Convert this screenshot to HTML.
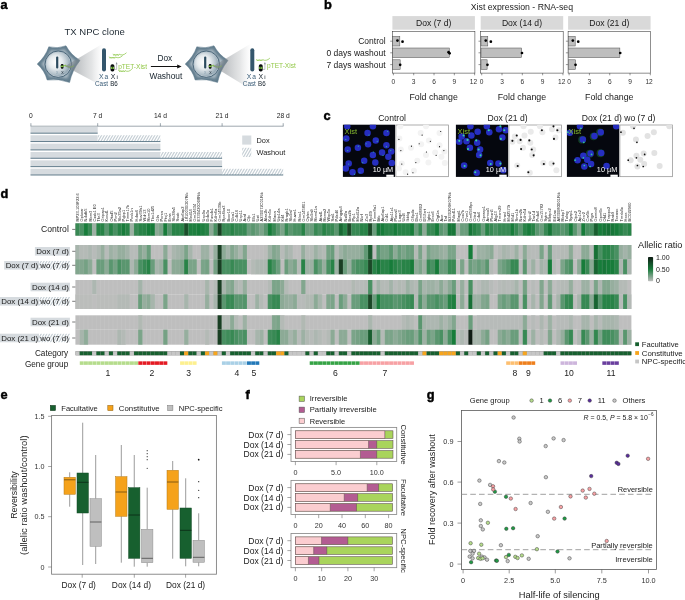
<!DOCTYPE html>
<html lang="en"><head><meta charset="utf-8"><title>Figure</title>
<style>
html,body{margin:0;padding:0;background:#fff;}
body{width:685px;height:600px;overflow:hidden;font-family:"Liberation Sans",sans-serif;}
svg{display:block;font-family:"Liberation Sans",sans-serif;}
</style></head><body>
<svg width="685" height="600" viewBox="0 0 685 600">
<rect width="685" height="600" fill="#fff"/>
<defs>
<pattern id="hatch" width="2.45" height="2.45" patternUnits="userSpaceOnUse" patternTransform="rotate(30)">
<rect width="2.45" height="2.45" fill="#fff"/><rect width="1.2" height="2.45" fill="#c6cfd5"/></pattern>
<radialGradient id="cellg" cx="50%" cy="50%" r="50%"><stop offset="0" stop-color="#c8d3da"/><stop offset="0.62" stop-color="#93a7b3"/><stop offset="1" stop-color="#5f7a8b"/></radialGradient>
<radialGradient id="nucg" cx="40%" cy="42%" r="62%"><stop offset="0" stop-color="#ffffff"/><stop offset="0.45" stop-color="#e6ebee"/><stop offset="0.8" stop-color="#b4c2cb"/><stop offset="1" stop-color="#8ea3b0"/></radialGradient>
<linearGradient id="beam" x1="0" x2="1" y1="0" y2="0"><stop offset="0" stop-color="#6f767b" stop-opacity="0.5"/><stop offset="0.35" stop-color="#858b90" stop-opacity="0.5"/><stop offset="0.7" stop-color="#a9adb0" stop-opacity="0.33"/><stop offset="1" stop-color="#c9cccf" stop-opacity="0"/></linearGradient>
<linearGradient id="cbar" x1="0" x2="0" y1="0" y2="1"><stop offset="0" stop-color="#0d1a12"/><stop offset="0.25" stop-color="#144d29"/><stop offset="0.5" stop-color="#177a3a"/><stop offset="0.75" stop-color="#6a9c7c"/><stop offset="1" stop-color="#bebebe"/></linearGradient>
<filter id="b1" x="-50%" y="-50%" width="200%" height="200%"><feGaussianBlur stdDeviation="0.75"/></filter>
<filter id="b3" x="-50%" y="-50%" width="200%" height="200%"><feGaussianBlur stdDeviation="1.5"/></filter>
<filter id="b2" x="-50%" y="-50%" width="200%" height="200%"><feGaussianBlur stdDeviation="0.4"/></filter>
</defs>
<text x="0.5" y="9.2" font-size="12.8" font-weight="700" fill="#000" stroke="#000" stroke-width="0.45">a</text>
<text x="324.0" y="9.0" font-size="12.8" font-weight="700" fill="#000" stroke="#000" stroke-width="0.45">b</text>
<text x="323.6" y="119.9" font-size="12.8" font-weight="700" fill="#000" stroke="#000" stroke-width="0.45">c</text>
<text x="0.5" y="198.1" font-size="12.8" font-weight="700" fill="#000" stroke="#000" stroke-width="0.45">d</text>
<text x="0.6" y="399.2" font-size="12.8" font-weight="700" fill="#000" stroke="#000" stroke-width="0.45">e</text>
<text x="245.5" y="399.0" font-size="12.8" font-weight="700" fill="#000" stroke="#000" stroke-width="0.45">f</text>
<text x="426.7" y="399.0" font-size="12.8" font-weight="700" fill="#000" stroke="#000" stroke-width="0.45">g</text>
<path d="M37.20,64.00 Q45.48,56.70 48.80,46.80 Q57.58,49.05 66.00,45.80 Q70.68,54.76 80.00,60.40 Q72.19,70.14 69.60,82.40 Q58.42,78.37 47.20,80.00 Q44.81,70.64 37.20,64.00Z" fill="#617c8d" stroke="#5d788a" stroke-width="0.5" stroke-linejoin="round"/>
<clipPath id="cc58"><path d="M37.20,64.00 Q45.48,56.70 48.80,46.80 Q57.58,49.05 66.00,45.80 Q70.68,54.76 80.00,60.40 Q72.19,70.14 69.60,82.40 Q58.42,78.37 47.20,80.00 Q44.81,70.64 37.20,64.00Z"/></clipPath>
<g clip-path="url(#cc58)"><g filter="url(#b3)"><path d="M37.20,64.00 Q45.48,56.70 48.80,46.80 Q57.58,49.05 66.00,45.80 Q70.68,54.76 80.00,60.40 Q72.19,70.14 69.60,82.40 Q58.42,78.37 47.20,80.00 Q44.81,70.64 37.20,64.00Z" fill="#b9c6ce" transform="translate(58.50,63.50) scale(0.80) translate(-58.50,-63.50)"/></g></g>
<circle cx="58.2" cy="64.2" r="14.2" fill="#8299a8" opacity="0.55" filter="url(#b2)"/>
<circle cx="58.2" cy="64.2" r="13.2" fill="#b7c4cd" stroke="#4b677a" stroke-width="1.0"/>
<circle cx="58.2" cy="64.2" r="11.9" fill="url(#nucg)"/>
<rect x="56.10" y="56.40" width="2.20" height="12.10" fill="#2b4a5e" rx="1.0"/>
<rect x="60.80" y="64.00" width="2.70" height="4.80" fill="#06090b" rx="1.2"/>
<rect x="60.80" y="65.60" width="2.70" height="1.50" fill="#7fc241"/>
<path d="M63.5,66.1 l2.2,-1.0 l-0.3,0.9 q2.5,0.2 3.6,1.0 t4.6,-1.0" fill="none" stroke="#86c440" stroke-width="0.9" stroke-linecap="round"/>
<text x="57.30" y="74.22" font-size="4.80" text-anchor="middle" fill="#8fa6b5">x</text>
<text x="62.40" y="74.22" font-size="4.80" text-anchor="middle" fill="#1f2e3a">x</text>
<path d="M65,66.3 L103,43.5 L103,86.5Z" fill="url(#beam)"/>
<path d="M185.20,64.00 Q193.48,56.70 196.80,46.80 Q205.58,49.05 214.00,45.80 Q218.68,54.76 228.00,60.40 Q220.19,70.14 217.60,82.40 Q206.42,78.37 195.20,80.00 Q192.81,70.64 185.20,64.00Z" fill="#617c8d" stroke="#5d788a" stroke-width="0.5" stroke-linejoin="round"/>
<clipPath id="cc206"><path d="M185.20,64.00 Q193.48,56.70 196.80,46.80 Q205.58,49.05 214.00,45.80 Q218.68,54.76 228.00,60.40 Q220.19,70.14 217.60,82.40 Q206.42,78.37 195.20,80.00 Q192.81,70.64 185.20,64.00Z"/></clipPath>
<g clip-path="url(#cc206)"><g filter="url(#b3)"><path d="M185.20,64.00 Q193.48,56.70 196.80,46.80 Q205.58,49.05 214.00,45.80 Q218.68,54.76 228.00,60.40 Q220.19,70.14 217.60,82.40 Q206.42,78.37 195.20,80.00 Q192.81,70.64 185.20,64.00Z" fill="#b9c6ce" transform="translate(206.50,63.50) scale(0.80) translate(-206.50,-63.50)"/></g></g>
<circle cx="206.2" cy="64.2" r="14.2" fill="#8299a8" opacity="0.55" filter="url(#b2)"/>
<circle cx="206.2" cy="64.2" r="13.2" fill="#b7c4cd" stroke="#4b677a" stroke-width="1.0"/>
<circle cx="206.2" cy="64.2" r="11.9" fill="url(#nucg)"/>
<rect x="204.10" y="56.40" width="2.20" height="12.10" fill="#2b4a5e" rx="1.0"/>
<rect x="208.80" y="64.00" width="2.70" height="4.80" fill="#06090b" rx="1.2"/>
<rect x="208.80" y="65.60" width="2.70" height="1.50" fill="#7fc241"/>
<path d="M211.5,66.1 l2.2,-1.0 l-0.3,0.9 q2.5,0.2 3.6,1.0 t4.6,-1.0" fill="none" stroke="#86c440" stroke-width="0.9" stroke-linecap="round"/>
<text x="205.30" y="74.22" font-size="4.80" text-anchor="middle" fill="#8fa6b5">x</text>
<text x="210.40" y="74.22" font-size="4.80" text-anchor="middle" fill="#1f2e3a">x</text>
<path d="M213,66.3 L251,43.5 L251,89.5Z" fill="url(#beam)"/>
<text x="64.50" y="35.41" font-size="9.52" text-anchor="start" fill="#1f2a33">TX NPC clone</text>
<rect x="102.00" y="48.20" width="4.00" height="23.30" fill="#34566c" rx="2"/>
<rect x="110.50" y="64.20" width="3.90" height="7.30" fill="#080b0e" rx="1.7"/>
<rect x="110.90" y="66.80" width="3.10" height="2.20" fill="#7fc241"/>
<circle cx="112.45" cy="67.90" r="0.65" fill="#0b2a12"/>
<path d="M114.6,69.4 H116.6 V62.9" fill="none" stroke="#8a9197" stroke-width="0.55"/>
<path d="M115.7,64.2 L116.6,62.0 L117.5,64.2Z" fill="#8a9197"/>
<path d="M113.2,54.2 l0.75,1.3 l0.75,-1.3 l0.75,1.3 l0.75,-1.3 l0.75,1.3 l0.75,-1.3 l0.75,1.3 l0.75,-1.3 c2.1,1.3 4.9,1.0 7.0,-1.2" fill="none" stroke="#86c440" stroke-width="0.7" stroke-linejoin="round" stroke-linecap="round"/>
<path d="M109.4,57.0 l0.75,1.3 l0.75,-1.3 l0.75,1.3 l0.75,-1.3 l0.75,1.3 l0.75,-1.3 l0.75,1.3 l0.75,-1.3 c2.1,1.3 4.9,1.0 7.0,-1.2" fill="none" stroke="#86c440" stroke-width="0.7" stroke-linejoin="round" stroke-linecap="round"/>
<path d="M119.1,70.6 l0.75,1.3 l0.75,-1.3 l0.75,1.3 l0.75,-1.3 l0.75,1.3 l0.75,-1.3 l0.75,1.3 l0.75,-1.3 c1.9,1.3 4.5,1.0 6.5,-1.2" fill="none" stroke="#86c440" stroke-width="0.7" stroke-linejoin="round" stroke-linecap="round"/>
<rect x="250.30" y="48.20" width="4.00" height="23.30" fill="#34566c" rx="2"/>
<rect x="258.80" y="64.20" width="3.90" height="7.30" fill="#080b0e" rx="1.7"/>
<rect x="259.20" y="66.80" width="3.10" height="2.20" fill="#7fc241"/>
<circle cx="260.75" cy="67.90" r="0.65" fill="#0b2a12"/>
<path d="M262.9,69.4 H264.9 V62.9" fill="none" stroke="#8a9197" stroke-width="0.55"/>
<path d="M264.0,64.2 L264.9,62.0 L265.8,64.2Z" fill="#8a9197"/>
<path d="M256.6,59.6 l0.75,1.3 l0.75,-1.3 l0.75,1.3 l0.75,-1.3 l0.75,1.3 l0.75,-1.3 l0.75,1.3 l0.75,-1.3 c2.1,1.3 4.9,1.0 7.0,-1.2" fill="none" stroke="#86c440" stroke-width="0.7" stroke-linejoin="round" stroke-linecap="round"/>
<text x="118.20" y="68.53" font-size="6.50" text-anchor="start" fill="#93c848" textLength="28.80" lengthAdjust="spacingAndGlyphs">pTET-Xist</text>
<text x="267.00" y="68.33" font-size="6.50" text-anchor="start" fill="#93c848" textLength="28.80" lengthAdjust="spacingAndGlyphs">pTET-Xist</text>
<text x="99.00" y="78.79" font-size="7.80" text-anchor="start" fill="#3b5d78" textLength="4.60" lengthAdjust="spacingAndGlyphs">X</text>
<text x="104.40" y="78.96" font-size="6.60" text-anchor="start" fill="#3b5d78">a</text>
<text x="110.80" y="78.79" font-size="7.80" text-anchor="start" fill="#14202b" textLength="4.60" lengthAdjust="spacingAndGlyphs">X</text>
<text x="116.40" y="79.12" font-size="6.20" text-anchor="start" fill="#14202b">i</text>
<text x="95.00" y="85.66" font-size="6.60" text-anchor="start" fill="#3b5d78" textLength="13.10" lengthAdjust="spacingAndGlyphs">Cast</text>
<text x="110.20" y="85.66" font-size="6.60" text-anchor="start" fill="#14202b" textLength="7.60" lengthAdjust="spacingAndGlyphs">B6</text>
<text x="246.80" y="78.79" font-size="7.80" text-anchor="start" fill="#3b5d78" textLength="4.60" lengthAdjust="spacingAndGlyphs">X</text>
<text x="252.20" y="78.96" font-size="6.60" text-anchor="start" fill="#3b5d78">a</text>
<text x="258.60" y="78.79" font-size="7.80" text-anchor="start" fill="#14202b" textLength="4.60" lengthAdjust="spacingAndGlyphs">X</text>
<text x="264.20" y="79.12" font-size="6.20" text-anchor="start" fill="#14202b">i</text>
<text x="242.80" y="85.66" font-size="6.60" text-anchor="start" fill="#3b5d78" textLength="13.10" lengthAdjust="spacingAndGlyphs">Cast</text>
<text x="258.00" y="85.66" font-size="6.60" text-anchor="start" fill="#14202b" textLength="7.60" lengthAdjust="spacingAndGlyphs">B6</text>
<line x1="150.90" y1="66.50" x2="178.50" y2="66.50" stroke="#111" stroke-width="1.0"/>
<path d="M177.2,64.4 L181.6,66.5 L177.2,68.6Z" fill="#111"/>
<text x="157.40" y="60.98" font-size="8.32" text-anchor="start" fill="#16222c">Dox</text>
<text x="149.60" y="78.90" font-size="8.39" text-anchor="start" fill="#16222c">Washout</text>
<line x1="30.50" y1="126.20" x2="283.50" y2="126.20" stroke="#5d6d78" stroke-width="0.6"/>
<line x1="30.90" y1="123.20" x2="30.90" y2="126.20" stroke="#5d6d78" stroke-width="0.6"/>
<text x="30.90" y="118.40" font-size="6.70" text-anchor="middle" fill="#222">0</text>
<line x1="97.70" y1="123.20" x2="97.70" y2="126.20" stroke="#5d6d78" stroke-width="0.6"/>
<text x="97.70" y="118.40" font-size="6.70" text-anchor="middle" fill="#222">7 d</text>
<line x1="160.40" y1="123.20" x2="160.40" y2="126.20" stroke="#5d6d78" stroke-width="0.6"/>
<text x="160.40" y="118.40" font-size="6.70" text-anchor="middle" fill="#222">14 d</text>
<line x1="222.10" y1="123.20" x2="222.10" y2="126.20" stroke="#5d6d78" stroke-width="0.6"/>
<text x="222.10" y="118.40" font-size="6.70" text-anchor="middle" fill="#222">21 d</text>
<line x1="283.20" y1="123.20" x2="283.20" y2="126.20" stroke="#5d6d78" stroke-width="0.6"/>
<text x="283.20" y="118.40" font-size="6.70" text-anchor="middle" fill="#222">28 d</text>
<rect x="30.50" y="126.90" width="67.20" height="6.30" fill="#d6dbdf"/>
<line x1="30.50" y1="133.20" x2="97.70" y2="133.20" stroke="#3f5f72" stroke-width="0.8"/>
<rect x="30.50" y="135.26" width="67.20" height="6.30" fill="#d6dbdf"/>
<clipPath id="hc1"><rect x="97.70" y="135.26" width="62.70" height="6.30"/></clipPath>
<rect x="97.70" y="135.26" width="62.70" height="6.30" fill="#fff"/>
<path d="M92.10,142.06L96.34,134.76M94.90,142.06L99.14,134.76M97.70,142.06L101.94,134.76M100.50,142.06L104.74,134.76M103.30,142.06L107.54,134.76M106.10,142.06L110.34,134.76M108.90,142.06L113.14,134.76M111.70,142.06L115.94,134.76M114.50,142.06L118.74,134.76M117.30,142.06L121.54,134.76M120.10,142.06L124.34,134.76M122.90,142.06L127.14,134.76M125.70,142.06L129.94,134.76M128.50,142.06L132.74,134.76M131.30,142.06L135.54,134.76M134.10,142.06L138.34,134.76M136.90,142.06L141.14,134.76M139.70,142.06L143.94,134.76M142.50,142.06L146.74,134.76M145.30,142.06L149.54,134.76M148.10,142.06L152.34,134.76M150.90,142.06L155.14,134.76M153.70,142.06L157.94,134.76M156.50,142.06L160.74,134.76M159.30,142.06L163.54,134.76" stroke="#c6cfd5" stroke-width="1.2" fill="none" clip-path="url(#hc1)"/>
<line x1="30.50" y1="141.56" x2="160.40" y2="141.56" stroke="#3f5f72" stroke-width="0.8"/>
<rect x="30.50" y="143.62" width="129.90" height="6.30" fill="#d6dbdf"/>
<line x1="30.50" y1="149.92" x2="160.40" y2="149.92" stroke="#3f5f72" stroke-width="0.8"/>
<rect x="30.50" y="151.98" width="129.90" height="6.30" fill="#d6dbdf"/>
<clipPath id="hc2"><rect x="160.40" y="151.98" width="61.70" height="6.30"/></clipPath>
<rect x="160.40" y="151.98" width="61.70" height="6.30" fill="#fff"/>
<path d="M153.70,158.78L157.94,151.48M156.50,158.78L160.74,151.48M159.30,158.78L163.54,151.48M162.10,158.78L166.34,151.48M164.90,158.78L169.14,151.48M167.70,158.78L171.94,151.48M170.50,158.78L174.74,151.48M173.30,158.78L177.54,151.48M176.10,158.78L180.34,151.48M178.90,158.78L183.14,151.48M181.70,158.78L185.94,151.48M184.50,158.78L188.74,151.48M187.30,158.78L191.54,151.48M190.10,158.78L194.34,151.48M192.90,158.78L197.14,151.48M195.70,158.78L199.94,151.48M198.50,158.78L202.74,151.48M201.30,158.78L205.54,151.48M204.10,158.78L208.34,151.48M206.90,158.78L211.14,151.48M209.70,158.78L213.94,151.48M212.50,158.78L216.74,151.48M215.30,158.78L219.54,151.48M218.10,158.78L222.34,151.48M220.90,158.78L225.14,151.48" stroke="#c6cfd5" stroke-width="1.2" fill="none" clip-path="url(#hc2)"/>
<line x1="30.50" y1="158.28" x2="222.10" y2="158.28" stroke="#3f5f72" stroke-width="0.8"/>
<rect x="30.50" y="160.34" width="191.60" height="6.30" fill="#d6dbdf"/>
<line x1="30.50" y1="166.64" x2="222.10" y2="166.64" stroke="#3f5f72" stroke-width="0.8"/>
<rect x="30.50" y="168.70" width="191.60" height="6.30" fill="#d6dbdf"/>
<clipPath id="hc3"><rect x="222.10" y="168.70" width="61.10" height="6.30"/></clipPath>
<rect x="222.10" y="168.70" width="61.10" height="6.30" fill="#fff"/>
<path d="M215.30,175.50L219.54,168.20M218.10,175.50L222.34,168.20M220.90,175.50L225.14,168.20M223.70,175.50L227.94,168.20M226.50,175.50L230.74,168.20M229.30,175.50L233.54,168.20M232.10,175.50L236.34,168.20M234.90,175.50L239.14,168.20M237.70,175.50L241.94,168.20M240.50,175.50L244.74,168.20M243.30,175.50L247.54,168.20M246.10,175.50L250.34,168.20M248.90,175.50L253.14,168.20M251.70,175.50L255.94,168.20M254.50,175.50L258.74,168.20M257.30,175.50L261.54,168.20M260.10,175.50L264.34,168.20M262.90,175.50L267.14,168.20M265.70,175.50L269.94,168.20M268.50,175.50L272.74,168.20M271.30,175.50L275.54,168.20M274.10,175.50L278.34,168.20M276.90,175.50L281.14,168.20M279.70,175.50L283.94,168.20M282.50,175.50L286.74,168.20" stroke="#c6cfd5" stroke-width="1.2" fill="none" clip-path="url(#hc3)"/>
<line x1="30.50" y1="175.00" x2="283.20" y2="175.00" stroke="#3f5f72" stroke-width="0.8"/>
<rect x="242.20" y="135.50" width="9.10" height="9.10" fill="#d6dbdf"/>
<clipPath id="hc4"><rect x="242.20" y="147.80" width="9.10" height="9.10"/></clipPath>
<rect x="242.20" y="147.80" width="9.10" height="9.10" fill="#fff"/>
<path d="M234.90,157.40L240.75,147.30M237.70,157.40L243.55,147.30M240.50,157.40L246.35,147.30M243.30,157.40L249.15,147.30M246.10,157.40L251.95,147.30M248.90,157.40L254.75,147.30M251.70,157.40L257.55,147.30" stroke="#c6cfd5" stroke-width="1.2" fill="none" clip-path="url(#hc4)"/>
<text x="256.50" y="142.85" font-size="7.40" text-anchor="start" fill="#222">Dox</text>
<text x="256.50" y="155.05" font-size="7.40" text-anchor="start" fill="#222">Washout</text>
<text x="470.80" y="10.02" font-size="8.72" text-anchor="start" fill="#222">Xist expression - RNA-seq</text>
<rect x="392.40" y="16.10" width="82.50" height="13.60" fill="#d9d9d9"/>
<text x="433.65" y="26.38" font-size="8.60" text-anchor="middle" fill="#1a1a1a">Dox (7 d)</text>
<rect x="392.40" y="31.60" width="82.50" height="41.50" fill="#fff" stroke="#333" stroke-width="0.55"/>
<rect x="392.70" y="36.40" width="7.13" height="9.60" fill="#bebebe" stroke="#4d4d4d" stroke-width="0.5"/>
<rect x="392.70" y="48.00" width="56.55" height="9.60" fill="#bebebe" stroke="#4d4d4d" stroke-width="0.5"/>
<rect x="392.70" y="59.80" width="7.47" height="9.60" fill="#bebebe" stroke="#4d4d4d" stroke-width="0.5"/>
<circle cx="397.46" cy="40.60" r="1.35" fill="#000"/>
<circle cx="402.54" cy="41.70" r="1.35" fill="#000"/>
<line x1="390.20" y1="41.20" x2="392.40" y2="41.20" stroke="#333" stroke-width="0.5"/>
<circle cx="448.58" cy="52.20" r="1.35" fill="#000"/>
<circle cx="449.59" cy="53.30" r="1.35" fill="#000"/>
<line x1="390.20" y1="52.80" x2="392.40" y2="52.80" stroke="#333" stroke-width="0.5"/>
<circle cx="400.17" cy="64.80" r="1.35" fill="#000"/>
<line x1="390.20" y1="64.60" x2="392.40" y2="64.60" stroke="#333" stroke-width="0.5"/>
<line x1="393.40" y1="73.10" x2="393.40" y2="75.30" stroke="#333" stroke-width="0.5"/>
<text x="393.40" y="84.16" font-size="6.60" text-anchor="middle" fill="#333">0</text>
<line x1="413.71" y1="73.10" x2="413.71" y2="75.30" stroke="#333" stroke-width="0.5"/>
<text x="413.71" y="84.16" font-size="6.60" text-anchor="middle" fill="#333">3</text>
<line x1="434.02" y1="73.10" x2="434.02" y2="75.30" stroke="#333" stroke-width="0.5"/>
<text x="434.02" y="84.16" font-size="6.60" text-anchor="middle" fill="#333">6</text>
<line x1="454.33" y1="73.10" x2="454.33" y2="75.30" stroke="#333" stroke-width="0.5"/>
<text x="454.33" y="84.16" font-size="6.60" text-anchor="middle" fill="#333">9</text>
<line x1="474.64" y1="73.10" x2="474.64" y2="75.30" stroke="#333" stroke-width="0.5"/>
<text x="473.44" y="84.16" font-size="6.60" text-anchor="middle" fill="#333">12</text>
<text x="433.60" y="99.55" font-size="8.80" text-anchor="middle" fill="#1a1a1a">Fold change</text>
<rect x="480.70" y="16.10" width="82.50" height="13.60" fill="#d9d9d9"/>
<text x="521.95" y="26.38" font-size="8.60" text-anchor="middle" fill="#1a1a1a">Dox (14 d)</text>
<rect x="480.70" y="31.60" width="82.50" height="41.50" fill="#fff" stroke="#333" stroke-width="0.55"/>
<rect x="481.00" y="36.40" width="6.79" height="9.60" fill="#bebebe" stroke="#4d4d4d" stroke-width="0.5"/>
<rect x="481.00" y="48.00" width="40.64" height="9.60" fill="#bebebe" stroke="#4d4d4d" stroke-width="0.5"/>
<rect x="481.00" y="59.80" width="6.12" height="9.60" fill="#bebebe" stroke="#4d4d4d" stroke-width="0.5"/>
<circle cx="485.76" cy="40.60" r="1.35" fill="#000"/>
<circle cx="490.84" cy="41.70" r="1.35" fill="#000"/>
<line x1="478.50" y1="41.20" x2="480.70" y2="41.20" stroke="#333" stroke-width="0.5"/>
<circle cx="521.98" cy="53.00" r="1.35" fill="#000"/>
<line x1="478.50" y1="52.80" x2="480.70" y2="52.80" stroke="#333" stroke-width="0.5"/>
<circle cx="487.45" cy="64.80" r="1.35" fill="#000"/>
<line x1="478.50" y1="64.60" x2="480.70" y2="64.60" stroke="#333" stroke-width="0.5"/>
<line x1="481.70" y1="73.10" x2="481.70" y2="75.30" stroke="#333" stroke-width="0.5"/>
<text x="481.70" y="84.16" font-size="6.60" text-anchor="middle" fill="#333">0</text>
<line x1="502.01" y1="73.10" x2="502.01" y2="75.30" stroke="#333" stroke-width="0.5"/>
<text x="502.01" y="84.16" font-size="6.60" text-anchor="middle" fill="#333">3</text>
<line x1="522.32" y1="73.10" x2="522.32" y2="75.30" stroke="#333" stroke-width="0.5"/>
<text x="522.32" y="84.16" font-size="6.60" text-anchor="middle" fill="#333">6</text>
<line x1="542.63" y1="73.10" x2="542.63" y2="75.30" stroke="#333" stroke-width="0.5"/>
<text x="542.63" y="84.16" font-size="6.60" text-anchor="middle" fill="#333">9</text>
<line x1="562.94" y1="73.10" x2="562.94" y2="75.30" stroke="#333" stroke-width="0.5"/>
<text x="561.74" y="84.16" font-size="6.60" text-anchor="middle" fill="#333">12</text>
<text x="521.90" y="99.55" font-size="8.80" text-anchor="middle" fill="#1a1a1a">Fold change</text>
<rect x="568.10" y="16.10" width="82.50" height="13.60" fill="#d9d9d9"/>
<text x="609.35" y="26.38" font-size="8.60" text-anchor="middle" fill="#1a1a1a">Dox (21 d)</text>
<rect x="568.10" y="31.60" width="82.50" height="41.50" fill="#fff" stroke="#333" stroke-width="0.55"/>
<rect x="568.40" y="36.40" width="6.79" height="9.60" fill="#bebebe" stroke="#4d4d4d" stroke-width="0.5"/>
<rect x="568.40" y="48.00" width="51.47" height="9.60" fill="#bebebe" stroke="#4d4d4d" stroke-width="0.5"/>
<rect x="568.40" y="59.80" width="7.13" height="9.60" fill="#bebebe" stroke="#4d4d4d" stroke-width="0.5"/>
<circle cx="572.82" cy="40.60" r="1.35" fill="#000"/>
<circle cx="578.24" cy="41.70" r="1.35" fill="#000"/>
<line x1="565.90" y1="41.20" x2="568.10" y2="41.20" stroke="#333" stroke-width="0.5"/>
<circle cx="620.21" cy="53.00" r="1.35" fill="#000"/>
<line x1="565.90" y1="52.80" x2="568.10" y2="52.80" stroke="#333" stroke-width="0.5"/>
<circle cx="575.53" cy="64.80" r="1.35" fill="#000"/>
<line x1="565.90" y1="64.60" x2="568.10" y2="64.60" stroke="#333" stroke-width="0.5"/>
<line x1="569.10" y1="73.10" x2="569.10" y2="75.30" stroke="#333" stroke-width="0.5"/>
<text x="569.10" y="84.16" font-size="6.60" text-anchor="middle" fill="#333">0</text>
<line x1="589.41" y1="73.10" x2="589.41" y2="75.30" stroke="#333" stroke-width="0.5"/>
<text x="589.41" y="84.16" font-size="6.60" text-anchor="middle" fill="#333">3</text>
<line x1="609.72" y1="73.10" x2="609.72" y2="75.30" stroke="#333" stroke-width="0.5"/>
<text x="609.72" y="84.16" font-size="6.60" text-anchor="middle" fill="#333">6</text>
<line x1="630.03" y1="73.10" x2="630.03" y2="75.30" stroke="#333" stroke-width="0.5"/>
<text x="630.03" y="84.16" font-size="6.60" text-anchor="middle" fill="#333">9</text>
<line x1="650.34" y1="73.10" x2="650.34" y2="75.30" stroke="#333" stroke-width="0.5"/>
<text x="649.14" y="84.16" font-size="6.60" text-anchor="middle" fill="#333">12</text>
<text x="609.30" y="99.55" font-size="8.80" text-anchor="middle" fill="#1a1a1a">Fold change</text>
<text x="385.60" y="44.14" font-size="8.50" text-anchor="end" fill="#1a1a1a">Control</text>
<text x="385.60" y="55.74" font-size="8.50" text-anchor="end" fill="#1a1a1a">0 days washout</text>
<text x="385.60" y="67.54" font-size="8.50" text-anchor="end" fill="#1a1a1a">7 days washout</text>
<text x="392.00" y="120.68" font-size="8.60" text-anchor="middle" fill="#1a1a1a">Control</text>
<text x="507.50" y="120.68" font-size="8.60" text-anchor="middle" fill="#1a1a1a">Dox (21 d)</text>
<text x="618.50" y="120.68" font-size="8.60" text-anchor="middle" fill="#1a1a1a">Dox (21 d) wo (7 d)</text>
<clipPath id="cd0"><rect x="342.9" y="124.7" width="52.20" height="52.2"/></clipPath>
<clipPath id="cw0"><rect x="395.9" y="124.7" width="52.70" height="52.2"/></clipPath>
<rect x="342.90" y="124.70" width="52.20" height="52.20" fill="#05070e"/>
<g clip-path="url(#cd0)"><g filter="url(#b1)">
<circle cx="367.56" cy="133.12" r="3.25" fill="#252fc0"/>
<circle cx="386.42" cy="133.12" r="3.25" fill="#252fc0"/>
<circle cx="372.88" cy="126.35" r="3.25" fill="#252fc0"/>
<circle cx="346.29" cy="138.44" r="3.25" fill="#252fc0"/>
<circle cx="375.78" cy="140.38" r="3.25" fill="#252fc0"/>
<circle cx="368.05" cy="144.24" r="3.25" fill="#252fc0"/>
<circle cx="386.42" cy="145.21" r="3.25" fill="#252fc0"/>
<circle cx="357.89" cy="147.63" r="3.25" fill="#252fc0"/>
<circle cx="347.74" cy="149.56" r="3.25" fill="#252fc0"/>
<circle cx="382.07" cy="152.46" r="3.25" fill="#252fc0"/>
<circle cx="391.26" cy="151.50" r="3.25" fill="#252fc0"/>
<circle cx="372.88" cy="154.88" r="3.25" fill="#252fc0"/>
<circle cx="388.36" cy="156.82" r="3.25" fill="#252fc0"/>
<circle cx="364.18" cy="160.68" r="3.25" fill="#252fc0"/>
<circle cx="375.30" cy="162.62" r="3.25" fill="#252fc0"/>
<circle cx="391.74" cy="163.10" r="3.25" fill="#252fc0"/>
<circle cx="348.70" cy="163.59" r="3.25" fill="#252fc0"/>
<circle cx="360.79" cy="170.84" r="3.25" fill="#252fc0"/>
<circle cx="352.57" cy="172.29" r="3.25" fill="#252fc0"/>
<circle cx="345.80" cy="168.42" r="3.25" fill="#252fc0"/>
<circle cx="347.25" cy="126.35" r="3.25" fill="#252fc0"/>
</g><g filter="url(#b2)">
<circle cx="369.01" cy="135.06" r="0.60" fill="#2fb0a0"/>
<circle cx="387.58" cy="131.48" r="0.60" fill="#2fb0a0"/>
<circle cx="345.80" cy="139.41" r="0.60" fill="#2fb0a0"/>
<circle cx="377.23" cy="141.34" r="0.60" fill="#2fb0a0"/>
<circle cx="366.11" cy="143.76" r="0.60" fill="#2fb0a0"/>
<circle cx="386.42" cy="146.66" r="0.60" fill="#2fb0a0"/>
<circle cx="358.38" cy="146.18" r="0.60" fill="#2fb0a0"/>
<circle cx="347.74" cy="150.53" r="0.60" fill="#2fb0a0"/>
<circle cx="383.04" cy="155.37" r="0.60" fill="#2fb0a0"/>
<circle cx="390.77" cy="150.53" r="0.60" fill="#2fb0a0"/>
<circle cx="373.37" cy="151.98" r="0.60" fill="#2fb0a0"/>
<circle cx="362.73" cy="162.62" r="0.60" fill="#2fb0a0"/>
<circle cx="348.70" cy="164.07" r="0.60" fill="#2fb0a0"/>
<circle cx="354.51" cy="174.22" r="0.60" fill="#2fb0a0"/>
<circle cx="359.83" cy="172.77" r="0.60" fill="#2fb0a0"/>
</g></g>
<rect x="395.90" y="125.00" width="52.70" height="51.70" fill="#fff" stroke="#8a8a8a" stroke-width="0.7"/>
<g clip-path="url(#cw0)"><g filter="url(#b1)">
<circle cx="420.66" cy="133.12" r="3.00" fill="#f3f3f3"/>
<circle cx="439.52" cy="133.12" r="3.00" fill="#f3f3f3"/>
<circle cx="425.98" cy="126.35" r="3.00" fill="#f3f3f3"/>
<circle cx="399.39" cy="138.44" r="3.00" fill="#f3f3f3"/>
<circle cx="428.88" cy="140.38" r="3.00" fill="#f3f3f3"/>
<circle cx="421.15" cy="144.24" r="3.00" fill="#f3f3f3"/>
<circle cx="439.52" cy="145.21" r="3.00" fill="#f3f3f3"/>
<circle cx="410.99" cy="147.63" r="3.00" fill="#f3f3f3"/>
<circle cx="400.84" cy="149.56" r="3.00" fill="#f3f3f3"/>
<circle cx="435.17" cy="152.46" r="3.00" fill="#f3f3f3"/>
<circle cx="444.36" cy="151.50" r="3.00" fill="#f3f3f3"/>
<circle cx="425.98" cy="154.88" r="3.00" fill="#f3f3f3"/>
<circle cx="441.46" cy="156.82" r="3.00" fill="#f3f3f3"/>
<circle cx="417.28" cy="160.68" r="3.00" fill="#f3f3f3"/>
<circle cx="428.40" cy="162.62" r="3.00" fill="#f3f3f3"/>
<circle cx="444.84" cy="163.10" r="3.00" fill="#f3f3f3"/>
<circle cx="401.80" cy="163.59" r="3.00" fill="#f3f3f3"/>
<circle cx="413.89" cy="170.84" r="3.00" fill="#f3f3f3"/>
<circle cx="405.67" cy="172.29" r="3.00" fill="#f3f3f3"/>
<circle cx="398.90" cy="168.42" r="3.00" fill="#f3f3f3"/>
<circle cx="400.35" cy="126.35" r="3.00" fill="#f3f3f3"/>
</g><g filter="url(#b2)">
<circle cx="422.11" cy="135.06" r="0.60" fill="#111"/>
<circle cx="440.68" cy="131.48" r="0.60" fill="#111"/>
<circle cx="398.90" cy="139.41" r="0.60" fill="#111"/>
<circle cx="430.33" cy="141.34" r="0.60" fill="#111"/>
<circle cx="419.21" cy="143.76" r="0.60" fill="#111"/>
<circle cx="439.52" cy="146.66" r="0.60" fill="#111"/>
<circle cx="411.48" cy="146.18" r="0.60" fill="#111"/>
<circle cx="400.84" cy="150.53" r="0.60" fill="#111"/>
<circle cx="436.14" cy="155.37" r="0.60" fill="#111"/>
<circle cx="443.87" cy="150.53" r="0.60" fill="#111"/>
<circle cx="426.47" cy="151.98" r="0.60" fill="#111"/>
<circle cx="415.83" cy="162.62" r="0.60" fill="#111"/>
<circle cx="401.80" cy="164.07" r="0.60" fill="#111"/>
<circle cx="407.61" cy="174.22" r="0.60" fill="#111"/>
<circle cx="412.93" cy="172.77" r="0.60" fill="#111"/>
</g></g>
<text x="344.60" y="133.99" font-size="7.50" text-anchor="start" fill="#86b92f">Xist</text>
<text x="393.20" y="171.81" font-size="7.30" text-anchor="end" fill="#fff">10 µM</text>
<rect x="386.30" y="174.70" width="7.40" height="2.20" fill="#fff"/>
<clipPath id="cd1"><rect x="455.9" y="124.7" width="52.20" height="52.2"/></clipPath>
<clipPath id="cw1"><rect x="508.9" y="124.7" width="52.50" height="52.2"/></clipPath>
<rect x="455.90" y="124.70" width="52.20" height="52.20" fill="#05070e"/>
<g clip-path="url(#cd1)"><g filter="url(#b1)">
<circle cx="470.41" cy="126.35" r="3.25" fill="#252fc0"/>
<circle cx="486.85" cy="126.35" r="3.25" fill="#252fc0"/>
<circle cx="477.66" cy="131.67" r="3.25" fill="#252fc0"/>
<circle cx="489.27" cy="132.15" r="3.25" fill="#252fc0"/>
<circle cx="498.94" cy="129.25" r="3.25" fill="#252fc0"/>
<circle cx="505.71" cy="130.22" r="3.25" fill="#252fc0"/>
<circle cx="461.70" cy="136.51" r="3.25" fill="#252fc0"/>
<circle cx="471.38" cy="135.54" r="3.25" fill="#252fc0"/>
<circle cx="502.32" cy="137.47" r="3.25" fill="#252fc0"/>
<circle cx="466.54" cy="141.34" r="3.25" fill="#252fc0"/>
<circle cx="459.29" cy="141.83" r="3.25" fill="#252fc0"/>
<circle cx="477.18" cy="142.79" r="3.25" fill="#252fc0"/>
<circle cx="469.92" cy="147.63" r="3.25" fill="#252fc0"/>
<circle cx="480.08" cy="149.56" r="3.25" fill="#252fc0"/>
<circle cx="479.11" cy="154.88" r="3.25" fill="#252fc0"/>
<circle cx="490.23" cy="163.10" r="3.25" fill="#252fc0"/>
<circle cx="498.45" cy="163.59" r="3.25" fill="#252fc0"/>
<circle cx="464.12" cy="165.52" r="3.25" fill="#252fc0"/>
<circle cx="476.69" cy="172.77" r="3.25" fill="#252fc0"/>
<circle cx="503.29" cy="170.36" r="3.25" fill="#252fc0"/>
</g><g filter="url(#b2)">
<circle cx="488.78" cy="130.22" r="1.05" fill="#35d6a2"/>
<circle cx="500.39" cy="126.35" r="1.05" fill="#35d6a2"/>
<circle cx="504.26" cy="130.22" r="1.05" fill="#35d6a2"/>
<circle cx="463.64" cy="135.54" r="1.05" fill="#35d6a2"/>
<circle cx="500.87" cy="138.92" r="1.05" fill="#35d6a2"/>
<circle cx="467.51" cy="139.89" r="1.05" fill="#35d6a2"/>
<circle cx="459.29" cy="140.86" r="1.05" fill="#35d6a2"/>
<circle cx="476.21" cy="140.38" r="1.05" fill="#35d6a2"/>
<circle cx="467.99" cy="149.08" r="1.05" fill="#35d6a2"/>
<circle cx="478.63" cy="149.56" r="1.05" fill="#35d6a2"/>
<circle cx="480.56" cy="155.37" r="1.05" fill="#35d6a2"/>
<circle cx="490.72" cy="164.07" r="1.05" fill="#35d6a2"/>
<circle cx="500.39" cy="163.59" r="1.05" fill="#35d6a2"/>
<circle cx="464.61" cy="166.00" r="1.05" fill="#35d6a2"/>
<circle cx="475.24" cy="172.29" r="1.05" fill="#35d6a2"/>
</g></g>
<rect x="508.90" y="125.00" width="52.50" height="51.70" fill="#fff" stroke="#8a8a8a" stroke-width="0.7"/>
<g clip-path="url(#cw1)"><g filter="url(#b1)">
<circle cx="523.51" cy="126.35" r="3.00" fill="#eaeaea"/>
<circle cx="539.95" cy="126.35" r="3.00" fill="#eaeaea"/>
<circle cx="530.76" cy="131.67" r="3.00" fill="#eaeaea"/>
<circle cx="542.37" cy="132.15" r="3.00" fill="#eaeaea"/>
<circle cx="552.04" cy="129.25" r="3.00" fill="#eaeaea"/>
<circle cx="558.81" cy="130.22" r="3.00" fill="#eaeaea"/>
<circle cx="514.80" cy="136.51" r="3.00" fill="#eaeaea"/>
<circle cx="524.48" cy="135.54" r="3.00" fill="#eaeaea"/>
<circle cx="555.42" cy="137.47" r="3.00" fill="#eaeaea"/>
<circle cx="519.64" cy="141.34" r="3.00" fill="#eaeaea"/>
<circle cx="512.39" cy="141.83" r="3.00" fill="#eaeaea"/>
<circle cx="530.28" cy="142.79" r="3.00" fill="#eaeaea"/>
<circle cx="523.02" cy="147.63" r="3.00" fill="#eaeaea"/>
<circle cx="533.18" cy="149.56" r="3.00" fill="#eaeaea"/>
<circle cx="532.21" cy="154.88" r="3.00" fill="#eaeaea"/>
<circle cx="543.33" cy="163.10" r="3.00" fill="#eaeaea"/>
<circle cx="551.55" cy="163.59" r="3.00" fill="#eaeaea"/>
<circle cx="517.22" cy="165.52" r="3.00" fill="#eaeaea"/>
<circle cx="529.79" cy="172.77" r="3.00" fill="#eaeaea"/>
<circle cx="556.39" cy="170.36" r="3.00" fill="#eaeaea"/>
</g><g filter="url(#b2)">
<circle cx="541.88" cy="130.22" r="1.05" fill="#111"/>
<circle cx="553.49" cy="126.35" r="1.05" fill="#111"/>
<circle cx="557.36" cy="130.22" r="1.05" fill="#111"/>
<circle cx="516.74" cy="135.54" r="1.05" fill="#111"/>
<circle cx="553.97" cy="138.92" r="1.05" fill="#111"/>
<circle cx="520.61" cy="139.89" r="1.05" fill="#111"/>
<circle cx="512.39" cy="140.86" r="1.05" fill="#111"/>
<circle cx="529.31" cy="140.38" r="1.05" fill="#111"/>
<circle cx="521.09" cy="149.08" r="1.05" fill="#111"/>
<circle cx="531.73" cy="149.56" r="1.05" fill="#111"/>
<circle cx="533.66" cy="155.37" r="1.05" fill="#111"/>
<circle cx="543.82" cy="164.07" r="1.05" fill="#111"/>
<circle cx="553.49" cy="163.59" r="1.05" fill="#111"/>
<circle cx="517.71" cy="166.00" r="1.05" fill="#111"/>
<circle cx="528.34" cy="172.29" r="1.05" fill="#111"/>
</g></g>
<text x="457.60" y="133.99" font-size="7.50" text-anchor="start" fill="#86b92f">Xist</text>
<text x="506.20" y="171.81" font-size="7.30" text-anchor="end" fill="#fff">10 µM</text>
<rect x="499.30" y="174.70" width="7.40" height="2.20" fill="#fff"/>
<clipPath id="cd2"><rect x="566.9" y="124.7" width="52.30" height="52.2"/></clipPath>
<clipPath id="cw2"><rect x="619.9" y="124.7" width="52.70" height="52.2"/></clipPath>
<rect x="566.90" y="124.70" width="52.30" height="52.20" fill="#05070e"/>
<g clip-path="url(#cd2)"><g filter="url(#b1)">
<circle cx="599.95" cy="132.45" r="3.90" fill="#123d24"/>
<circle cx="593.66" cy="136.32" r="3.90" fill="#123d24"/>
<circle cx="582.06" cy="139.71" r="3.90" fill="#123d24"/>
<circle cx="589.80" cy="153.73" r="3.90" fill="#123d24"/>
<circle cx="600.43" cy="153.25" r="3.90" fill="#123d24"/>
<circle cx="579.96" cy="126.35" r="3.25" fill="#252fc0"/>
<circle cx="616.22" cy="126.35" r="3.25" fill="#252fc0"/>
<circle cx="569.80" cy="132.64" r="3.25" fill="#252fc0"/>
<circle cx="600.75" cy="132.15" r="3.25" fill="#252fc0"/>
<circle cx="594.46" cy="136.02" r="3.25" fill="#252fc0"/>
<circle cx="582.86" cy="139.41" r="3.25" fill="#252fc0"/>
<circle cx="590.60" cy="153.43" r="3.25" fill="#252fc0"/>
<circle cx="601.23" cy="152.95" r="3.25" fill="#252fc0"/>
<circle cx="583.34" cy="155.85" r="3.25" fill="#252fc0"/>
<circle cx="587.21" cy="159.72" r="3.25" fill="#252fc0"/>
<circle cx="577.54" cy="160.20" r="3.25" fill="#252fc0"/>
<circle cx="591.08" cy="164.07" r="3.25" fill="#252fc0"/>
<circle cx="584.31" cy="166.49" r="3.25" fill="#252fc0"/>
<circle cx="606.55" cy="166.00" r="3.25" fill="#252fc0"/>
</g><g filter="url(#b2)">
<circle cx="580.92" cy="128.29" r="0.85" fill="#2fc79a"/>
<circle cx="583.83" cy="142.31" r="0.85" fill="#2fc79a"/>
<circle cx="591.56" cy="154.40" r="0.85" fill="#2fc79a"/>
<circle cx="583.34" cy="157.78" r="0.85" fill="#2fc79a"/>
<circle cx="575.12" cy="160.20" r="0.85" fill="#2fc79a"/>
<circle cx="590.11" cy="166.49" r="0.85" fill="#2fc79a"/>
<circle cx="584.31" cy="165.52" r="0.85" fill="#2fc79a"/>
<circle cx="567.87" cy="132.15" r="0.85" fill="#2fc79a"/>
</g></g>
<rect x="619.90" y="125.00" width="52.70" height="51.70" fill="#fff" stroke="#8a8a8a" stroke-width="0.7"/>
<g clip-path="url(#cw2)"><g filter="url(#b1)">
<circle cx="633.06" cy="126.35" r="3.00" fill="#e2e2e2"/>
<circle cx="669.32" cy="126.35" r="3.00" fill="#e2e2e2"/>
<circle cx="622.90" cy="132.64" r="3.00" fill="#e2e2e2"/>
<circle cx="653.85" cy="132.15" r="3.00" fill="#e2e2e2"/>
<circle cx="647.56" cy="136.02" r="3.00" fill="#e2e2e2"/>
<circle cx="635.96" cy="139.41" r="3.00" fill="#e2e2e2"/>
<circle cx="643.70" cy="153.43" r="3.00" fill="#e2e2e2"/>
<circle cx="654.33" cy="152.95" r="3.00" fill="#e2e2e2"/>
<circle cx="636.44" cy="155.85" r="3.00" fill="#e2e2e2"/>
<circle cx="640.31" cy="159.72" r="3.00" fill="#e2e2e2"/>
<circle cx="630.64" cy="160.20" r="3.00" fill="#e2e2e2"/>
<circle cx="644.18" cy="164.07" r="3.00" fill="#e2e2e2"/>
<circle cx="637.41" cy="166.49" r="3.00" fill="#e2e2e2"/>
<circle cx="659.65" cy="166.00" r="3.00" fill="#e2e2e2"/>
</g><g filter="url(#b2)">
<circle cx="634.02" cy="128.29" r="0.85" fill="#111"/>
<circle cx="636.93" cy="142.31" r="0.85" fill="#111"/>
<circle cx="644.66" cy="154.40" r="0.85" fill="#111"/>
<circle cx="636.44" cy="157.78" r="0.85" fill="#111"/>
<circle cx="628.22" cy="160.20" r="0.85" fill="#111"/>
<circle cx="643.21" cy="166.49" r="0.85" fill="#111"/>
<circle cx="637.41" cy="165.52" r="0.85" fill="#111"/>
<circle cx="620.97" cy="132.15" r="0.85" fill="#111"/>
</g></g>
<text x="568.60" y="133.99" font-size="7.50" text-anchor="start" fill="#86b92f">Xist</text>
<text x="617.30" y="171.81" font-size="7.30" text-anchor="end" fill="#fff">10 µM</text>
<rect x="610.40" y="174.70" width="7.40" height="2.20" fill="#fff"/>
<g>
<rect x="75.40" y="223.30" width="556.00" height="12.40" fill="#bebebe"/>
<rect x="75.40" y="223.3" width="4.38" height="12.4" fill="#388954"/>
<rect x="79.58" y="223.3" width="4.38" height="12.4" fill="#499062"/>
<rect x="83.76" y="223.3" width="4.38" height="12.4" fill="#177c3a"/>
<rect x="87.94" y="223.3" width="4.38" height="12.4" fill="#388954"/>
<rect x="92.12" y="223.3" width="4.38" height="12.4" fill="#9db1a4"/>
<rect x="96.30" y="223.3" width="8.56" height="12.4" fill="#288347"/>
<rect x="104.66" y="223.3" width="4.38" height="12.4" fill="#5a966f"/>
<rect x="108.84" y="223.3" width="4.38" height="12.4" fill="#288347"/>
<rect x="113.02" y="223.3" width="4.38" height="12.4" fill="#499062"/>
<rect x="117.20" y="223.3" width="4.38" height="12.4" fill="#288347"/>
<rect x="121.38" y="223.3" width="4.38" height="12.4" fill="#177c3a"/>
<rect x="125.57" y="223.3" width="4.38" height="12.4" fill="#288347"/>
<rect x="129.75" y="223.3" width="4.38" height="12.4" fill="#9db1a4"/>
<rect x="133.93" y="223.3" width="4.38" height="12.4" fill="#388954"/>
<rect x="138.11" y="223.3" width="8.56" height="12.4" fill="#288347"/>
<rect x="146.47" y="223.3" width="8.56" height="12.4" fill="#177c3a"/>
<rect x="154.83" y="223.3" width="4.38" height="12.4" fill="#8caa96"/>
<rect x="159.01" y="223.3" width="4.38" height="12.4" fill="#7ba489"/>
<rect x="163.19" y="223.3" width="4.38" height="12.4" fill="#177c3a"/>
<rect x="167.37" y="223.3" width="4.38" height="12.4" fill="#5a966f"/>
<rect x="171.55" y="223.3" width="12.74" height="12.4" fill="#288347"/>
<rect x="184.09" y="223.3" width="4.38" height="12.4" fill="#1a4f2a"/>
<rect x="188.27" y="223.3" width="8.56" height="12.4" fill="#1e7f3f"/>
<rect x="196.63" y="223.3" width="4.38" height="12.4" fill="#177c3a"/>
<rect x="200.81" y="223.3" width="4.38" height="12.4" fill="#1e7f3f"/>
<rect x="204.99" y="223.3" width="4.38" height="12.4" fill="#288347"/>
<rect x="209.17" y="223.3" width="4.38" height="12.4" fill="#8caa96"/>
<rect x="213.35" y="223.3" width="4.38" height="12.4" fill="#499062"/>
<rect x="217.54" y="223.3" width="4.38" height="12.4" fill="#1a4225"/>
<rect x="221.72" y="223.3" width="8.56" height="12.4" fill="#388954"/>
<rect x="230.08" y="223.3" width="4.38" height="12.4" fill="#288347"/>
<rect x="234.26" y="223.3" width="12.74" height="12.4" fill="#388954"/>
<rect x="246.80" y="223.3" width="4.38" height="12.4" fill="#6a9d7c"/>
<rect x="250.98" y="223.3" width="4.38" height="12.4" fill="#5a966f"/>
<rect x="255.16" y="223.3" width="4.38" height="12.4" fill="#6a9d7c"/>
<rect x="259.34" y="223.3" width="4.38" height="12.4" fill="#7ba489"/>
<rect x="263.52" y="223.3" width="4.38" height="12.4" fill="#5a966f"/>
<rect x="267.70" y="223.3" width="4.38" height="12.4" fill="#177c3a"/>
<rect x="271.88" y="223.3" width="4.38" height="12.4" fill="#388954"/>
<rect x="276.06" y="223.3" width="4.38" height="12.4" fill="#5a966f"/>
<rect x="280.24" y="223.3" width="4.38" height="12.4" fill="#7ba489"/>
<rect x="284.42" y="223.3" width="4.38" height="12.4" fill="#388954"/>
<rect x="288.60" y="223.3" width="4.38" height="12.4" fill="#5a966f"/>
<rect x="292.78" y="223.3" width="8.56" height="12.4" fill="#499062"/>
<rect x="301.14" y="223.3" width="4.38" height="12.4" fill="#288347"/>
<rect x="305.32" y="223.3" width="8.56" height="12.4" fill="#6a9d7c"/>
<rect x="313.69" y="223.3" width="4.38" height="12.4" fill="#388954"/>
<rect x="317.87" y="223.3" width="4.38" height="12.4" fill="#499062"/>
<rect x="322.05" y="223.3" width="4.38" height="12.4" fill="#288347"/>
<rect x="326.23" y="223.3" width="8.56" height="12.4" fill="#388954"/>
<rect x="334.59" y="223.3" width="4.38" height="12.4" fill="#5a966f"/>
<rect x="338.77" y="223.3" width="4.38" height="12.4" fill="#186a33"/>
<rect x="342.95" y="223.3" width="4.38" height="12.4" fill="#288347"/>
<rect x="347.13" y="223.3" width="4.38" height="12.4" fill="#1b4827"/>
<rect x="351.31" y="223.3" width="8.56" height="12.4" fill="#388954"/>
<rect x="359.67" y="223.3" width="8.56" height="12.4" fill="#288347"/>
<rect x="368.03" y="223.3" width="4.38" height="12.4" fill="#1b4827"/>
<rect x="372.21" y="223.3" width="4.38" height="12.4" fill="#6a9d7c"/>
<rect x="376.39" y="223.3" width="4.38" height="12.4" fill="#177638"/>
<rect x="380.57" y="223.3" width="4.38" height="12.4" fill="#177c3a"/>
<rect x="384.75" y="223.3" width="8.56" height="12.4" fill="#288347"/>
<rect x="393.11" y="223.3" width="4.38" height="12.4" fill="#177c3a"/>
<rect x="397.29" y="223.3" width="12.74" height="12.4" fill="#288347"/>
<rect x="409.84" y="223.3" width="4.38" height="12.4" fill="#177c3a"/>
<rect x="414.02" y="223.3" width="4.38" height="12.4" fill="#6a9d7c"/>
<rect x="418.20" y="223.3" width="4.38" height="12.4" fill="#388954"/>
<rect x="422.38" y="223.3" width="4.38" height="12.4" fill="#8caa96"/>
<rect x="426.56" y="223.3" width="8.56" height="12.4" fill="#388954"/>
<rect x="434.92" y="223.3" width="4.38" height="12.4" fill="#177c3a"/>
<rect x="439.10" y="223.3" width="4.38" height="12.4" fill="#5a966f"/>
<rect x="443.28" y="223.3" width="4.38" height="12.4" fill="#6a9d7c"/>
<rect x="447.46" y="223.3" width="8.56" height="12.4" fill="#177638"/>
<rect x="455.82" y="223.3" width="4.38" height="12.4" fill="#9db1a4"/>
<rect x="460.00" y="223.3" width="8.56" height="12.4" fill="#6a9d7c"/>
<rect x="468.36" y="223.3" width="4.38" height="12.4" fill="#177638"/>
<rect x="472.54" y="223.3" width="4.38" height="12.4" fill="#288347"/>
<rect x="476.72" y="223.3" width="4.38" height="12.4" fill="#388954"/>
<rect x="480.90" y="223.3" width="4.38" height="12.4" fill="#6a9d7c"/>
<rect x="485.08" y="223.3" width="4.38" height="12.4" fill="#288347"/>
<rect x="489.26" y="223.3" width="4.38" height="12.4" fill="#388954"/>
<rect x="493.45" y="223.3" width="4.38" height="12.4" fill="#499062"/>
<rect x="497.63" y="223.3" width="12.74" height="12.4" fill="#388954"/>
<rect x="510.17" y="223.3" width="4.38" height="12.4" fill="#177c3a"/>
<rect x="514.35" y="223.3" width="4.38" height="12.4" fill="#388954"/>
<rect x="518.53" y="223.3" width="4.38" height="12.4" fill="#5a966f"/>
<rect x="522.71" y="223.3" width="4.38" height="12.4" fill="#288347"/>
<rect x="526.89" y="223.3" width="4.38" height="12.4" fill="#177c3a"/>
<rect x="531.07" y="223.3" width="4.38" height="12.4" fill="#288347"/>
<rect x="535.25" y="223.3" width="4.38" height="12.4" fill="#5a966f"/>
<rect x="539.43" y="223.3" width="4.38" height="12.4" fill="#6a9d7c"/>
<rect x="543.61" y="223.3" width="4.38" height="12.4" fill="#388954"/>
<rect x="547.79" y="223.3" width="4.38" height="12.4" fill="#177638"/>
<rect x="551.97" y="223.3" width="8.56" height="12.4" fill="#499062"/>
<rect x="560.33" y="223.3" width="4.38" height="12.4" fill="#5a966f"/>
<rect x="564.51" y="223.3" width="4.38" height="12.4" fill="#499062"/>
<rect x="568.69" y="223.3" width="4.38" height="12.4" fill="#177c3a"/>
<rect x="572.87" y="223.3" width="4.38" height="12.4" fill="#5a966f"/>
<rect x="577.05" y="223.3" width="4.38" height="12.4" fill="#8caa96"/>
<rect x="581.23" y="223.3" width="4.38" height="12.4" fill="#177c3a"/>
<rect x="585.42" y="223.3" width="8.56" height="12.4" fill="#499062"/>
<rect x="593.78" y="223.3" width="4.38" height="12.4" fill="#185e2f"/>
<rect x="597.96" y="223.3" width="4.38" height="12.4" fill="#177c3a"/>
<rect x="602.14" y="223.3" width="4.38" height="12.4" fill="#177638"/>
<rect x="606.32" y="223.3" width="4.38" height="12.4" fill="#177036"/>
<rect x="610.50" y="223.3" width="4.38" height="12.4" fill="#177638"/>
<rect x="614.68" y="223.3" width="4.38" height="12.4" fill="#177c3a"/>
<rect x="618.86" y="223.3" width="4.38" height="12.4" fill="#288347"/>
<rect x="623.04" y="223.3" width="4.38" height="12.4" fill="#388954"/>
<rect x="627.22" y="223.3" width="4.18" height="12.4" fill="#288347"/>
<rect x="75.40" y="245.00" width="556.00" height="14.35" fill="#bebebe"/>
<rect x="75.40" y="245.0" width="4.38" height="14.35" fill="#a7b5ac"/>
<rect x="79.58" y="245.0" width="8.56" height="14.35" fill="#b4bab6"/>
<rect x="87.94" y="245.0" width="4.38" height="14.35" fill="#adb7b1"/>
<rect x="92.12" y="245.0" width="4.38" height="14.35" fill="#b7bbb9"/>
<rect x="96.30" y="245.0" width="4.38" height="14.35" fill="#adb7b1"/>
<rect x="100.48" y="245.0" width="4.38" height="14.35" fill="#96ae9e"/>
<rect x="104.66" y="245.0" width="4.38" height="14.35" fill="#b7bbb9"/>
<rect x="108.84" y="245.0" width="4.38" height="14.35" fill="#9db1a4"/>
<rect x="113.02" y="245.0" width="4.38" height="14.35" fill="#a7b5ac"/>
<rect x="117.20" y="245.0" width="8.56" height="14.35" fill="#96ae9e"/>
<rect x="125.57" y="245.0" width="4.38" height="14.35" fill="#a3b3a9"/>
<rect x="129.75" y="245.0" width="8.56" height="14.35" fill="#b7bbb9"/>
<rect x="138.11" y="245.0" width="4.38" height="14.35" fill="#82a68e"/>
<rect x="142.29" y="245.0" width="4.38" height="14.35" fill="#96ae9e"/>
<rect x="146.47" y="245.0" width="4.38" height="14.35" fill="#6a9d7c"/>
<rect x="163.19" y="245.0" width="4.38" height="14.35" fill="#8caa96"/>
<rect x="171.55" y="245.0" width="4.38" height="14.35" fill="#aab6ae"/>
<rect x="175.73" y="245.0" width="4.38" height="14.35" fill="#a3b3a9"/>
<rect x="179.91" y="245.0" width="4.38" height="14.35" fill="#9db1a4"/>
<rect x="184.09" y="245.0" width="4.38" height="14.35" fill="#7ba489"/>
<rect x="188.27" y="245.0" width="4.38" height="14.35" fill="#a7b5ac"/>
<rect x="200.81" y="245.0" width="8.56" height="14.35" fill="#9db1a4"/>
<rect x="213.35" y="245.0" width="4.38" height="14.35" fill="#96ae9e"/>
<rect x="217.54" y="245.0" width="4.38" height="14.35" fill="#193e23"/>
<rect x="221.72" y="245.0" width="4.38" height="14.35" fill="#8caa96"/>
<rect x="225.90" y="245.0" width="4.38" height="14.35" fill="#a3b3a9"/>
<rect x="230.08" y="245.0" width="4.38" height="14.35" fill="#82a68e"/>
<rect x="234.26" y="245.0" width="4.38" height="14.35" fill="#96ae9e"/>
<rect x="238.44" y="245.0" width="4.38" height="14.35" fill="#aab6ae"/>
<rect x="242.62" y="245.0" width="4.38" height="14.35" fill="#82a68e"/>
<rect x="263.52" y="245.0" width="4.38" height="14.35" fill="#bbbdbb"/>
<rect x="267.70" y="245.0" width="4.38" height="14.35" fill="#9db1a4"/>
<rect x="271.88" y="245.0" width="4.38" height="14.35" fill="#82a68e"/>
<rect x="276.06" y="245.0" width="4.38" height="14.35" fill="#8caa96"/>
<rect x="280.24" y="245.0" width="4.38" height="14.35" fill="#b7bbb9"/>
<rect x="284.42" y="245.0" width="4.38" height="14.35" fill="#a3b3a9"/>
<rect x="288.60" y="245.0" width="4.38" height="14.35" fill="#adb7b1"/>
<rect x="301.14" y="245.0" width="4.38" height="14.35" fill="#96ae9e"/>
<rect x="305.32" y="245.0" width="8.56" height="14.35" fill="#b4bab6"/>
<rect x="313.69" y="245.0" width="4.38" height="14.35" fill="#9db1a4"/>
<rect x="317.87" y="245.0" width="4.38" height="14.35" fill="#adb7b1"/>
<rect x="322.05" y="245.0" width="4.38" height="14.35" fill="#b4bab6"/>
<rect x="326.23" y="245.0" width="4.38" height="14.35" fill="#75a184"/>
<rect x="330.41" y="245.0" width="4.38" height="14.35" fill="#6a9d7c"/>
<rect x="334.59" y="245.0" width="4.38" height="14.35" fill="#b4bab6"/>
<rect x="338.77" y="245.0" width="4.38" height="14.35" fill="#9db1a4"/>
<rect x="342.95" y="245.0" width="4.38" height="14.35" fill="#8caa96"/>
<rect x="347.13" y="245.0" width="12.74" height="14.35" fill="#96ae9e"/>
<rect x="359.67" y="245.0" width="4.38" height="14.35" fill="#8caa96"/>
<rect x="363.85" y="245.0" width="4.38" height="14.35" fill="#609974"/>
<rect x="368.03" y="245.0" width="4.38" height="14.35" fill="#19572c"/>
<rect x="376.39" y="245.0" width="4.38" height="14.35" fill="#5a966f"/>
<rect x="380.57" y="245.0" width="8.56" height="14.35" fill="#75a184"/>
<rect x="388.93" y="245.0" width="4.38" height="14.35" fill="#5a966f"/>
<rect x="393.11" y="245.0" width="4.38" height="14.35" fill="#8caa96"/>
<rect x="397.29" y="245.0" width="4.38" height="14.35" fill="#6a9d7c"/>
<rect x="401.48" y="245.0" width="4.38" height="14.35" fill="#7ba489"/>
<rect x="405.66" y="245.0" width="8.56" height="14.35" fill="#6a9d7c"/>
<rect x="414.02" y="245.0" width="4.38" height="14.35" fill="#b4bab6"/>
<rect x="418.20" y="245.0" width="4.38" height="14.35" fill="#7ba489"/>
<rect x="422.38" y="245.0" width="4.38" height="14.35" fill="#b4bab6"/>
<rect x="426.56" y="245.0" width="4.38" height="14.35" fill="#7ba489"/>
<rect x="430.74" y="245.0" width="8.56" height="14.35" fill="#8caa96"/>
<rect x="439.10" y="245.0" width="4.38" height="14.35" fill="#96ae9e"/>
<rect x="443.28" y="245.0" width="4.38" height="14.35" fill="#9db1a4"/>
<rect x="447.46" y="245.0" width="8.56" height="14.35" fill="#7ba489"/>
<rect x="468.36" y="245.0" width="4.38" height="14.35" fill="#177c3a"/>
<rect x="476.72" y="245.0" width="8.56" height="14.35" fill="#9db1a4"/>
<rect x="485.08" y="245.0" width="4.38" height="14.35" fill="#96ae9e"/>
<rect x="489.26" y="245.0" width="4.38" height="14.35" fill="#8caa96"/>
<rect x="497.63" y="245.0" width="4.38" height="14.35" fill="#b4bab6"/>
<rect x="501.81" y="245.0" width="4.38" height="14.35" fill="#a7b5ac"/>
<rect x="505.99" y="245.0" width="4.38" height="14.35" fill="#adb7b1"/>
<rect x="510.17" y="245.0" width="4.38" height="14.35" fill="#b4bab6"/>
<rect x="514.35" y="245.0" width="4.38" height="14.35" fill="#9db1a4"/>
<rect x="522.71" y="245.0" width="4.38" height="14.35" fill="#8caa96"/>
<rect x="526.89" y="245.0" width="4.38" height="14.35" fill="#b4bab6"/>
<rect x="531.07" y="245.0" width="8.56" height="14.35" fill="#b7bbb9"/>
<rect x="539.43" y="245.0" width="4.38" height="14.35" fill="#7ba489"/>
<rect x="547.79" y="245.0" width="4.38" height="14.35" fill="#6a9d7c"/>
<rect x="551.97" y="245.0" width="8.56" height="14.35" fill="#b7bbb9"/>
<rect x="560.33" y="245.0" width="8.56" height="14.35" fill="#b4bab6"/>
<rect x="568.69" y="245.0" width="4.38" height="14.35" fill="#8caa96"/>
<rect x="581.23" y="245.0" width="8.56" height="14.35" fill="#8caa96"/>
<rect x="589.60" y="245.0" width="4.38" height="14.35" fill="#b7bbb9"/>
<rect x="593.78" y="245.0" width="4.38" height="14.35" fill="#177036"/>
<rect x="597.96" y="245.0" width="4.38" height="14.35" fill="#499062"/>
<rect x="602.14" y="245.0" width="8.56" height="14.35" fill="#288347"/>
<rect x="610.50" y="245.0" width="4.38" height="14.35" fill="#388954"/>
<rect x="614.68" y="245.0" width="4.38" height="14.35" fill="#499062"/>
<rect x="618.86" y="245.0" width="4.38" height="14.35" fill="#96ae9e"/>
<rect x="623.04" y="245.0" width="4.38" height="14.35" fill="#a3b3a9"/>
<rect x="627.22" y="245.0" width="4.18" height="14.35" fill="#96ae9e"/>
<rect x="75.40" y="259.30" width="556.00" height="15.00" fill="#bebebe"/>
<rect x="75.40" y="259.3" width="8.56" height="15.0" fill="#82a68e"/>
<rect x="83.76" y="259.3" width="4.38" height="15.0" fill="#75a184"/>
<rect x="87.94" y="259.3" width="4.38" height="15.0" fill="#8caa96"/>
<rect x="96.30" y="259.3" width="8.56" height="15.0" fill="#6a9d7c"/>
<rect x="104.66" y="259.3" width="4.38" height="15.0" fill="#8caa96"/>
<rect x="108.84" y="259.3" width="4.38" height="15.0" fill="#5a966f"/>
<rect x="113.02" y="259.3" width="4.38" height="15.0" fill="#75a184"/>
<rect x="117.20" y="259.3" width="4.38" height="15.0" fill="#499062"/>
<rect x="121.38" y="259.3" width="8.56" height="15.0" fill="#5a966f"/>
<rect x="129.75" y="259.3" width="4.38" height="15.0" fill="#adb7b1"/>
<rect x="133.93" y="259.3" width="4.38" height="15.0" fill="#8caa96"/>
<rect x="138.11" y="259.3" width="4.38" height="15.0" fill="#499062"/>
<rect x="142.29" y="259.3" width="4.38" height="15.0" fill="#388954"/>
<rect x="146.47" y="259.3" width="4.38" height="15.0" fill="#288347"/>
<rect x="150.65" y="259.3" width="4.38" height="15.0" fill="#6a9d7c"/>
<rect x="154.83" y="259.3" width="4.38" height="15.0" fill="#a7b5ac"/>
<rect x="159.01" y="259.3" width="4.38" height="15.0" fill="#9db1a4"/>
<rect x="163.19" y="259.3" width="4.38" height="15.0" fill="#499062"/>
<rect x="171.55" y="259.3" width="8.56" height="15.0" fill="#8caa96"/>
<rect x="179.91" y="259.3" width="4.38" height="15.0" fill="#82a68e"/>
<rect x="184.09" y="259.3" width="4.38" height="15.0" fill="#288347"/>
<rect x="188.27" y="259.3" width="8.56" height="15.0" fill="#7ba489"/>
<rect x="200.81" y="259.3" width="4.38" height="15.0" fill="#7ba489"/>
<rect x="204.99" y="259.3" width="4.38" height="15.0" fill="#75a184"/>
<rect x="213.35" y="259.3" width="4.38" height="15.0" fill="#75a184"/>
<rect x="217.54" y="259.3" width="4.38" height="15.0" fill="#193e23"/>
<rect x="221.72" y="259.3" width="8.56" height="15.0" fill="#499062"/>
<rect x="230.08" y="259.3" width="4.38" height="15.0" fill="#388954"/>
<rect x="234.26" y="259.3" width="12.74" height="15.0" fill="#499062"/>
<rect x="250.98" y="259.3" width="4.38" height="15.0" fill="#b4bab6"/>
<rect x="255.16" y="259.3" width="12.74" height="15.0" fill="#adb7b1"/>
<rect x="267.70" y="259.3" width="4.38" height="15.0" fill="#288347"/>
<rect x="271.88" y="259.3" width="4.38" height="15.0" fill="#499062"/>
<rect x="276.06" y="259.3" width="4.38" height="15.0" fill="#6a9d7c"/>
<rect x="284.42" y="259.3" width="4.38" height="15.0" fill="#6a9d7c"/>
<rect x="288.60" y="259.3" width="4.38" height="15.0" fill="#8caa96"/>
<rect x="292.78" y="259.3" width="4.38" height="15.0" fill="#7ba489"/>
<rect x="296.96" y="259.3" width="4.38" height="15.0" fill="#b4bab6"/>
<rect x="301.14" y="259.3" width="4.38" height="15.0" fill="#288347"/>
<rect x="305.32" y="259.3" width="8.56" height="15.0" fill="#9db1a4"/>
<rect x="313.69" y="259.3" width="4.38" height="15.0" fill="#499062"/>
<rect x="317.87" y="259.3" width="4.38" height="15.0" fill="#6a9d7c"/>
<rect x="322.05" y="259.3" width="4.38" height="15.0" fill="#96ae9e"/>
<rect x="326.23" y="259.3" width="4.38" height="15.0" fill="#499062"/>
<rect x="330.41" y="259.3" width="4.38" height="15.0" fill="#288347"/>
<rect x="334.59" y="259.3" width="4.38" height="15.0" fill="#9db1a4"/>
<rect x="338.77" y="259.3" width="4.38" height="15.0" fill="#193e23"/>
<rect x="342.95" y="259.3" width="4.38" height="15.0" fill="#6a9d7c"/>
<rect x="347.13" y="259.3" width="4.38" height="15.0" fill="#96ae9e"/>
<rect x="351.31" y="259.3" width="4.38" height="15.0" fill="#5a966f"/>
<rect x="355.49" y="259.3" width="8.56" height="15.0" fill="#499062"/>
<rect x="363.85" y="259.3" width="4.38" height="15.0" fill="#388954"/>
<rect x="368.03" y="259.3" width="4.38" height="15.0" fill="#1b4827"/>
<rect x="372.21" y="259.3" width="4.38" height="15.0" fill="#288347"/>
<rect x="376.39" y="259.3" width="4.38" height="15.0" fill="#177638"/>
<rect x="380.57" y="259.3" width="8.56" height="15.0" fill="#288347"/>
<rect x="388.93" y="259.3" width="4.38" height="15.0" fill="#177c3a"/>
<rect x="393.11" y="259.3" width="4.38" height="15.0" fill="#288347"/>
<rect x="397.29" y="259.3" width="4.38" height="15.0" fill="#32874f"/>
<rect x="401.48" y="259.3" width="8.56" height="15.0" fill="#288347"/>
<rect x="409.84" y="259.3" width="4.38" height="15.0" fill="#177c3a"/>
<rect x="414.02" y="259.3" width="4.38" height="15.0" fill="#8caa96"/>
<rect x="418.20" y="259.3" width="4.38" height="15.0" fill="#7ba489"/>
<rect x="422.38" y="259.3" width="4.38" height="15.0" fill="#9db1a4"/>
<rect x="426.56" y="259.3" width="4.38" height="15.0" fill="#388954"/>
<rect x="430.74" y="259.3" width="4.38" height="15.0" fill="#499062"/>
<rect x="434.92" y="259.3" width="4.38" height="15.0" fill="#177c3a"/>
<rect x="439.10" y="259.3" width="8.56" height="15.0" fill="#6a9d7c"/>
<rect x="447.46" y="259.3" width="8.56" height="15.0" fill="#388954"/>
<rect x="460.00" y="259.3" width="4.38" height="15.0" fill="#7ba489"/>
<rect x="468.36" y="259.3" width="4.38" height="15.0" fill="#6a9d7c"/>
<rect x="472.54" y="259.3" width="4.38" height="15.0" fill="#7ba489"/>
<rect x="476.72" y="259.3" width="4.38" height="15.0" fill="#6a9d7c"/>
<rect x="480.90" y="259.3" width="4.38" height="15.0" fill="#7ba489"/>
<rect x="485.08" y="259.3" width="4.38" height="15.0" fill="#5a966f"/>
<rect x="489.26" y="259.3" width="4.38" height="15.0" fill="#b4bab6"/>
<rect x="497.63" y="259.3" width="4.38" height="15.0" fill="#7ba489"/>
<rect x="501.81" y="259.3" width="4.38" height="15.0" fill="#6a9d7c"/>
<rect x="505.99" y="259.3" width="4.38" height="15.0" fill="#5a966f"/>
<rect x="510.17" y="259.3" width="8.56" height="15.0" fill="#388954"/>
<rect x="522.71" y="259.3" width="4.38" height="15.0" fill="#5a966f"/>
<rect x="526.89" y="259.3" width="4.38" height="15.0" fill="#b7bbb9"/>
<rect x="531.07" y="259.3" width="4.38" height="15.0" fill="#9db1a4"/>
<rect x="539.43" y="259.3" width="4.38" height="15.0" fill="#a3b3a9"/>
<rect x="543.61" y="259.3" width="4.38" height="15.0" fill="#adb7b1"/>
<rect x="547.79" y="259.3" width="4.38" height="15.0" fill="#177c3a"/>
<rect x="551.97" y="259.3" width="4.38" height="15.0" fill="#b4bab6"/>
<rect x="560.33" y="259.3" width="4.38" height="15.0" fill="#7ba489"/>
<rect x="564.51" y="259.3" width="4.38" height="15.0" fill="#5a966f"/>
<rect x="568.69" y="259.3" width="4.38" height="15.0" fill="#499062"/>
<rect x="577.05" y="259.3" width="4.38" height="15.0" fill="#8caa96"/>
<rect x="581.23" y="259.3" width="4.38" height="15.0" fill="#177c3a"/>
<rect x="585.42" y="259.3" width="4.38" height="15.0" fill="#388954"/>
<rect x="589.60" y="259.3" width="4.38" height="15.0" fill="#8caa96"/>
<rect x="593.78" y="259.3" width="4.38" height="15.0" fill="#186431"/>
<rect x="597.96" y="259.3" width="4.38" height="15.0" fill="#177c3a"/>
<rect x="602.14" y="259.3" width="4.38" height="15.0" fill="#177638"/>
<rect x="606.32" y="259.3" width="8.56" height="15.0" fill="#177c3a"/>
<rect x="614.68" y="259.3" width="4.38" height="15.0" fill="#288347"/>
<rect x="618.86" y="259.3" width="4.38" height="15.0" fill="#adb7b1"/>
<rect x="623.04" y="259.3" width="4.38" height="15.0" fill="#499062"/>
<rect x="627.22" y="259.3" width="4.18" height="15.0" fill="#adb7b1"/>
<rect x="75.40" y="280.00" width="556.00" height="14.35" fill="#bebebe"/>
<rect x="92.12" y="280.0" width="4.38" height="14.35" fill="#adb7b1"/>
<rect x="138.11" y="280.0" width="4.38" height="14.35" fill="#a3b3a9"/>
<rect x="204.99" y="280.0" width="4.38" height="14.35" fill="#a7b5ac"/>
<rect x="213.35" y="280.0" width="4.38" height="14.35" fill="#b4bab6"/>
<rect x="217.54" y="280.0" width="4.38" height="14.35" fill="#193e23"/>
<rect x="221.72" y="280.0" width="4.38" height="14.35" fill="#a7b5ac"/>
<rect x="225.90" y="280.0" width="4.38" height="14.35" fill="#8caa96"/>
<rect x="230.08" y="280.0" width="4.38" height="14.35" fill="#82a68e"/>
<rect x="234.26" y="280.0" width="4.38" height="14.35" fill="#adb7b1"/>
<rect x="238.44" y="280.0" width="4.38" height="14.35" fill="#b4bab6"/>
<rect x="242.62" y="280.0" width="4.38" height="14.35" fill="#96ae9e"/>
<rect x="267.70" y="280.0" width="4.38" height="14.35" fill="#b4bab6"/>
<rect x="271.88" y="280.0" width="8.56" height="14.35" fill="#7ba489"/>
<rect x="280.24" y="280.0" width="4.38" height="14.35" fill="#8caa96"/>
<rect x="284.42" y="280.0" width="4.38" height="14.35" fill="#b4bab6"/>
<rect x="301.14" y="280.0" width="4.38" height="14.35" fill="#82a68e"/>
<rect x="351.31" y="280.0" width="4.38" height="14.35" fill="#b1b9b3"/>
<rect x="355.49" y="280.0" width="8.56" height="14.35" fill="#b7bbb9"/>
<rect x="363.85" y="280.0" width="4.38" height="14.35" fill="#b4bab6"/>
<rect x="368.03" y="280.0" width="4.38" height="14.35" fill="#499062"/>
<rect x="376.39" y="280.0" width="4.38" height="14.35" fill="#a3b3a9"/>
<rect x="380.57" y="280.0" width="8.56" height="14.35" fill="#b4bab6"/>
<rect x="388.93" y="280.0" width="4.38" height="14.35" fill="#a3b3a9"/>
<rect x="393.11" y="280.0" width="4.38" height="14.35" fill="#b7bbb9"/>
<rect x="397.29" y="280.0" width="4.38" height="14.35" fill="#b1b9b3"/>
<rect x="401.48" y="280.0" width="4.38" height="14.35" fill="#b4bab6"/>
<rect x="405.66" y="280.0" width="4.38" height="14.35" fill="#9db1a4"/>
<rect x="409.84" y="280.0" width="4.38" height="14.35" fill="#adb7b1"/>
<rect x="414.02" y="280.0" width="4.38" height="14.35" fill="#b4bab6"/>
<rect x="418.20" y="280.0" width="4.38" height="14.35" fill="#7ba489"/>
<rect x="422.38" y="280.0" width="4.38" height="14.35" fill="#a7b5ac"/>
<rect x="426.56" y="280.0" width="8.56" height="14.35" fill="#9db1a4"/>
<rect x="434.92" y="280.0" width="4.38" height="14.35" fill="#a7b5ac"/>
<rect x="439.10" y="280.0" width="4.38" height="14.35" fill="#8caa96"/>
<rect x="443.28" y="280.0" width="4.38" height="14.35" fill="#a7b5ac"/>
<rect x="447.46" y="280.0" width="4.38" height="14.35" fill="#8caa96"/>
<rect x="451.64" y="280.0" width="4.38" height="14.35" fill="#6a9d7c"/>
<rect x="460.00" y="280.0" width="4.38" height="14.35" fill="#96ae9e"/>
<rect x="468.36" y="280.0" width="4.38" height="14.35" fill="#499062"/>
<rect x="476.72" y="280.0" width="4.38" height="14.35" fill="#b7bbb9"/>
<rect x="480.90" y="280.0" width="8.56" height="14.35" fill="#adb7b1"/>
<rect x="489.26" y="280.0" width="4.38" height="14.35" fill="#b7bbb9"/>
<rect x="497.63" y="280.0" width="4.38" height="14.35" fill="#b7bbb9"/>
<rect x="501.81" y="280.0" width="4.38" height="14.35" fill="#b4bab6"/>
<rect x="505.99" y="280.0" width="4.38" height="14.35" fill="#b7bbb9"/>
<rect x="510.17" y="280.0" width="4.38" height="14.35" fill="#b4bab6"/>
<rect x="514.35" y="280.0" width="4.38" height="14.35" fill="#a7b5ac"/>
<rect x="522.71" y="280.0" width="4.38" height="14.35" fill="#75a184"/>
<rect x="531.07" y="280.0" width="4.38" height="14.35" fill="#b7bbb9"/>
<rect x="539.43" y="280.0" width="4.38" height="14.35" fill="#82a68e"/>
<rect x="547.79" y="280.0" width="4.38" height="14.35" fill="#8caa96"/>
<rect x="556.15" y="280.0" width="4.38" height="14.35" fill="#b7bbb9"/>
<rect x="560.33" y="280.0" width="8.56" height="14.35" fill="#b4bab6"/>
<rect x="568.69" y="280.0" width="4.38" height="14.35" fill="#96ae9e"/>
<rect x="581.23" y="280.0" width="8.56" height="14.35" fill="#9db1a4"/>
<rect x="593.78" y="280.0" width="4.38" height="14.35" fill="#7ba489"/>
<rect x="597.96" y="280.0" width="4.38" height="14.35" fill="#adb7b1"/>
<rect x="602.14" y="280.0" width="8.56" height="14.35" fill="#82a68e"/>
<rect x="610.50" y="280.0" width="4.38" height="14.35" fill="#96ae9e"/>
<rect x="614.68" y="280.0" width="4.38" height="14.35" fill="#9db1a4"/>
<rect x="618.86" y="280.0" width="8.56" height="14.35" fill="#b4bab6"/>
<rect x="75.40" y="294.30" width="556.00" height="14.70" fill="#bebebe"/>
<rect x="75.40" y="294.3" width="16.92" height="14.7" fill="#bbbdbb"/>
<rect x="96.30" y="294.3" width="21.10" height="14.7" fill="#bbbdbb"/>
<rect x="117.20" y="294.3" width="12.74" height="14.7" fill="#b4bab6"/>
<rect x="138.11" y="294.3" width="4.38" height="14.7" fill="#6a9d7c"/>
<rect x="142.29" y="294.3" width="4.38" height="14.7" fill="#96ae9e"/>
<rect x="146.47" y="294.3" width="4.38" height="14.7" fill="#8caa96"/>
<rect x="150.65" y="294.3" width="4.38" height="14.7" fill="#a7b5ac"/>
<rect x="163.19" y="294.3" width="4.38" height="14.7" fill="#7ba489"/>
<rect x="184.09" y="294.3" width="4.38" height="14.7" fill="#a7b5ac"/>
<rect x="204.99" y="294.3" width="4.38" height="14.7" fill="#96ae9e"/>
<rect x="213.35" y="294.3" width="4.38" height="14.7" fill="#a7b5ac"/>
<rect x="217.54" y="294.3" width="4.38" height="14.7" fill="#193e23"/>
<rect x="221.72" y="294.3" width="4.38" height="14.7" fill="#5a966f"/>
<rect x="225.90" y="294.3" width="8.56" height="14.7" fill="#388954"/>
<rect x="234.26" y="294.3" width="8.56" height="14.7" fill="#5a966f"/>
<rect x="242.62" y="294.3" width="4.38" height="14.7" fill="#53946a"/>
<rect x="255.16" y="294.3" width="4.38" height="14.7" fill="#9db1a4"/>
<rect x="259.34" y="294.3" width="4.38" height="14.7" fill="#b4bab6"/>
<rect x="267.70" y="294.3" width="4.38" height="14.7" fill="#499062"/>
<rect x="271.88" y="294.3" width="8.56" height="14.7" fill="#388954"/>
<rect x="280.24" y="294.3" width="4.38" height="14.7" fill="#8caa96"/>
<rect x="284.42" y="294.3" width="4.38" height="14.7" fill="#96ae9e"/>
<rect x="288.60" y="294.3" width="4.38" height="14.7" fill="#99afa1"/>
<rect x="292.78" y="294.3" width="4.38" height="14.7" fill="#8caa96"/>
<rect x="296.96" y="294.3" width="8.56" height="14.7" fill="#b7bbb9"/>
<rect x="305.32" y="294.3" width="8.56" height="14.7" fill="#b1b9b3"/>
<rect x="313.69" y="294.3" width="4.38" height="14.7" fill="#8caa96"/>
<rect x="317.87" y="294.3" width="4.38" height="14.7" fill="#a7b5ac"/>
<rect x="326.23" y="294.3" width="4.38" height="14.7" fill="#82a68e"/>
<rect x="330.41" y="294.3" width="4.38" height="14.7" fill="#7ba489"/>
<rect x="338.77" y="294.3" width="4.38" height="14.7" fill="#6a9d7c"/>
<rect x="342.95" y="294.3" width="4.38" height="14.7" fill="#8caa96"/>
<rect x="351.31" y="294.3" width="8.56" height="14.7" fill="#6a9d7c"/>
<rect x="359.67" y="294.3" width="8.56" height="14.7" fill="#499062"/>
<rect x="368.03" y="294.3" width="4.38" height="14.7" fill="#1b4827"/>
<rect x="372.21" y="294.3" width="4.38" height="14.7" fill="#6a9d7c"/>
<rect x="376.39" y="294.3" width="4.38" height="14.7" fill="#1e7f3f"/>
<rect x="380.57" y="294.3" width="12.74" height="14.7" fill="#499062"/>
<rect x="393.11" y="294.3" width="4.38" height="14.7" fill="#5a966f"/>
<rect x="397.29" y="294.3" width="4.38" height="14.7" fill="#53946a"/>
<rect x="401.48" y="294.3" width="4.38" height="14.7" fill="#499062"/>
<rect x="405.66" y="294.3" width="4.38" height="14.7" fill="#3f8c5a"/>
<rect x="409.84" y="294.3" width="4.38" height="14.7" fill="#388954"/>
<rect x="414.02" y="294.3" width="4.38" height="14.7" fill="#b4bab6"/>
<rect x="418.20" y="294.3" width="4.38" height="14.7" fill="#53946a"/>
<rect x="422.38" y="294.3" width="4.38" height="14.7" fill="#8caa96"/>
<rect x="426.56" y="294.3" width="8.56" height="14.7" fill="#5a966f"/>
<rect x="434.92" y="294.3" width="4.38" height="14.7" fill="#499062"/>
<rect x="439.10" y="294.3" width="4.38" height="14.7" fill="#5a966f"/>
<rect x="443.28" y="294.3" width="4.38" height="14.7" fill="#6a9d7c"/>
<rect x="447.46" y="294.3" width="4.38" height="14.7" fill="#288347"/>
<rect x="451.64" y="294.3" width="4.38" height="14.7" fill="#1e7f3f"/>
<rect x="460.00" y="294.3" width="4.38" height="14.7" fill="#8caa96"/>
<rect x="468.36" y="294.3" width="4.38" height="14.7" fill="#177036"/>
<rect x="472.54" y="294.3" width="8.56" height="14.7" fill="#9db1a4"/>
<rect x="480.90" y="294.3" width="4.38" height="14.7" fill="#82a68e"/>
<rect x="485.08" y="294.3" width="4.38" height="14.7" fill="#7ba489"/>
<rect x="497.63" y="294.3" width="4.38" height="14.7" fill="#7ba489"/>
<rect x="501.81" y="294.3" width="4.38" height="14.7" fill="#6a9d7c"/>
<rect x="505.99" y="294.3" width="4.38" height="14.7" fill="#7ba489"/>
<rect x="510.17" y="294.3" width="8.56" height="14.7" fill="#5a966f"/>
<rect x="522.71" y="294.3" width="4.38" height="14.7" fill="#499062"/>
<rect x="531.07" y="294.3" width="4.38" height="14.7" fill="#a7b5ac"/>
<rect x="539.43" y="294.3" width="4.38" height="14.7" fill="#82a68e"/>
<rect x="547.79" y="294.3" width="4.38" height="14.7" fill="#609974"/>
<rect x="556.15" y="294.3" width="4.38" height="14.7" fill="#a7b5ac"/>
<rect x="560.33" y="294.3" width="4.38" height="14.7" fill="#5a966f"/>
<rect x="564.51" y="294.3" width="4.38" height="14.7" fill="#388954"/>
<rect x="568.69" y="294.3" width="4.38" height="14.7" fill="#32874f"/>
<rect x="577.05" y="294.3" width="4.38" height="14.7" fill="#a7b5ac"/>
<rect x="581.23" y="294.3" width="8.56" height="14.7" fill="#388954"/>
<rect x="589.60" y="294.3" width="4.38" height="14.7" fill="#8caa96"/>
<rect x="593.78" y="294.3" width="4.38" height="14.7" fill="#186431"/>
<rect x="597.96" y="294.3" width="4.38" height="14.7" fill="#5a966f"/>
<rect x="602.14" y="294.3" width="12.74" height="14.7" fill="#288347"/>
<rect x="614.68" y="294.3" width="4.38" height="14.7" fill="#388954"/>
<rect x="618.86" y="294.3" width="4.38" height="14.7" fill="#b7bbb9"/>
<rect x="623.04" y="294.3" width="4.38" height="14.7" fill="#499062"/>
<rect x="627.22" y="294.3" width="4.18" height="14.7" fill="#b4bab6"/>
<rect x="75.40" y="315.30" width="556.00" height="14.45" fill="#bebebe"/>
<rect x="138.11" y="315.3" width="4.38" height="14.45" fill="#b1b9b3"/>
<rect x="217.54" y="315.3" width="4.38" height="14.45" fill="#193e23"/>
<rect x="221.72" y="315.3" width="8.56" height="14.45" fill="#b4bab6"/>
<rect x="230.08" y="315.3" width="4.38" height="14.45" fill="#8caa96"/>
<rect x="234.26" y="315.3" width="4.38" height="14.45" fill="#b4bab6"/>
<rect x="242.62" y="315.3" width="4.38" height="14.45" fill="#9db1a4"/>
<rect x="271.88" y="315.3" width="4.38" height="14.45" fill="#82a68e"/>
<rect x="276.06" y="315.3" width="4.38" height="14.45" fill="#7ba489"/>
<rect x="280.24" y="315.3" width="4.38" height="14.45" fill="#b4bab6"/>
<rect x="301.14" y="315.3" width="4.38" height="14.45" fill="#b1b9b3"/>
<rect x="368.03" y="315.3" width="4.38" height="14.45" fill="#aab6ae"/>
<rect x="401.48" y="315.3" width="4.38" height="14.45" fill="#b4bab6"/>
<rect x="405.66" y="315.3" width="4.38" height="14.45" fill="#adb7b1"/>
<rect x="409.84" y="315.3" width="4.38" height="14.45" fill="#b4bab6"/>
<rect x="418.20" y="315.3" width="4.38" height="14.45" fill="#5a966f"/>
<rect x="422.38" y="315.3" width="4.38" height="14.45" fill="#a7b5ac"/>
<rect x="426.56" y="315.3" width="12.74" height="14.45" fill="#adb7b1"/>
<rect x="439.10" y="315.3" width="4.38" height="14.45" fill="#9db1a4"/>
<rect x="443.28" y="315.3" width="4.38" height="14.45" fill="#adb7b1"/>
<rect x="447.46" y="315.3" width="4.38" height="14.45" fill="#9db1a4"/>
<rect x="451.64" y="315.3" width="4.38" height="14.45" fill="#82a68e"/>
<rect x="468.36" y="315.3" width="4.38" height="14.45" fill="#6a9d7c"/>
<rect x="476.72" y="315.3" width="46.18" height="14.45" fill="#b7bbb9"/>
<rect x="522.71" y="315.3" width="4.38" height="14.45" fill="#8caa96"/>
<rect x="531.07" y="315.3" width="4.38" height="14.45" fill="#b7bbb9"/>
<rect x="539.43" y="315.3" width="4.38" height="14.45" fill="#adb7b1"/>
<rect x="547.79" y="315.3" width="4.38" height="14.45" fill="#9db1a4"/>
<rect x="556.15" y="315.3" width="12.74" height="14.45" fill="#b7bbb9"/>
<rect x="568.69" y="315.3" width="4.38" height="14.45" fill="#adb7b1"/>
<rect x="581.23" y="315.3" width="8.56" height="14.45" fill="#a7b5ac"/>
<rect x="593.78" y="315.3" width="4.38" height="14.45" fill="#a7b5ac"/>
<rect x="597.96" y="315.3" width="4.38" height="14.45" fill="#b7bbb9"/>
<rect x="602.14" y="315.3" width="12.74" height="14.45" fill="#a7b5ac"/>
<rect x="614.68" y="315.3" width="4.38" height="14.45" fill="#adb7b1"/>
<rect x="75.40" y="329.70" width="556.00" height="15.00" fill="#bebebe"/>
<rect x="79.58" y="329.7" width="4.38" height="15.0" fill="#a7b5ac"/>
<rect x="83.76" y="329.7" width="4.38" height="15.0" fill="#8fac99"/>
<rect x="117.20" y="329.7" width="4.38" height="15.0" fill="#adb7b1"/>
<rect x="121.38" y="329.7" width="4.38" height="15.0" fill="#b4bab6"/>
<rect x="138.11" y="329.7" width="4.38" height="15.0" fill="#7ba489"/>
<rect x="163.19" y="329.7" width="4.38" height="15.0" fill="#75a184"/>
<rect x="184.09" y="329.7" width="4.38" height="15.0" fill="#96ae9e"/>
<rect x="204.99" y="329.7" width="4.38" height="15.0" fill="#b4bab6"/>
<rect x="217.54" y="329.7" width="4.38" height="15.0" fill="#193e23"/>
<rect x="221.72" y="329.7" width="4.38" height="15.0" fill="#499062"/>
<rect x="225.90" y="329.7" width="4.38" height="15.0" fill="#3f8c5a"/>
<rect x="230.08" y="329.7" width="4.38" height="15.0" fill="#388954"/>
<rect x="234.26" y="329.7" width="4.38" height="15.0" fill="#499062"/>
<rect x="238.44" y="329.7" width="4.38" height="15.0" fill="#53946a"/>
<rect x="242.62" y="329.7" width="4.38" height="15.0" fill="#499062"/>
<rect x="255.16" y="329.7" width="4.38" height="15.0" fill="#a7b5ac"/>
<rect x="259.34" y="329.7" width="4.38" height="15.0" fill="#9db1a4"/>
<rect x="267.70" y="329.7" width="4.38" height="15.0" fill="#3f8c5a"/>
<rect x="271.88" y="329.7" width="4.38" height="15.0" fill="#388954"/>
<rect x="276.06" y="329.7" width="4.38" height="15.0" fill="#288347"/>
<rect x="280.24" y="329.7" width="8.56" height="15.0" fill="#8caa96"/>
<rect x="288.60" y="329.7" width="4.38" height="15.0" fill="#a7b5ac"/>
<rect x="292.78" y="329.7" width="4.38" height="15.0" fill="#96ae9e"/>
<rect x="296.96" y="329.7" width="4.38" height="15.0" fill="#b7bbb9"/>
<rect x="301.14" y="329.7" width="4.38" height="15.0" fill="#9db1a4"/>
<rect x="305.32" y="329.7" width="4.38" height="15.0" fill="#b1b9b3"/>
<rect x="309.51" y="329.7" width="4.38" height="15.0" fill="#b7bbb9"/>
<rect x="313.69" y="329.7" width="4.38" height="15.0" fill="#adb7b1"/>
<rect x="317.87" y="329.7" width="4.38" height="15.0" fill="#b4bab6"/>
<rect x="322.05" y="329.7" width="4.38" height="15.0" fill="#bbbdbb"/>
<rect x="326.23" y="329.7" width="4.38" height="15.0" fill="#b4bab6"/>
<rect x="330.41" y="329.7" width="4.38" height="15.0" fill="#8caa96"/>
<rect x="338.77" y="329.7" width="8.56" height="15.0" fill="#8caa96"/>
<rect x="351.31" y="329.7" width="4.38" height="15.0" fill="#7ba489"/>
<rect x="355.49" y="329.7" width="4.38" height="15.0" fill="#75a184"/>
<rect x="359.67" y="329.7" width="8.56" height="15.0" fill="#6a9d7c"/>
<rect x="368.03" y="329.7" width="4.38" height="15.0" fill="#185e2f"/>
<rect x="372.21" y="329.7" width="4.38" height="15.0" fill="#8caa96"/>
<rect x="376.39" y="329.7" width="4.38" height="15.0" fill="#6a9d7c"/>
<rect x="380.57" y="329.7" width="4.38" height="15.0" fill="#b4bab6"/>
<rect x="384.75" y="329.7" width="8.56" height="15.0" fill="#7ba489"/>
<rect x="393.11" y="329.7" width="4.38" height="15.0" fill="#8caa96"/>
<rect x="397.29" y="329.7" width="4.38" height="15.0" fill="#7fa58c"/>
<rect x="401.48" y="329.7" width="4.38" height="15.0" fill="#75a184"/>
<rect x="405.66" y="329.7" width="8.56" height="15.0" fill="#6a9d7c"/>
<rect x="414.02" y="329.7" width="4.38" height="15.0" fill="#8caa96"/>
<rect x="418.20" y="329.7" width="4.38" height="15.0" fill="#53946a"/>
<rect x="422.38" y="329.7" width="4.38" height="15.0" fill="#9db1a4"/>
<rect x="426.56" y="329.7" width="4.38" height="15.0" fill="#6a9d7c"/>
<rect x="430.74" y="329.7" width="4.38" height="15.0" fill="#7ba489"/>
<rect x="434.92" y="329.7" width="4.38" height="15.0" fill="#5a966f"/>
<rect x="439.10" y="329.7" width="4.38" height="15.0" fill="#499062"/>
<rect x="443.28" y="329.7" width="4.38" height="15.0" fill="#8caa96"/>
<rect x="447.46" y="329.7" width="4.38" height="15.0" fill="#499062"/>
<rect x="451.64" y="329.7" width="4.38" height="15.0" fill="#177c3a"/>
<rect x="455.82" y="329.7" width="4.38" height="15.0" fill="#b7bbb9"/>
<rect x="460.00" y="329.7" width="4.38" height="15.0" fill="#adb7b1"/>
<rect x="464.18" y="329.7" width="4.38" height="15.0" fill="#b7bbb9"/>
<rect x="468.36" y="329.7" width="4.38" height="15.0" fill="#0f1c14"/>
<rect x="472.54" y="329.7" width="8.56" height="15.0" fill="#a7b5ac"/>
<rect x="480.90" y="329.7" width="4.38" height="15.0" fill="#8caa96"/>
<rect x="485.08" y="329.7" width="4.38" height="15.0" fill="#75a184"/>
<rect x="497.63" y="329.7" width="4.38" height="15.0" fill="#8caa96"/>
<rect x="501.81" y="329.7" width="4.38" height="15.0" fill="#7ba489"/>
<rect x="505.99" y="329.7" width="4.38" height="15.0" fill="#8caa96"/>
<rect x="510.17" y="329.7" width="8.56" height="15.0" fill="#6a9d7c"/>
<rect x="522.71" y="329.7" width="4.38" height="15.0" fill="#388954"/>
<rect x="531.07" y="329.7" width="4.38" height="15.0" fill="#9db1a4"/>
<rect x="539.43" y="329.7" width="4.38" height="15.0" fill="#b4bab6"/>
<rect x="547.79" y="329.7" width="4.38" height="15.0" fill="#82a68e"/>
<rect x="556.15" y="329.7" width="4.38" height="15.0" fill="#adb7b1"/>
<rect x="560.33" y="329.7" width="4.38" height="15.0" fill="#96ae9e"/>
<rect x="564.51" y="329.7" width="4.38" height="15.0" fill="#5a966f"/>
<rect x="568.69" y="329.7" width="4.38" height="15.0" fill="#388954"/>
<rect x="577.05" y="329.7" width="4.38" height="15.0" fill="#adb7b1"/>
<rect x="581.23" y="329.7" width="4.38" height="15.0" fill="#388954"/>
<rect x="585.42" y="329.7" width="4.38" height="15.0" fill="#5a966f"/>
<rect x="589.60" y="329.7" width="4.38" height="15.0" fill="#9db1a4"/>
<rect x="593.78" y="329.7" width="4.38" height="15.0" fill="#32874f"/>
<rect x="597.96" y="329.7" width="4.38" height="15.0" fill="#7ba489"/>
<rect x="602.14" y="329.7" width="8.56" height="15.0" fill="#3f8c5a"/>
<rect x="610.50" y="329.7" width="4.38" height="15.0" fill="#499062"/>
<rect x="614.68" y="329.7" width="4.38" height="15.0" fill="#5a966f"/>
<rect x="618.86" y="329.7" width="4.38" height="15.0" fill="#b4bab6"/>
<rect x="623.04" y="329.7" width="4.38" height="15.0" fill="#5a966f"/>
<rect x="627.22" y="329.7" width="4.18" height="15.0" fill="#9db1a4"/>
</g>
<g stroke="#ffffff" stroke-opacity="0.22" stroke-width="0.35">
<line x1="79.58" y1="223.3" x2="79.58" y2="235.7"/>
<line x1="79.58" y1="245.0" x2="79.58" y2="274.3"/>
<line x1="79.58" y1="280.0" x2="79.58" y2="309.0"/>
<line x1="79.58" y1="315.3" x2="79.58" y2="344.7"/>
<line x1="83.76" y1="223.3" x2="83.76" y2="235.7"/>
<line x1="83.76" y1="245.0" x2="83.76" y2="274.3"/>
<line x1="83.76" y1="280.0" x2="83.76" y2="309.0"/>
<line x1="83.76" y1="315.3" x2="83.76" y2="344.7"/>
<line x1="87.94" y1="223.3" x2="87.94" y2="235.7"/>
<line x1="87.94" y1="245.0" x2="87.94" y2="274.3"/>
<line x1="87.94" y1="280.0" x2="87.94" y2="309.0"/>
<line x1="87.94" y1="315.3" x2="87.94" y2="344.7"/>
<line x1="92.12" y1="223.3" x2="92.12" y2="235.7"/>
<line x1="92.12" y1="245.0" x2="92.12" y2="274.3"/>
<line x1="92.12" y1="280.0" x2="92.12" y2="309.0"/>
<line x1="92.12" y1="315.3" x2="92.12" y2="344.7"/>
<line x1="96.30" y1="223.3" x2="96.30" y2="235.7"/>
<line x1="96.30" y1="245.0" x2="96.30" y2="274.3"/>
<line x1="96.30" y1="280.0" x2="96.30" y2="309.0"/>
<line x1="96.30" y1="315.3" x2="96.30" y2="344.7"/>
<line x1="100.48" y1="223.3" x2="100.48" y2="235.7"/>
<line x1="100.48" y1="245.0" x2="100.48" y2="274.3"/>
<line x1="100.48" y1="280.0" x2="100.48" y2="309.0"/>
<line x1="100.48" y1="315.3" x2="100.48" y2="344.7"/>
<line x1="104.66" y1="223.3" x2="104.66" y2="235.7"/>
<line x1="104.66" y1="245.0" x2="104.66" y2="274.3"/>
<line x1="104.66" y1="280.0" x2="104.66" y2="309.0"/>
<line x1="104.66" y1="315.3" x2="104.66" y2="344.7"/>
<line x1="108.84" y1="223.3" x2="108.84" y2="235.7"/>
<line x1="108.84" y1="245.0" x2="108.84" y2="274.3"/>
<line x1="108.84" y1="280.0" x2="108.84" y2="309.0"/>
<line x1="108.84" y1="315.3" x2="108.84" y2="344.7"/>
<line x1="113.02" y1="223.3" x2="113.02" y2="235.7"/>
<line x1="113.02" y1="245.0" x2="113.02" y2="274.3"/>
<line x1="113.02" y1="280.0" x2="113.02" y2="309.0"/>
<line x1="113.02" y1="315.3" x2="113.02" y2="344.7"/>
<line x1="117.20" y1="223.3" x2="117.20" y2="235.7"/>
<line x1="117.20" y1="245.0" x2="117.20" y2="274.3"/>
<line x1="117.20" y1="280.0" x2="117.20" y2="309.0"/>
<line x1="117.20" y1="315.3" x2="117.20" y2="344.7"/>
<line x1="121.38" y1="223.3" x2="121.38" y2="235.7"/>
<line x1="121.38" y1="245.0" x2="121.38" y2="274.3"/>
<line x1="121.38" y1="280.0" x2="121.38" y2="309.0"/>
<line x1="121.38" y1="315.3" x2="121.38" y2="344.7"/>
<line x1="125.57" y1="223.3" x2="125.57" y2="235.7"/>
<line x1="125.57" y1="245.0" x2="125.57" y2="274.3"/>
<line x1="125.57" y1="280.0" x2="125.57" y2="309.0"/>
<line x1="125.57" y1="315.3" x2="125.57" y2="344.7"/>
<line x1="129.75" y1="223.3" x2="129.75" y2="235.7"/>
<line x1="129.75" y1="245.0" x2="129.75" y2="274.3"/>
<line x1="129.75" y1="280.0" x2="129.75" y2="309.0"/>
<line x1="129.75" y1="315.3" x2="129.75" y2="344.7"/>
<line x1="133.93" y1="223.3" x2="133.93" y2="235.7"/>
<line x1="133.93" y1="245.0" x2="133.93" y2="274.3"/>
<line x1="133.93" y1="280.0" x2="133.93" y2="309.0"/>
<line x1="133.93" y1="315.3" x2="133.93" y2="344.7"/>
<line x1="138.11" y1="223.3" x2="138.11" y2="235.7"/>
<line x1="138.11" y1="245.0" x2="138.11" y2="274.3"/>
<line x1="138.11" y1="280.0" x2="138.11" y2="309.0"/>
<line x1="138.11" y1="315.3" x2="138.11" y2="344.7"/>
<line x1="142.29" y1="223.3" x2="142.29" y2="235.7"/>
<line x1="142.29" y1="245.0" x2="142.29" y2="274.3"/>
<line x1="142.29" y1="280.0" x2="142.29" y2="309.0"/>
<line x1="142.29" y1="315.3" x2="142.29" y2="344.7"/>
<line x1="146.47" y1="223.3" x2="146.47" y2="235.7"/>
<line x1="146.47" y1="245.0" x2="146.47" y2="274.3"/>
<line x1="146.47" y1="280.0" x2="146.47" y2="309.0"/>
<line x1="146.47" y1="315.3" x2="146.47" y2="344.7"/>
<line x1="150.65" y1="223.3" x2="150.65" y2="235.7"/>
<line x1="150.65" y1="245.0" x2="150.65" y2="274.3"/>
<line x1="150.65" y1="280.0" x2="150.65" y2="309.0"/>
<line x1="150.65" y1="315.3" x2="150.65" y2="344.7"/>
<line x1="154.83" y1="223.3" x2="154.83" y2="235.7"/>
<line x1="154.83" y1="245.0" x2="154.83" y2="274.3"/>
<line x1="154.83" y1="280.0" x2="154.83" y2="309.0"/>
<line x1="154.83" y1="315.3" x2="154.83" y2="344.7"/>
<line x1="159.01" y1="223.3" x2="159.01" y2="235.7"/>
<line x1="159.01" y1="245.0" x2="159.01" y2="274.3"/>
<line x1="159.01" y1="280.0" x2="159.01" y2="309.0"/>
<line x1="159.01" y1="315.3" x2="159.01" y2="344.7"/>
<line x1="163.19" y1="223.3" x2="163.19" y2="235.7"/>
<line x1="163.19" y1="245.0" x2="163.19" y2="274.3"/>
<line x1="163.19" y1="280.0" x2="163.19" y2="309.0"/>
<line x1="163.19" y1="315.3" x2="163.19" y2="344.7"/>
<line x1="167.37" y1="223.3" x2="167.37" y2="235.7"/>
<line x1="167.37" y1="245.0" x2="167.37" y2="274.3"/>
<line x1="167.37" y1="280.0" x2="167.37" y2="309.0"/>
<line x1="167.37" y1="315.3" x2="167.37" y2="344.7"/>
<line x1="171.55" y1="223.3" x2="171.55" y2="235.7"/>
<line x1="171.55" y1="245.0" x2="171.55" y2="274.3"/>
<line x1="171.55" y1="280.0" x2="171.55" y2="309.0"/>
<line x1="171.55" y1="315.3" x2="171.55" y2="344.7"/>
<line x1="175.73" y1="223.3" x2="175.73" y2="235.7"/>
<line x1="175.73" y1="245.0" x2="175.73" y2="274.3"/>
<line x1="175.73" y1="280.0" x2="175.73" y2="309.0"/>
<line x1="175.73" y1="315.3" x2="175.73" y2="344.7"/>
<line x1="179.91" y1="223.3" x2="179.91" y2="235.7"/>
<line x1="179.91" y1="245.0" x2="179.91" y2="274.3"/>
<line x1="179.91" y1="280.0" x2="179.91" y2="309.0"/>
<line x1="179.91" y1="315.3" x2="179.91" y2="344.7"/>
<line x1="184.09" y1="223.3" x2="184.09" y2="235.7"/>
<line x1="184.09" y1="245.0" x2="184.09" y2="274.3"/>
<line x1="184.09" y1="280.0" x2="184.09" y2="309.0"/>
<line x1="184.09" y1="315.3" x2="184.09" y2="344.7"/>
<line x1="188.27" y1="223.3" x2="188.27" y2="235.7"/>
<line x1="188.27" y1="245.0" x2="188.27" y2="274.3"/>
<line x1="188.27" y1="280.0" x2="188.27" y2="309.0"/>
<line x1="188.27" y1="315.3" x2="188.27" y2="344.7"/>
<line x1="192.45" y1="223.3" x2="192.45" y2="235.7"/>
<line x1="192.45" y1="245.0" x2="192.45" y2="274.3"/>
<line x1="192.45" y1="280.0" x2="192.45" y2="309.0"/>
<line x1="192.45" y1="315.3" x2="192.45" y2="344.7"/>
<line x1="196.63" y1="223.3" x2="196.63" y2="235.7"/>
<line x1="196.63" y1="245.0" x2="196.63" y2="274.3"/>
<line x1="196.63" y1="280.0" x2="196.63" y2="309.0"/>
<line x1="196.63" y1="315.3" x2="196.63" y2="344.7"/>
<line x1="200.81" y1="223.3" x2="200.81" y2="235.7"/>
<line x1="200.81" y1="245.0" x2="200.81" y2="274.3"/>
<line x1="200.81" y1="280.0" x2="200.81" y2="309.0"/>
<line x1="200.81" y1="315.3" x2="200.81" y2="344.7"/>
<line x1="204.99" y1="223.3" x2="204.99" y2="235.7"/>
<line x1="204.99" y1="245.0" x2="204.99" y2="274.3"/>
<line x1="204.99" y1="280.0" x2="204.99" y2="309.0"/>
<line x1="204.99" y1="315.3" x2="204.99" y2="344.7"/>
<line x1="209.17" y1="223.3" x2="209.17" y2="235.7"/>
<line x1="209.17" y1="245.0" x2="209.17" y2="274.3"/>
<line x1="209.17" y1="280.0" x2="209.17" y2="309.0"/>
<line x1="209.17" y1="315.3" x2="209.17" y2="344.7"/>
<line x1="213.35" y1="223.3" x2="213.35" y2="235.7"/>
<line x1="213.35" y1="245.0" x2="213.35" y2="274.3"/>
<line x1="213.35" y1="280.0" x2="213.35" y2="309.0"/>
<line x1="213.35" y1="315.3" x2="213.35" y2="344.7"/>
<line x1="217.54" y1="223.3" x2="217.54" y2="235.7"/>
<line x1="217.54" y1="245.0" x2="217.54" y2="274.3"/>
<line x1="217.54" y1="280.0" x2="217.54" y2="309.0"/>
<line x1="217.54" y1="315.3" x2="217.54" y2="344.7"/>
<line x1="221.72" y1="223.3" x2="221.72" y2="235.7"/>
<line x1="221.72" y1="245.0" x2="221.72" y2="274.3"/>
<line x1="221.72" y1="280.0" x2="221.72" y2="309.0"/>
<line x1="221.72" y1="315.3" x2="221.72" y2="344.7"/>
<line x1="225.90" y1="223.3" x2="225.90" y2="235.7"/>
<line x1="225.90" y1="245.0" x2="225.90" y2="274.3"/>
<line x1="225.90" y1="280.0" x2="225.90" y2="309.0"/>
<line x1="225.90" y1="315.3" x2="225.90" y2="344.7"/>
<line x1="230.08" y1="223.3" x2="230.08" y2="235.7"/>
<line x1="230.08" y1="245.0" x2="230.08" y2="274.3"/>
<line x1="230.08" y1="280.0" x2="230.08" y2="309.0"/>
<line x1="230.08" y1="315.3" x2="230.08" y2="344.7"/>
<line x1="234.26" y1="223.3" x2="234.26" y2="235.7"/>
<line x1="234.26" y1="245.0" x2="234.26" y2="274.3"/>
<line x1="234.26" y1="280.0" x2="234.26" y2="309.0"/>
<line x1="234.26" y1="315.3" x2="234.26" y2="344.7"/>
<line x1="238.44" y1="223.3" x2="238.44" y2="235.7"/>
<line x1="238.44" y1="245.0" x2="238.44" y2="274.3"/>
<line x1="238.44" y1="280.0" x2="238.44" y2="309.0"/>
<line x1="238.44" y1="315.3" x2="238.44" y2="344.7"/>
<line x1="242.62" y1="223.3" x2="242.62" y2="235.7"/>
<line x1="242.62" y1="245.0" x2="242.62" y2="274.3"/>
<line x1="242.62" y1="280.0" x2="242.62" y2="309.0"/>
<line x1="242.62" y1="315.3" x2="242.62" y2="344.7"/>
<line x1="246.80" y1="223.3" x2="246.80" y2="235.7"/>
<line x1="246.80" y1="245.0" x2="246.80" y2="274.3"/>
<line x1="246.80" y1="280.0" x2="246.80" y2="309.0"/>
<line x1="246.80" y1="315.3" x2="246.80" y2="344.7"/>
<line x1="250.98" y1="223.3" x2="250.98" y2="235.7"/>
<line x1="250.98" y1="245.0" x2="250.98" y2="274.3"/>
<line x1="250.98" y1="280.0" x2="250.98" y2="309.0"/>
<line x1="250.98" y1="315.3" x2="250.98" y2="344.7"/>
<line x1="255.16" y1="223.3" x2="255.16" y2="235.7"/>
<line x1="255.16" y1="245.0" x2="255.16" y2="274.3"/>
<line x1="255.16" y1="280.0" x2="255.16" y2="309.0"/>
<line x1="255.16" y1="315.3" x2="255.16" y2="344.7"/>
<line x1="259.34" y1="223.3" x2="259.34" y2="235.7"/>
<line x1="259.34" y1="245.0" x2="259.34" y2="274.3"/>
<line x1="259.34" y1="280.0" x2="259.34" y2="309.0"/>
<line x1="259.34" y1="315.3" x2="259.34" y2="344.7"/>
<line x1="263.52" y1="223.3" x2="263.52" y2="235.7"/>
<line x1="263.52" y1="245.0" x2="263.52" y2="274.3"/>
<line x1="263.52" y1="280.0" x2="263.52" y2="309.0"/>
<line x1="263.52" y1="315.3" x2="263.52" y2="344.7"/>
<line x1="267.70" y1="223.3" x2="267.70" y2="235.7"/>
<line x1="267.70" y1="245.0" x2="267.70" y2="274.3"/>
<line x1="267.70" y1="280.0" x2="267.70" y2="309.0"/>
<line x1="267.70" y1="315.3" x2="267.70" y2="344.7"/>
<line x1="271.88" y1="223.3" x2="271.88" y2="235.7"/>
<line x1="271.88" y1="245.0" x2="271.88" y2="274.3"/>
<line x1="271.88" y1="280.0" x2="271.88" y2="309.0"/>
<line x1="271.88" y1="315.3" x2="271.88" y2="344.7"/>
<line x1="276.06" y1="223.3" x2="276.06" y2="235.7"/>
<line x1="276.06" y1="245.0" x2="276.06" y2="274.3"/>
<line x1="276.06" y1="280.0" x2="276.06" y2="309.0"/>
<line x1="276.06" y1="315.3" x2="276.06" y2="344.7"/>
<line x1="280.24" y1="223.3" x2="280.24" y2="235.7"/>
<line x1="280.24" y1="245.0" x2="280.24" y2="274.3"/>
<line x1="280.24" y1="280.0" x2="280.24" y2="309.0"/>
<line x1="280.24" y1="315.3" x2="280.24" y2="344.7"/>
<line x1="284.42" y1="223.3" x2="284.42" y2="235.7"/>
<line x1="284.42" y1="245.0" x2="284.42" y2="274.3"/>
<line x1="284.42" y1="280.0" x2="284.42" y2="309.0"/>
<line x1="284.42" y1="315.3" x2="284.42" y2="344.7"/>
<line x1="288.60" y1="223.3" x2="288.60" y2="235.7"/>
<line x1="288.60" y1="245.0" x2="288.60" y2="274.3"/>
<line x1="288.60" y1="280.0" x2="288.60" y2="309.0"/>
<line x1="288.60" y1="315.3" x2="288.60" y2="344.7"/>
<line x1="292.78" y1="223.3" x2="292.78" y2="235.7"/>
<line x1="292.78" y1="245.0" x2="292.78" y2="274.3"/>
<line x1="292.78" y1="280.0" x2="292.78" y2="309.0"/>
<line x1="292.78" y1="315.3" x2="292.78" y2="344.7"/>
<line x1="296.96" y1="223.3" x2="296.96" y2="235.7"/>
<line x1="296.96" y1="245.0" x2="296.96" y2="274.3"/>
<line x1="296.96" y1="280.0" x2="296.96" y2="309.0"/>
<line x1="296.96" y1="315.3" x2="296.96" y2="344.7"/>
<line x1="301.14" y1="223.3" x2="301.14" y2="235.7"/>
<line x1="301.14" y1="245.0" x2="301.14" y2="274.3"/>
<line x1="301.14" y1="280.0" x2="301.14" y2="309.0"/>
<line x1="301.14" y1="315.3" x2="301.14" y2="344.7"/>
<line x1="305.32" y1="223.3" x2="305.32" y2="235.7"/>
<line x1="305.32" y1="245.0" x2="305.32" y2="274.3"/>
<line x1="305.32" y1="280.0" x2="305.32" y2="309.0"/>
<line x1="305.32" y1="315.3" x2="305.32" y2="344.7"/>
<line x1="309.51" y1="223.3" x2="309.51" y2="235.7"/>
<line x1="309.51" y1="245.0" x2="309.51" y2="274.3"/>
<line x1="309.51" y1="280.0" x2="309.51" y2="309.0"/>
<line x1="309.51" y1="315.3" x2="309.51" y2="344.7"/>
<line x1="313.69" y1="223.3" x2="313.69" y2="235.7"/>
<line x1="313.69" y1="245.0" x2="313.69" y2="274.3"/>
<line x1="313.69" y1="280.0" x2="313.69" y2="309.0"/>
<line x1="313.69" y1="315.3" x2="313.69" y2="344.7"/>
<line x1="317.87" y1="223.3" x2="317.87" y2="235.7"/>
<line x1="317.87" y1="245.0" x2="317.87" y2="274.3"/>
<line x1="317.87" y1="280.0" x2="317.87" y2="309.0"/>
<line x1="317.87" y1="315.3" x2="317.87" y2="344.7"/>
<line x1="322.05" y1="223.3" x2="322.05" y2="235.7"/>
<line x1="322.05" y1="245.0" x2="322.05" y2="274.3"/>
<line x1="322.05" y1="280.0" x2="322.05" y2="309.0"/>
<line x1="322.05" y1="315.3" x2="322.05" y2="344.7"/>
<line x1="326.23" y1="223.3" x2="326.23" y2="235.7"/>
<line x1="326.23" y1="245.0" x2="326.23" y2="274.3"/>
<line x1="326.23" y1="280.0" x2="326.23" y2="309.0"/>
<line x1="326.23" y1="315.3" x2="326.23" y2="344.7"/>
<line x1="330.41" y1="223.3" x2="330.41" y2="235.7"/>
<line x1="330.41" y1="245.0" x2="330.41" y2="274.3"/>
<line x1="330.41" y1="280.0" x2="330.41" y2="309.0"/>
<line x1="330.41" y1="315.3" x2="330.41" y2="344.7"/>
<line x1="334.59" y1="223.3" x2="334.59" y2="235.7"/>
<line x1="334.59" y1="245.0" x2="334.59" y2="274.3"/>
<line x1="334.59" y1="280.0" x2="334.59" y2="309.0"/>
<line x1="334.59" y1="315.3" x2="334.59" y2="344.7"/>
<line x1="338.77" y1="223.3" x2="338.77" y2="235.7"/>
<line x1="338.77" y1="245.0" x2="338.77" y2="274.3"/>
<line x1="338.77" y1="280.0" x2="338.77" y2="309.0"/>
<line x1="338.77" y1="315.3" x2="338.77" y2="344.7"/>
<line x1="342.95" y1="223.3" x2="342.95" y2="235.7"/>
<line x1="342.95" y1="245.0" x2="342.95" y2="274.3"/>
<line x1="342.95" y1="280.0" x2="342.95" y2="309.0"/>
<line x1="342.95" y1="315.3" x2="342.95" y2="344.7"/>
<line x1="347.13" y1="223.3" x2="347.13" y2="235.7"/>
<line x1="347.13" y1="245.0" x2="347.13" y2="274.3"/>
<line x1="347.13" y1="280.0" x2="347.13" y2="309.0"/>
<line x1="347.13" y1="315.3" x2="347.13" y2="344.7"/>
<line x1="351.31" y1="223.3" x2="351.31" y2="235.7"/>
<line x1="351.31" y1="245.0" x2="351.31" y2="274.3"/>
<line x1="351.31" y1="280.0" x2="351.31" y2="309.0"/>
<line x1="351.31" y1="315.3" x2="351.31" y2="344.7"/>
<line x1="355.49" y1="223.3" x2="355.49" y2="235.7"/>
<line x1="355.49" y1="245.0" x2="355.49" y2="274.3"/>
<line x1="355.49" y1="280.0" x2="355.49" y2="309.0"/>
<line x1="355.49" y1="315.3" x2="355.49" y2="344.7"/>
<line x1="359.67" y1="223.3" x2="359.67" y2="235.7"/>
<line x1="359.67" y1="245.0" x2="359.67" y2="274.3"/>
<line x1="359.67" y1="280.0" x2="359.67" y2="309.0"/>
<line x1="359.67" y1="315.3" x2="359.67" y2="344.7"/>
<line x1="363.85" y1="223.3" x2="363.85" y2="235.7"/>
<line x1="363.85" y1="245.0" x2="363.85" y2="274.3"/>
<line x1="363.85" y1="280.0" x2="363.85" y2="309.0"/>
<line x1="363.85" y1="315.3" x2="363.85" y2="344.7"/>
<line x1="368.03" y1="223.3" x2="368.03" y2="235.7"/>
<line x1="368.03" y1="245.0" x2="368.03" y2="274.3"/>
<line x1="368.03" y1="280.0" x2="368.03" y2="309.0"/>
<line x1="368.03" y1="315.3" x2="368.03" y2="344.7"/>
<line x1="372.21" y1="223.3" x2="372.21" y2="235.7"/>
<line x1="372.21" y1="245.0" x2="372.21" y2="274.3"/>
<line x1="372.21" y1="280.0" x2="372.21" y2="309.0"/>
<line x1="372.21" y1="315.3" x2="372.21" y2="344.7"/>
<line x1="376.39" y1="223.3" x2="376.39" y2="235.7"/>
<line x1="376.39" y1="245.0" x2="376.39" y2="274.3"/>
<line x1="376.39" y1="280.0" x2="376.39" y2="309.0"/>
<line x1="376.39" y1="315.3" x2="376.39" y2="344.7"/>
<line x1="380.57" y1="223.3" x2="380.57" y2="235.7"/>
<line x1="380.57" y1="245.0" x2="380.57" y2="274.3"/>
<line x1="380.57" y1="280.0" x2="380.57" y2="309.0"/>
<line x1="380.57" y1="315.3" x2="380.57" y2="344.7"/>
<line x1="384.75" y1="223.3" x2="384.75" y2="235.7"/>
<line x1="384.75" y1="245.0" x2="384.75" y2="274.3"/>
<line x1="384.75" y1="280.0" x2="384.75" y2="309.0"/>
<line x1="384.75" y1="315.3" x2="384.75" y2="344.7"/>
<line x1="388.93" y1="223.3" x2="388.93" y2="235.7"/>
<line x1="388.93" y1="245.0" x2="388.93" y2="274.3"/>
<line x1="388.93" y1="280.0" x2="388.93" y2="309.0"/>
<line x1="388.93" y1="315.3" x2="388.93" y2="344.7"/>
<line x1="393.11" y1="223.3" x2="393.11" y2="235.7"/>
<line x1="393.11" y1="245.0" x2="393.11" y2="274.3"/>
<line x1="393.11" y1="280.0" x2="393.11" y2="309.0"/>
<line x1="393.11" y1="315.3" x2="393.11" y2="344.7"/>
<line x1="397.29" y1="223.3" x2="397.29" y2="235.7"/>
<line x1="397.29" y1="245.0" x2="397.29" y2="274.3"/>
<line x1="397.29" y1="280.0" x2="397.29" y2="309.0"/>
<line x1="397.29" y1="315.3" x2="397.29" y2="344.7"/>
<line x1="401.48" y1="223.3" x2="401.48" y2="235.7"/>
<line x1="401.48" y1="245.0" x2="401.48" y2="274.3"/>
<line x1="401.48" y1="280.0" x2="401.48" y2="309.0"/>
<line x1="401.48" y1="315.3" x2="401.48" y2="344.7"/>
<line x1="405.66" y1="223.3" x2="405.66" y2="235.7"/>
<line x1="405.66" y1="245.0" x2="405.66" y2="274.3"/>
<line x1="405.66" y1="280.0" x2="405.66" y2="309.0"/>
<line x1="405.66" y1="315.3" x2="405.66" y2="344.7"/>
<line x1="409.84" y1="223.3" x2="409.84" y2="235.7"/>
<line x1="409.84" y1="245.0" x2="409.84" y2="274.3"/>
<line x1="409.84" y1="280.0" x2="409.84" y2="309.0"/>
<line x1="409.84" y1="315.3" x2="409.84" y2="344.7"/>
<line x1="414.02" y1="223.3" x2="414.02" y2="235.7"/>
<line x1="414.02" y1="245.0" x2="414.02" y2="274.3"/>
<line x1="414.02" y1="280.0" x2="414.02" y2="309.0"/>
<line x1="414.02" y1="315.3" x2="414.02" y2="344.7"/>
<line x1="418.20" y1="223.3" x2="418.20" y2="235.7"/>
<line x1="418.20" y1="245.0" x2="418.20" y2="274.3"/>
<line x1="418.20" y1="280.0" x2="418.20" y2="309.0"/>
<line x1="418.20" y1="315.3" x2="418.20" y2="344.7"/>
<line x1="422.38" y1="223.3" x2="422.38" y2="235.7"/>
<line x1="422.38" y1="245.0" x2="422.38" y2="274.3"/>
<line x1="422.38" y1="280.0" x2="422.38" y2="309.0"/>
<line x1="422.38" y1="315.3" x2="422.38" y2="344.7"/>
<line x1="426.56" y1="223.3" x2="426.56" y2="235.7"/>
<line x1="426.56" y1="245.0" x2="426.56" y2="274.3"/>
<line x1="426.56" y1="280.0" x2="426.56" y2="309.0"/>
<line x1="426.56" y1="315.3" x2="426.56" y2="344.7"/>
<line x1="430.74" y1="223.3" x2="430.74" y2="235.7"/>
<line x1="430.74" y1="245.0" x2="430.74" y2="274.3"/>
<line x1="430.74" y1="280.0" x2="430.74" y2="309.0"/>
<line x1="430.74" y1="315.3" x2="430.74" y2="344.7"/>
<line x1="434.92" y1="223.3" x2="434.92" y2="235.7"/>
<line x1="434.92" y1="245.0" x2="434.92" y2="274.3"/>
<line x1="434.92" y1="280.0" x2="434.92" y2="309.0"/>
<line x1="434.92" y1="315.3" x2="434.92" y2="344.7"/>
<line x1="439.10" y1="223.3" x2="439.10" y2="235.7"/>
<line x1="439.10" y1="245.0" x2="439.10" y2="274.3"/>
<line x1="439.10" y1="280.0" x2="439.10" y2="309.0"/>
<line x1="439.10" y1="315.3" x2="439.10" y2="344.7"/>
<line x1="443.28" y1="223.3" x2="443.28" y2="235.7"/>
<line x1="443.28" y1="245.0" x2="443.28" y2="274.3"/>
<line x1="443.28" y1="280.0" x2="443.28" y2="309.0"/>
<line x1="443.28" y1="315.3" x2="443.28" y2="344.7"/>
<line x1="447.46" y1="223.3" x2="447.46" y2="235.7"/>
<line x1="447.46" y1="245.0" x2="447.46" y2="274.3"/>
<line x1="447.46" y1="280.0" x2="447.46" y2="309.0"/>
<line x1="447.46" y1="315.3" x2="447.46" y2="344.7"/>
<line x1="451.64" y1="223.3" x2="451.64" y2="235.7"/>
<line x1="451.64" y1="245.0" x2="451.64" y2="274.3"/>
<line x1="451.64" y1="280.0" x2="451.64" y2="309.0"/>
<line x1="451.64" y1="315.3" x2="451.64" y2="344.7"/>
<line x1="455.82" y1="223.3" x2="455.82" y2="235.7"/>
<line x1="455.82" y1="245.0" x2="455.82" y2="274.3"/>
<line x1="455.82" y1="280.0" x2="455.82" y2="309.0"/>
<line x1="455.82" y1="315.3" x2="455.82" y2="344.7"/>
<line x1="460.00" y1="223.3" x2="460.00" y2="235.7"/>
<line x1="460.00" y1="245.0" x2="460.00" y2="274.3"/>
<line x1="460.00" y1="280.0" x2="460.00" y2="309.0"/>
<line x1="460.00" y1="315.3" x2="460.00" y2="344.7"/>
<line x1="464.18" y1="223.3" x2="464.18" y2="235.7"/>
<line x1="464.18" y1="245.0" x2="464.18" y2="274.3"/>
<line x1="464.18" y1="280.0" x2="464.18" y2="309.0"/>
<line x1="464.18" y1="315.3" x2="464.18" y2="344.7"/>
<line x1="468.36" y1="223.3" x2="468.36" y2="235.7"/>
<line x1="468.36" y1="245.0" x2="468.36" y2="274.3"/>
<line x1="468.36" y1="280.0" x2="468.36" y2="309.0"/>
<line x1="468.36" y1="315.3" x2="468.36" y2="344.7"/>
<line x1="472.54" y1="223.3" x2="472.54" y2="235.7"/>
<line x1="472.54" y1="245.0" x2="472.54" y2="274.3"/>
<line x1="472.54" y1="280.0" x2="472.54" y2="309.0"/>
<line x1="472.54" y1="315.3" x2="472.54" y2="344.7"/>
<line x1="476.72" y1="223.3" x2="476.72" y2="235.7"/>
<line x1="476.72" y1="245.0" x2="476.72" y2="274.3"/>
<line x1="476.72" y1="280.0" x2="476.72" y2="309.0"/>
<line x1="476.72" y1="315.3" x2="476.72" y2="344.7"/>
<line x1="480.90" y1="223.3" x2="480.90" y2="235.7"/>
<line x1="480.90" y1="245.0" x2="480.90" y2="274.3"/>
<line x1="480.90" y1="280.0" x2="480.90" y2="309.0"/>
<line x1="480.90" y1="315.3" x2="480.90" y2="344.7"/>
<line x1="485.08" y1="223.3" x2="485.08" y2="235.7"/>
<line x1="485.08" y1="245.0" x2="485.08" y2="274.3"/>
<line x1="485.08" y1="280.0" x2="485.08" y2="309.0"/>
<line x1="485.08" y1="315.3" x2="485.08" y2="344.7"/>
<line x1="489.26" y1="223.3" x2="489.26" y2="235.7"/>
<line x1="489.26" y1="245.0" x2="489.26" y2="274.3"/>
<line x1="489.26" y1="280.0" x2="489.26" y2="309.0"/>
<line x1="489.26" y1="315.3" x2="489.26" y2="344.7"/>
<line x1="493.45" y1="223.3" x2="493.45" y2="235.7"/>
<line x1="493.45" y1="245.0" x2="493.45" y2="274.3"/>
<line x1="493.45" y1="280.0" x2="493.45" y2="309.0"/>
<line x1="493.45" y1="315.3" x2="493.45" y2="344.7"/>
<line x1="497.63" y1="223.3" x2="497.63" y2="235.7"/>
<line x1="497.63" y1="245.0" x2="497.63" y2="274.3"/>
<line x1="497.63" y1="280.0" x2="497.63" y2="309.0"/>
<line x1="497.63" y1="315.3" x2="497.63" y2="344.7"/>
<line x1="501.81" y1="223.3" x2="501.81" y2="235.7"/>
<line x1="501.81" y1="245.0" x2="501.81" y2="274.3"/>
<line x1="501.81" y1="280.0" x2="501.81" y2="309.0"/>
<line x1="501.81" y1="315.3" x2="501.81" y2="344.7"/>
<line x1="505.99" y1="223.3" x2="505.99" y2="235.7"/>
<line x1="505.99" y1="245.0" x2="505.99" y2="274.3"/>
<line x1="505.99" y1="280.0" x2="505.99" y2="309.0"/>
<line x1="505.99" y1="315.3" x2="505.99" y2="344.7"/>
<line x1="510.17" y1="223.3" x2="510.17" y2="235.7"/>
<line x1="510.17" y1="245.0" x2="510.17" y2="274.3"/>
<line x1="510.17" y1="280.0" x2="510.17" y2="309.0"/>
<line x1="510.17" y1="315.3" x2="510.17" y2="344.7"/>
<line x1="514.35" y1="223.3" x2="514.35" y2="235.7"/>
<line x1="514.35" y1="245.0" x2="514.35" y2="274.3"/>
<line x1="514.35" y1="280.0" x2="514.35" y2="309.0"/>
<line x1="514.35" y1="315.3" x2="514.35" y2="344.7"/>
<line x1="518.53" y1="223.3" x2="518.53" y2="235.7"/>
<line x1="518.53" y1="245.0" x2="518.53" y2="274.3"/>
<line x1="518.53" y1="280.0" x2="518.53" y2="309.0"/>
<line x1="518.53" y1="315.3" x2="518.53" y2="344.7"/>
<line x1="522.71" y1="223.3" x2="522.71" y2="235.7"/>
<line x1="522.71" y1="245.0" x2="522.71" y2="274.3"/>
<line x1="522.71" y1="280.0" x2="522.71" y2="309.0"/>
<line x1="522.71" y1="315.3" x2="522.71" y2="344.7"/>
<line x1="526.89" y1="223.3" x2="526.89" y2="235.7"/>
<line x1="526.89" y1="245.0" x2="526.89" y2="274.3"/>
<line x1="526.89" y1="280.0" x2="526.89" y2="309.0"/>
<line x1="526.89" y1="315.3" x2="526.89" y2="344.7"/>
<line x1="531.07" y1="223.3" x2="531.07" y2="235.7"/>
<line x1="531.07" y1="245.0" x2="531.07" y2="274.3"/>
<line x1="531.07" y1="280.0" x2="531.07" y2="309.0"/>
<line x1="531.07" y1="315.3" x2="531.07" y2="344.7"/>
<line x1="535.25" y1="223.3" x2="535.25" y2="235.7"/>
<line x1="535.25" y1="245.0" x2="535.25" y2="274.3"/>
<line x1="535.25" y1="280.0" x2="535.25" y2="309.0"/>
<line x1="535.25" y1="315.3" x2="535.25" y2="344.7"/>
<line x1="539.43" y1="223.3" x2="539.43" y2="235.7"/>
<line x1="539.43" y1="245.0" x2="539.43" y2="274.3"/>
<line x1="539.43" y1="280.0" x2="539.43" y2="309.0"/>
<line x1="539.43" y1="315.3" x2="539.43" y2="344.7"/>
<line x1="543.61" y1="223.3" x2="543.61" y2="235.7"/>
<line x1="543.61" y1="245.0" x2="543.61" y2="274.3"/>
<line x1="543.61" y1="280.0" x2="543.61" y2="309.0"/>
<line x1="543.61" y1="315.3" x2="543.61" y2="344.7"/>
<line x1="547.79" y1="223.3" x2="547.79" y2="235.7"/>
<line x1="547.79" y1="245.0" x2="547.79" y2="274.3"/>
<line x1="547.79" y1="280.0" x2="547.79" y2="309.0"/>
<line x1="547.79" y1="315.3" x2="547.79" y2="344.7"/>
<line x1="551.97" y1="223.3" x2="551.97" y2="235.7"/>
<line x1="551.97" y1="245.0" x2="551.97" y2="274.3"/>
<line x1="551.97" y1="280.0" x2="551.97" y2="309.0"/>
<line x1="551.97" y1="315.3" x2="551.97" y2="344.7"/>
<line x1="556.15" y1="223.3" x2="556.15" y2="235.7"/>
<line x1="556.15" y1="245.0" x2="556.15" y2="274.3"/>
<line x1="556.15" y1="280.0" x2="556.15" y2="309.0"/>
<line x1="556.15" y1="315.3" x2="556.15" y2="344.7"/>
<line x1="560.33" y1="223.3" x2="560.33" y2="235.7"/>
<line x1="560.33" y1="245.0" x2="560.33" y2="274.3"/>
<line x1="560.33" y1="280.0" x2="560.33" y2="309.0"/>
<line x1="560.33" y1="315.3" x2="560.33" y2="344.7"/>
<line x1="564.51" y1="223.3" x2="564.51" y2="235.7"/>
<line x1="564.51" y1="245.0" x2="564.51" y2="274.3"/>
<line x1="564.51" y1="280.0" x2="564.51" y2="309.0"/>
<line x1="564.51" y1="315.3" x2="564.51" y2="344.7"/>
<line x1="568.69" y1="223.3" x2="568.69" y2="235.7"/>
<line x1="568.69" y1="245.0" x2="568.69" y2="274.3"/>
<line x1="568.69" y1="280.0" x2="568.69" y2="309.0"/>
<line x1="568.69" y1="315.3" x2="568.69" y2="344.7"/>
<line x1="572.87" y1="223.3" x2="572.87" y2="235.7"/>
<line x1="572.87" y1="245.0" x2="572.87" y2="274.3"/>
<line x1="572.87" y1="280.0" x2="572.87" y2="309.0"/>
<line x1="572.87" y1="315.3" x2="572.87" y2="344.7"/>
<line x1="577.05" y1="223.3" x2="577.05" y2="235.7"/>
<line x1="577.05" y1="245.0" x2="577.05" y2="274.3"/>
<line x1="577.05" y1="280.0" x2="577.05" y2="309.0"/>
<line x1="577.05" y1="315.3" x2="577.05" y2="344.7"/>
<line x1="581.23" y1="223.3" x2="581.23" y2="235.7"/>
<line x1="581.23" y1="245.0" x2="581.23" y2="274.3"/>
<line x1="581.23" y1="280.0" x2="581.23" y2="309.0"/>
<line x1="581.23" y1="315.3" x2="581.23" y2="344.7"/>
<line x1="585.42" y1="223.3" x2="585.42" y2="235.7"/>
<line x1="585.42" y1="245.0" x2="585.42" y2="274.3"/>
<line x1="585.42" y1="280.0" x2="585.42" y2="309.0"/>
<line x1="585.42" y1="315.3" x2="585.42" y2="344.7"/>
<line x1="589.60" y1="223.3" x2="589.60" y2="235.7"/>
<line x1="589.60" y1="245.0" x2="589.60" y2="274.3"/>
<line x1="589.60" y1="280.0" x2="589.60" y2="309.0"/>
<line x1="589.60" y1="315.3" x2="589.60" y2="344.7"/>
<line x1="593.78" y1="223.3" x2="593.78" y2="235.7"/>
<line x1="593.78" y1="245.0" x2="593.78" y2="274.3"/>
<line x1="593.78" y1="280.0" x2="593.78" y2="309.0"/>
<line x1="593.78" y1="315.3" x2="593.78" y2="344.7"/>
<line x1="597.96" y1="223.3" x2="597.96" y2="235.7"/>
<line x1="597.96" y1="245.0" x2="597.96" y2="274.3"/>
<line x1="597.96" y1="280.0" x2="597.96" y2="309.0"/>
<line x1="597.96" y1="315.3" x2="597.96" y2="344.7"/>
<line x1="602.14" y1="223.3" x2="602.14" y2="235.7"/>
<line x1="602.14" y1="245.0" x2="602.14" y2="274.3"/>
<line x1="602.14" y1="280.0" x2="602.14" y2="309.0"/>
<line x1="602.14" y1="315.3" x2="602.14" y2="344.7"/>
<line x1="606.32" y1="223.3" x2="606.32" y2="235.7"/>
<line x1="606.32" y1="245.0" x2="606.32" y2="274.3"/>
<line x1="606.32" y1="280.0" x2="606.32" y2="309.0"/>
<line x1="606.32" y1="315.3" x2="606.32" y2="344.7"/>
<line x1="610.50" y1="223.3" x2="610.50" y2="235.7"/>
<line x1="610.50" y1="245.0" x2="610.50" y2="274.3"/>
<line x1="610.50" y1="280.0" x2="610.50" y2="309.0"/>
<line x1="610.50" y1="315.3" x2="610.50" y2="344.7"/>
<line x1="614.68" y1="223.3" x2="614.68" y2="235.7"/>
<line x1="614.68" y1="245.0" x2="614.68" y2="274.3"/>
<line x1="614.68" y1="280.0" x2="614.68" y2="309.0"/>
<line x1="614.68" y1="315.3" x2="614.68" y2="344.7"/>
<line x1="618.86" y1="223.3" x2="618.86" y2="235.7"/>
<line x1="618.86" y1="245.0" x2="618.86" y2="274.3"/>
<line x1="618.86" y1="280.0" x2="618.86" y2="309.0"/>
<line x1="618.86" y1="315.3" x2="618.86" y2="344.7"/>
<line x1="623.04" y1="223.3" x2="623.04" y2="235.7"/>
<line x1="623.04" y1="245.0" x2="623.04" y2="274.3"/>
<line x1="623.04" y1="280.0" x2="623.04" y2="309.0"/>
<line x1="623.04" y1="315.3" x2="623.04" y2="344.7"/>
<line x1="627.22" y1="223.3" x2="627.22" y2="235.7"/>
<line x1="627.22" y1="245.0" x2="627.22" y2="274.3"/>
<line x1="627.22" y1="280.0" x2="627.22" y2="309.0"/>
<line x1="627.22" y1="315.3" x2="627.22" y2="344.7"/>
</g>
<text x="68.80" y="232.48" font-size="8.60" text-anchor="end" fill="#1a1a1a">Control</text>
<line x1="72.20" y1="229.40" x2="75.40" y2="229.40" stroke="#333" stroke-width="0.65"/>
<rect x="34.91" y="247.00" width="34.99" height="8.60" fill="#d6dbdf"/>
<text x="68.80" y="254.13" font-size="7.90" text-anchor="end" fill="#1a1a1a">Dox (7 d)</text>
<line x1="72.20" y1="251.30" x2="75.40" y2="251.30" stroke="#333" stroke-width="0.65"/>
<rect x="4.18" y="261.00" width="34.89" height="8.60" fill="#d6dbdf"/>
<clipPath id="hc5"><rect x="39.07" y="261.00" width="30.83" height="8.60"/></clipPath>
<rect x="39.07" y="261.00" width="30.83" height="8.60" fill="#fff"/>
<path d="M30.50,270.10L36.07,260.50M33.30,270.10L38.87,260.50M36.10,270.10L41.67,260.50M38.90,270.10L44.47,260.50M41.70,270.10L47.27,260.50M44.50,270.10L50.07,260.50M47.30,270.10L52.87,260.50M50.10,270.10L55.67,260.50M52.90,270.10L58.47,260.50M55.70,270.10L61.27,260.50M58.50,270.10L64.07,260.50M61.30,270.10L66.87,260.50M64.10,270.10L69.67,260.50M66.90,270.10L72.47,260.50M69.70,270.10L75.27,260.50" stroke="#c6cfd5" stroke-width="1.2" fill="none" clip-path="url(#hc5)"/>
<text x="68.80" y="268.13" font-size="7.90" text-anchor="end" fill="#1a1a1a">Dox (7 d) wo (7 d)</text>
<line x1="72.20" y1="265.30" x2="75.40" y2="265.30" stroke="#333" stroke-width="0.65"/>
<rect x="30.52" y="282.70" width="39.38" height="8.60" fill="#d6dbdf"/>
<text x="68.80" y="289.83" font-size="7.90" text-anchor="end" fill="#1a1a1a">Dox (14 d)</text>
<line x1="72.20" y1="287.00" x2="75.40" y2="287.00" stroke="#333" stroke-width="0.65"/>
<rect x="-0.21" y="297.00" width="39.28" height="8.60" fill="#d6dbdf"/>
<clipPath id="hc6"><rect x="39.07" y="297.00" width="30.83" height="8.60"/></clipPath>
<rect x="39.07" y="297.00" width="30.83" height="8.60" fill="#fff"/>
<path d="M30.50,306.10L36.07,296.50M33.30,306.10L38.87,296.50M36.10,306.10L41.67,296.50M38.90,306.10L44.47,296.50M41.70,306.10L47.27,296.50M44.50,306.10L50.07,296.50M47.30,306.10L52.87,296.50M50.10,306.10L55.67,296.50M52.90,306.10L58.47,296.50M55.70,306.10L61.27,296.50M58.50,306.10L64.07,296.50M61.30,306.10L66.87,296.50M64.10,306.10L69.67,296.50M66.90,306.10L72.47,296.50M69.70,306.10L75.27,296.50" stroke="#c6cfd5" stroke-width="1.2" fill="none" clip-path="url(#hc6)"/>
<text x="68.80" y="304.13" font-size="7.90" text-anchor="end" fill="#1a1a1a">Dox (14 d) wo (7 d)</text>
<line x1="72.20" y1="301.30" x2="75.40" y2="301.30" stroke="#333" stroke-width="0.65"/>
<rect x="30.52" y="317.70" width="39.38" height="8.60" fill="#d6dbdf"/>
<text x="68.80" y="324.83" font-size="7.90" text-anchor="end" fill="#1a1a1a">Dox (21 d)</text>
<line x1="72.20" y1="322.00" x2="75.40" y2="322.00" stroke="#333" stroke-width="0.65"/>
<rect x="-0.21" y="333.70" width="39.28" height="8.60" fill="#d6dbdf"/>
<clipPath id="hc7"><rect x="39.07" y="333.70" width="30.83" height="8.60"/></clipPath>
<rect x="39.07" y="333.70" width="30.83" height="8.60" fill="#fff"/>
<path d="M30.50,342.80L36.07,333.20M33.30,342.80L38.87,333.20M36.10,342.80L41.67,333.20M38.90,342.80L44.47,333.20M41.70,342.80L47.27,333.20M44.50,342.80L50.07,333.20M47.30,342.80L52.87,333.20M50.10,342.80L55.67,333.20M52.90,342.80L58.47,333.20M55.70,342.80L61.27,333.20M58.50,342.80L64.07,333.20M61.30,342.80L66.87,333.20M64.10,342.80L69.67,333.20M66.90,342.80L72.47,333.20M69.70,342.80L75.27,333.20" stroke="#c6cfd5" stroke-width="1.2" fill="none" clip-path="url(#hc7)"/>
<text x="68.80" y="340.83" font-size="7.90" text-anchor="end" fill="#1a1a1a">Dox (21 d) wo (7 d)</text>
<line x1="72.20" y1="338.00" x2="75.40" y2="338.00" stroke="#333" stroke-width="0.65"/>
<text x="68.20" y="356.34" font-size="8.20" text-anchor="end" fill="#1a1a1a">Category</text>
<text x="68.20" y="366.74" font-size="8.20" text-anchor="end" fill="#1a1a1a">Gene group</text>
<text transform="translate(79.09,221.4) rotate(-90)" font-size="4.0" fill="#1f1f1f">RP23-109F22.6</text>
<text transform="translate(83.27,221.4) rotate(-90)" font-size="4.0" fill="#1f1f1f">Gpkow</text>
<text transform="translate(87.45,221.4) rotate(-90)" font-size="4.0" fill="#1f1f1f">Ndufb5</text>
<text transform="translate(91.63,221.4) rotate(-90)" font-size="4.0" fill="#1f1f1f">Rbm3</text>
<text transform="translate(95.81,221.4) rotate(-90)" font-size="4.0" fill="#1f1f1f">Cxxk1 E0</text>
<text transform="translate(99.99,221.4) rotate(-90)" font-size="4.0" fill="#1f1f1f">Tfe3</text>
<text transform="translate(104.17,221.4) rotate(-90)" font-size="4.0" fill="#1f1f1f">Gripap1</text>
<text transform="translate(108.35,221.4) rotate(-90)" font-size="4.0" fill="#1f1f1f">Kcnd1</text>
<text transform="translate(112.53,221.4) rotate(-90)" font-size="4.0" fill="#1f1f1f">Otud5</text>
<text transform="translate(116.71,221.4) rotate(-90)" font-size="4.0" fill="#1f1f1f">Pim2</text>
<text transform="translate(120.89,221.4) rotate(-90)" font-size="4.0" fill="#1f1f1f">Slc35a2</text>
<text transform="translate(125.08,221.4) rotate(-90)" font-size="4.0" fill="#1f1f1f">Pqbp1</text>
<text transform="translate(129.26,221.4) rotate(-90)" font-size="4.0" fill="#1f1f1f">Timm17b</text>
<text transform="translate(133.44,221.4) rotate(-90)" font-size="4.0" fill="#1f1f1f">Pcsk1n</text>
<text transform="translate(137.62,221.4) rotate(-90)" font-size="4.0" fill="#1f1f1f">Hdac6</text>
<text transform="translate(141.80,221.4) rotate(-90)" font-size="4.0" fill="#1f1f1f">Suv39h1</text>
<text transform="translate(145.98,221.4) rotate(-90)" font-size="4.0" fill="#1f1f1f">Wdr13</text>
<text transform="translate(150.16,221.4) rotate(-90)" font-size="4.0" fill="#1f1f1f">Rbm10</text>
<text transform="translate(154.34,221.4) rotate(-90)" font-size="4.0" fill="#1f1f1f">Tbc1d25</text>
<text transform="translate(158.52,221.4) rotate(-90)" font-size="4.0" fill="#1f1f1f">Gla</text>
<text transform="translate(162.70,221.4) rotate(-90)" font-size="4.0" fill="#1f1f1f">Porcn</text>
<text transform="translate(166.88,221.4) rotate(-90)" font-size="4.0" fill="#1f1f1f">Ftsj1</text>
<text transform="translate(171.06,221.4) rotate(-90)" font-size="4.0" fill="#1f1f1f">Eras</text>
<text transform="translate(175.24,221.4) rotate(-90)" font-size="4.0" fill="#1f1f1f">Slc38a5</text>
<text transform="translate(179.42,221.4) rotate(-90)" font-size="4.0" fill="#1f1f1f">Ssxb</text>
<text transform="translate(183.60,221.4) rotate(-90)" font-size="4.0" fill="#1f1f1f">Atp6ap2</text>
<text transform="translate(187.78,221.4) rotate(-90)" font-size="4.0" fill="#1f1f1f">1810030O07Rik</text>
<text transform="translate(191.96,221.4) rotate(-90)" font-size="4.0" fill="#1f1f1f">Med14</text>
<text transform="translate(196.14,221.4) rotate(-90)" font-size="4.0" fill="#1f1f1f">Gm14634</text>
<text transform="translate(200.32,221.4) rotate(-90)" font-size="4.0" fill="#1f1f1f">E330420O08Rik</text>
<text transform="translate(204.50,221.4) rotate(-90)" font-size="4.0" fill="#1f1f1f">Usp9x</text>
<text transform="translate(208.68,221.4) rotate(-90)" font-size="4.0" fill="#1f1f1f">Ddx3x</text>
<text transform="translate(212.86,221.4) rotate(-90)" font-size="4.0" fill="#1f1f1f">Fundc1</text>
<text transform="translate(217.05,221.4) rotate(-90)" font-size="4.0" fill="#1f1f1f">Kdm6a</text>
<text transform="translate(221.23,221.4) rotate(-90)" font-size="4.0" fill="#1f1f1f">Gm14539b</text>
<text transform="translate(225.41,221.4) rotate(-90)" font-size="4.0" fill="#1f1f1f">Rps6ka3</text>
<text transform="translate(229.59,221.4) rotate(-90)" font-size="4.0" fill="#1f1f1f">Bcor10</text>
<text transform="translate(233.77,221.4) rotate(-90)" font-size="4.0" fill="#1f1f1f">Uba1</text>
<text transform="translate(237.95,221.4) rotate(-90)" font-size="4.0" fill="#1f1f1f">Cdk16</text>
<text transform="translate(242.13,221.4) rotate(-90)" font-size="4.0" fill="#1f1f1f">Usp11</text>
<text transform="translate(246.31,221.4) rotate(-90)" font-size="4.0" fill="#1f1f1f">Araf</text>
<text transform="translate(250.49,221.4) rotate(-90)" font-size="4.0" fill="#1f1f1f">Cfp</text>
<text transform="translate(254.67,221.4) rotate(-90)" font-size="4.0" fill="#1f1f1f">Elk1</text>
<text transform="translate(258.85,221.4) rotate(-90)" font-size="4.0" fill="#1f1f1f">Uxt</text>
<text transform="translate(263.03,221.4) rotate(-90)" font-size="4.0" fill="#1f1f1f">A230072C01Rik</text>
<text transform="translate(267.21,221.4) rotate(-90)" font-size="4.0" fill="#1f1f1f">Alas2b</text>
<text transform="translate(271.39,221.4) rotate(-90)" font-size="4.0" fill="#1f1f1f">Kdm5c</text>
<text transform="translate(275.57,221.4) rotate(-90)" font-size="4.0" fill="#1f1f1f">Maoa</text>
<text transform="translate(279.75,221.4) rotate(-90)" font-size="4.0" fill="#1f1f1f">Utp14a</text>
<text transform="translate(283.93,221.4) rotate(-90)" font-size="4.0" fill="#1f1f1f">Kif4</text>
<text transform="translate(288.11,221.4) rotate(-90)" font-size="4.0" fill="#1f1f1f">Rragb1</text>
<text transform="translate(292.29,221.4) rotate(-90)" font-size="4.0" fill="#1f1f1f">Slc9a7</text>
<text transform="translate(296.47,221.4) rotate(-90)" font-size="4.0" fill="#1f1f1f">Huwe1</text>
<text transform="translate(300.65,221.4) rotate(-90)" font-size="4.0" fill="#1f1f1f">Ribc1</text>
<text transform="translate(304.83,221.4) rotate(-90)" font-size="4.0" fill="#1f1f1f">Gm145801</text>
<text transform="translate(309.02,221.4) rotate(-90)" font-size="4.0" fill="#1f1f1f">Ophn</text>
<text transform="translate(313.20,221.4) rotate(-90)" font-size="4.0" fill="#1f1f1f">Slc9a9</text>
<text transform="translate(317.38,221.4) rotate(-90)" font-size="4.0" fill="#1f1f1f">Rbm41a</text>
<text transform="translate(321.56,221.4) rotate(-90)" font-size="4.0" fill="#1f1f1f">Atad1</text>
<text transform="translate(325.74,221.4) rotate(-90)" font-size="4.0" fill="#1f1f1f">Rbmx2</text>
<text transform="translate(329.92,221.4) rotate(-90)" font-size="4.0" fill="#1f1f1f">Wbp5o</text>
<text transform="translate(334.10,221.4) rotate(-90)" font-size="4.0" fill="#1f1f1f">Sat1</text>
<text transform="translate(338.28,221.4) rotate(-90)" font-size="4.0" fill="#1f1f1f">Pdzd4</text>
<text transform="translate(342.46,221.4) rotate(-90)" font-size="4.0" fill="#1f1f1f">Arhgap4</text>
<text transform="translate(346.64,221.4) rotate(-90)" font-size="4.0" fill="#1f1f1f">Nxf2a</text>
<text transform="translate(350.82,221.4) rotate(-90)" font-size="4.0" fill="#1f1f1f">Bex2b</text>
<text transform="translate(355.00,221.4) rotate(-90)" font-size="4.0" fill="#1f1f1f">Plp1</text>
<text transform="translate(359.18,221.4) rotate(-90)" font-size="4.0" fill="#1f1f1f">Med12a</text>
<text transform="translate(363.36,221.4) rotate(-90)" font-size="4.0" fill="#1f1f1f">Nkrf</text>
<text transform="translate(367.54,221.4) rotate(-90)" font-size="4.0" fill="#1f1f1f">Zic3</text>
<text transform="translate(371.72,221.4) rotate(-90)" font-size="4.0" fill="#1f1f1f">Rpl39</text>
<text transform="translate(375.90,221.4) rotate(-90)" font-size="4.0" fill="#1f1f1f">Timm8a1</text>
<text transform="translate(380.08,221.4) rotate(-90)" font-size="4.0" fill="#1f1f1f">Btk</text>
<text transform="translate(384.26,221.4) rotate(-90)" font-size="4.0" fill="#1f1f1f">Atp6ap1</text>
<text transform="translate(388.44,221.4) rotate(-90)" font-size="4.0" fill="#1f1f1f">Gdi1</text>
<text transform="translate(392.62,221.4) rotate(-90)" font-size="4.0" fill="#1f1f1f">Atp11c1</text>
<text transform="translate(396.80,221.4) rotate(-90)" font-size="4.0" fill="#1f1f1f">Plxna3</text>
<text transform="translate(400.98,221.4) rotate(-90)" font-size="4.0" fill="#1f1f1f">Lage3</text>
<text transform="translate(405.17,221.4) rotate(-90)" font-size="4.0" fill="#1f1f1f">Ubl4</text>
<text transform="translate(409.35,221.4) rotate(-90)" font-size="4.0" fill="#1f1f1f">Ikbkg</text>
<text transform="translate(413.53,221.4) rotate(-90)" font-size="4.0" fill="#1f1f1f">G6pdx</text>
<text transform="translate(417.71,221.4) rotate(-90)" font-size="4.0" fill="#1f1f1f">Dkc1</text>
<text transform="translate(421.89,221.4) rotate(-90)" font-size="4.0" fill="#1f1f1f">Gm68802</text>
<text transform="translate(426.07,221.4) rotate(-90)" font-size="4.0" fill="#1f1f1f">D5Xert</text>
<text transform="translate(430.25,221.4) rotate(-90)" font-size="4.0" fill="#1f1f1f">Igbp1</text>
<text transform="translate(434.43,221.4) rotate(-90)" font-size="4.0" fill="#1f1f1f">Ercc6</text>
<text transform="translate(438.61,221.4) rotate(-90)" font-size="4.0" fill="#1f1f1f">Ogt1a</text>
<text transform="translate(442.79,221.4) rotate(-90)" font-size="4.0" fill="#1f1f1f">Ace</text>
<text transform="translate(446.97,221.4) rotate(-90)" font-size="4.0" fill="#1f1f1f">Taf</text>
<text transform="translate(451.15,221.4) rotate(-90)" font-size="4.0" fill="#1f1f1f">B230206H07Rik</text>
<text transform="translate(455.33,221.4) rotate(-90)" font-size="4.0" fill="#1f1f1f">Pdzd11</text>
<text transform="translate(459.51,221.4) rotate(-90)" font-size="4.0" fill="#1f1f1f">Magt1</text>
<text transform="translate(463.69,221.4) rotate(-90)" font-size="4.0" fill="#1f1f1f">Cox7b</text>
<text transform="translate(467.87,221.4) rotate(-90)" font-size="4.0" fill="#1f1f1f">Chm1</text>
<text transform="translate(472.05,221.4) rotate(-90)" font-size="4.0" fill="#1f1f1f">Gm6568ps</text>
<text transform="translate(476.23,221.4) rotate(-90)" font-size="4.0" fill="#1f1f1f">Cited</text>
<text transform="translate(480.41,221.4) rotate(-90)" font-size="4.0" fill="#1f1f1f">Cdx4</text>
<text transform="translate(484.59,221.4) rotate(-90)" font-size="4.0" fill="#1f1f1f">Gprasp1</text>
<text transform="translate(488.77,221.4) rotate(-90)" font-size="4.0" fill="#1f1f1f">Armcx5</text>
<text transform="translate(492.95,221.4) rotate(-90)" font-size="4.0" fill="#1f1f1f">Plexn5</text>
<text transform="translate(497.14,221.4) rotate(-90)" font-size="4.0" fill="#1f1f1f">Alg13</text>
<text transform="translate(501.32,221.4) rotate(-90)" font-size="4.0" fill="#1f1f1f">Tmem29</text>
<text transform="translate(505.50,221.4) rotate(-90)" font-size="4.0" fill="#1f1f1f">Hrasl</text>
<text transform="translate(509.68,221.4) rotate(-90)" font-size="4.0" fill="#1f1f1f">Mid2573t</text>
<text transform="translate(513.86,221.4) rotate(-90)" font-size="4.0" fill="#1f1f1f">Mid1</text>
<text transform="translate(518.04,221.4) rotate(-90)" font-size="4.0" fill="#1f1f1f">Sms1b</text>
<text transform="translate(522.22,221.4) rotate(-90)" font-size="4.0" fill="#1f1f1f">Nxm2b</text>
<text transform="translate(526.40,221.4) rotate(-90)" font-size="4.0" fill="#1f1f1f">Kdm5d</text>
<text transform="translate(530.58,221.4) rotate(-90)" font-size="4.0" fill="#1f1f1f">Spin2</text>
<text transform="translate(534.76,221.4) rotate(-90)" font-size="4.0" fill="#1f1f1f">Taz1d</text>
<text transform="translate(538.94,221.4) rotate(-90)" font-size="4.0" fill="#1f1f1f">Prdx4</text>
<text transform="translate(543.12,221.4) rotate(-90)" font-size="4.0" fill="#1f1f1f">Gm15782</text>
<text transform="translate(547.30,221.4) rotate(-90)" font-size="4.0" fill="#1f1f1f">Sytm</text>
<text transform="translate(551.48,221.4) rotate(-90)" font-size="4.0" fill="#1f1f1f">Mbtps2</text>
<text transform="translate(555.66,221.4) rotate(-90)" font-size="4.0" fill="#1f1f1f">Eif1ax</text>
<text transform="translate(559.84,221.4) rotate(-90)" font-size="4.0" fill="#1f1f1f">A830080D01Rik</text>
<text transform="translate(564.02,221.4) rotate(-90)" font-size="4.0" fill="#1f1f1f">Rbbp7</text>
<text transform="translate(568.20,221.4) rotate(-90)" font-size="4.0" fill="#1f1f1f">Txlng</text>
<text transform="translate(572.38,221.4) rotate(-90)" font-size="4.0" fill="#1f1f1f">Syap1</text>
<text transform="translate(576.56,221.4) rotate(-90)" font-size="4.0" fill="#1f1f1f">Ctps2</text>
<text transform="translate(580.74,221.4) rotate(-90)" font-size="4.0" fill="#1f1f1f">Ap1s2</text>
<text transform="translate(584.92,221.4) rotate(-90)" font-size="4.0" fill="#1f1f1f">Zrsr2</text>
<text transform="translate(589.11,221.4) rotate(-90)" font-size="4.0" fill="#1f1f1f">Car5b</text>
<text transform="translate(593.29,221.4) rotate(-90)" font-size="4.0" fill="#1f1f1f">Piga</text>
<text transform="translate(597.47,221.4) rotate(-90)" font-size="4.0" fill="#1f1f1f">Gemin8</text>
<text transform="translate(601.65,221.4) rotate(-90)" font-size="4.0" fill="#1f1f1f">Gpm6b</text>
<text transform="translate(605.83,221.4) rotate(-90)" font-size="4.0" fill="#1f1f1f">Ofd1</text>
<text transform="translate(610.01,221.4) rotate(-90)" font-size="4.0" fill="#1f1f1f">Trappc2</text>
<text transform="translate(614.19,221.4) rotate(-90)" font-size="4.0" fill="#1f1f1f">Rab9</text>
<text transform="translate(618.37,221.4) rotate(-90)" font-size="4.0" fill="#1f1f1f">Tceanc</text>
<text transform="translate(622.55,221.4) rotate(-90)" font-size="4.0" fill="#1f1f1f">Tmsb4x</text>
<text transform="translate(626.73,221.4) rotate(-90)" font-size="4.0" fill="#1f1f1f">Hccs</text>
<text transform="translate(630.91,221.4) rotate(-90)" font-size="4.0" fill="#1f1f1f">BC022960</text>
<rect x="75.20" y="351.10" width="556.40" height="4.50" fill="#a3a3a3" rx="0.8"/>
<rect x="75.50" y="351.50" width="3.98" height="3.70" fill="#c6c6c6"/>
<rect x="79.68" y="351.50" width="3.98" height="3.70" fill="#17602f"/>
<rect x="83.86" y="351.50" width="3.98" height="3.70" fill="#17602f"/>
<rect x="88.04" y="351.50" width="3.98" height="3.70" fill="#17602f"/>
<rect x="92.22" y="351.50" width="3.98" height="3.70" fill="#c6c6c6"/>
<rect x="96.40" y="351.50" width="3.98" height="3.70" fill="#17602f"/>
<rect x="100.58" y="351.50" width="3.98" height="3.70" fill="#17602f"/>
<rect x="104.76" y="351.50" width="3.98" height="3.70" fill="#c6c6c6"/>
<rect x="108.94" y="351.50" width="3.98" height="3.70" fill="#17602f"/>
<rect x="113.12" y="351.50" width="3.98" height="3.70" fill="#c6c6c6"/>
<rect x="117.30" y="351.50" width="3.98" height="3.70" fill="#17602f"/>
<rect x="121.48" y="351.50" width="3.98" height="3.70" fill="#17602f"/>
<rect x="125.67" y="351.50" width="3.98" height="3.70" fill="#17602f"/>
<rect x="129.85" y="351.50" width="3.98" height="3.70" fill="#c6c6c6"/>
<rect x="134.03" y="351.50" width="3.98" height="3.70" fill="#17602f"/>
<rect x="138.21" y="351.50" width="3.98" height="3.70" fill="#17602f"/>
<rect x="142.39" y="351.50" width="3.98" height="3.70" fill="#17602f"/>
<rect x="146.57" y="351.50" width="3.98" height="3.70" fill="#17602f"/>
<rect x="150.75" y="351.50" width="3.98" height="3.70" fill="#17602f"/>
<rect x="154.93" y="351.50" width="3.98" height="3.70" fill="#17602f"/>
<rect x="159.11" y="351.50" width="3.98" height="3.70" fill="#17602f"/>
<rect x="163.29" y="351.50" width="3.98" height="3.70" fill="#17602f"/>
<rect x="167.47" y="351.50" width="3.98" height="3.70" fill="#c6c6c6"/>
<rect x="171.65" y="351.50" width="3.98" height="3.70" fill="#c6c6c6"/>
<rect x="175.83" y="351.50" width="3.98" height="3.70" fill="#c6c6c6"/>
<rect x="180.01" y="351.50" width="3.98" height="3.70" fill="#17602f"/>
<rect x="184.19" y="351.50" width="3.98" height="3.70" fill="#f7a51d"/>
<rect x="188.37" y="351.50" width="3.98" height="3.70" fill="#17602f"/>
<rect x="192.55" y="351.50" width="3.98" height="3.70" fill="#17602f"/>
<rect x="196.73" y="351.50" width="3.98" height="3.70" fill="#c6c6c6"/>
<rect x="200.91" y="351.50" width="3.98" height="3.70" fill="#17602f"/>
<rect x="205.09" y="351.50" width="3.98" height="3.70" fill="#f7a51d"/>
<rect x="209.27" y="351.50" width="3.98" height="3.70" fill="#c6c6c6"/>
<rect x="213.45" y="351.50" width="3.98" height="3.70" fill="#f7a51d"/>
<rect x="217.64" y="351.50" width="3.98" height="3.70" fill="#c6c6c6"/>
<rect x="221.82" y="351.50" width="3.98" height="3.70" fill="#17602f"/>
<rect x="226.00" y="351.50" width="3.98" height="3.70" fill="#c6c6c6"/>
<rect x="230.18" y="351.50" width="3.98" height="3.70" fill="#17602f"/>
<rect x="234.36" y="351.50" width="3.98" height="3.70" fill="#17602f"/>
<rect x="238.54" y="351.50" width="3.98" height="3.70" fill="#17602f"/>
<rect x="242.72" y="351.50" width="3.98" height="3.70" fill="#17602f"/>
<rect x="246.90" y="351.50" width="3.98" height="3.70" fill="#17602f"/>
<rect x="251.08" y="351.50" width="3.98" height="3.70" fill="#c6c6c6"/>
<rect x="255.26" y="351.50" width="3.98" height="3.70" fill="#17602f"/>
<rect x="259.44" y="351.50" width="3.98" height="3.70" fill="#17602f"/>
<rect x="263.62" y="351.50" width="3.98" height="3.70" fill="#c6c6c6"/>
<rect x="267.80" y="351.50" width="3.98" height="3.70" fill="#17602f"/>
<rect x="271.98" y="351.50" width="3.98" height="3.70" fill="#17602f"/>
<rect x="276.16" y="351.50" width="3.98" height="3.70" fill="#f7a51d"/>
<rect x="280.34" y="351.50" width="3.98" height="3.70" fill="#f7a51d"/>
<rect x="284.52" y="351.50" width="3.98" height="3.70" fill="#17602f"/>
<rect x="288.70" y="351.50" width="3.98" height="3.70" fill="#c6c6c6"/>
<rect x="292.88" y="351.50" width="3.98" height="3.70" fill="#c6c6c6"/>
<rect x="297.06" y="351.50" width="3.98" height="3.70" fill="#c6c6c6"/>
<rect x="301.24" y="351.50" width="3.98" height="3.70" fill="#c6c6c6"/>
<rect x="305.42" y="351.50" width="3.98" height="3.70" fill="#17602f"/>
<rect x="309.61" y="351.50" width="3.98" height="3.70" fill="#c6c6c6"/>
<rect x="313.79" y="351.50" width="3.98" height="3.70" fill="#17602f"/>
<rect x="317.97" y="351.50" width="3.98" height="3.70" fill="#c6c6c6"/>
<rect x="322.15" y="351.50" width="3.98" height="3.70" fill="#c6c6c6"/>
<rect x="326.33" y="351.50" width="3.98" height="3.70" fill="#17602f"/>
<rect x="330.51" y="351.50" width="3.98" height="3.70" fill="#17602f"/>
<rect x="334.69" y="351.50" width="3.98" height="3.70" fill="#c6c6c6"/>
<rect x="338.87" y="351.50" width="3.98" height="3.70" fill="#17602f"/>
<rect x="343.05" y="351.50" width="3.98" height="3.70" fill="#17602f"/>
<rect x="347.23" y="351.50" width="3.98" height="3.70" fill="#c6c6c6"/>
<rect x="351.41" y="351.50" width="3.98" height="3.70" fill="#17602f"/>
<rect x="355.59" y="351.50" width="3.98" height="3.70" fill="#17602f"/>
<rect x="359.77" y="351.50" width="3.98" height="3.70" fill="#17602f"/>
<rect x="363.95" y="351.50" width="3.98" height="3.70" fill="#17602f"/>
<rect x="368.13" y="351.50" width="3.98" height="3.70" fill="#17602f"/>
<rect x="372.31" y="351.50" width="3.98" height="3.70" fill="#17602f"/>
<rect x="376.49" y="351.50" width="3.98" height="3.70" fill="#17602f"/>
<rect x="380.67" y="351.50" width="3.98" height="3.70" fill="#c6c6c6"/>
<rect x="384.85" y="351.50" width="3.98" height="3.70" fill="#17602f"/>
<rect x="389.03" y="351.50" width="3.98" height="3.70" fill="#17602f"/>
<rect x="393.21" y="351.50" width="3.98" height="3.70" fill="#17602f"/>
<rect x="397.39" y="351.50" width="3.98" height="3.70" fill="#17602f"/>
<rect x="401.58" y="351.50" width="3.98" height="3.70" fill="#17602f"/>
<rect x="405.76" y="351.50" width="3.98" height="3.70" fill="#17602f"/>
<rect x="409.94" y="351.50" width="3.98" height="3.70" fill="#17602f"/>
<rect x="414.12" y="351.50" width="3.98" height="3.70" fill="#17602f"/>
<rect x="418.30" y="351.50" width="3.98" height="3.70" fill="#c6c6c6"/>
<rect x="422.48" y="351.50" width="3.98" height="3.70" fill="#f7a51d"/>
<rect x="426.66" y="351.50" width="3.98" height="3.70" fill="#17602f"/>
<rect x="430.84" y="351.50" width="3.98" height="3.70" fill="#17602f"/>
<rect x="435.02" y="351.50" width="3.98" height="3.70" fill="#17602f"/>
<rect x="439.20" y="351.50" width="3.98" height="3.70" fill="#f7a51d"/>
<rect x="443.38" y="351.50" width="3.98" height="3.70" fill="#f7a51d"/>
<rect x="447.56" y="351.50" width="3.98" height="3.70" fill="#f7a51d"/>
<rect x="451.74" y="351.50" width="3.98" height="3.70" fill="#f7a51d"/>
<rect x="455.92" y="351.50" width="3.98" height="3.70" fill="#17602f"/>
<rect x="460.10" y="351.50" width="3.98" height="3.70" fill="#c6c6c6"/>
<rect x="464.28" y="351.50" width="3.98" height="3.70" fill="#17602f"/>
<rect x="468.46" y="351.50" width="3.98" height="3.70" fill="#c6c6c6"/>
<rect x="472.64" y="351.50" width="3.98" height="3.70" fill="#c6c6c6"/>
<rect x="476.82" y="351.50" width="3.98" height="3.70" fill="#17602f"/>
<rect x="481.00" y="351.50" width="3.98" height="3.70" fill="#c6c6c6"/>
<rect x="485.18" y="351.50" width="3.98" height="3.70" fill="#17602f"/>
<rect x="489.36" y="351.50" width="3.98" height="3.70" fill="#c6c6c6"/>
<rect x="493.55" y="351.50" width="3.98" height="3.70" fill="#17602f"/>
<rect x="497.73" y="351.50" width="3.98" height="3.70" fill="#f7a51d"/>
<rect x="501.91" y="351.50" width="3.98" height="3.70" fill="#17602f"/>
<rect x="506.09" y="351.50" width="3.98" height="3.70" fill="#c6c6c6"/>
<rect x="510.27" y="351.50" width="3.98" height="3.70" fill="#17602f"/>
<rect x="514.45" y="351.50" width="3.98" height="3.70" fill="#17602f"/>
<rect x="518.63" y="351.50" width="3.98" height="3.70" fill="#c6c6c6"/>
<rect x="522.81" y="351.50" width="3.98" height="3.70" fill="#f7a51d"/>
<rect x="526.99" y="351.50" width="3.98" height="3.70" fill="#c6c6c6"/>
<rect x="531.17" y="351.50" width="3.98" height="3.70" fill="#c6c6c6"/>
<rect x="535.35" y="351.50" width="3.98" height="3.70" fill="#c6c6c6"/>
<rect x="539.53" y="351.50" width="3.98" height="3.70" fill="#c6c6c6"/>
<rect x="543.71" y="351.50" width="3.98" height="3.70" fill="#17602f"/>
<rect x="547.89" y="351.50" width="3.98" height="3.70" fill="#17602f"/>
<rect x="552.07" y="351.50" width="3.98" height="3.70" fill="#17602f"/>
<rect x="556.25" y="351.50" width="3.98" height="3.70" fill="#c6c6c6"/>
<rect x="560.43" y="351.50" width="3.98" height="3.70" fill="#17602f"/>
<rect x="564.61" y="351.50" width="3.98" height="3.70" fill="#17602f"/>
<rect x="568.79" y="351.50" width="3.98" height="3.70" fill="#17602f"/>
<rect x="572.97" y="351.50" width="3.98" height="3.70" fill="#17602f"/>
<rect x="577.15" y="351.50" width="3.98" height="3.70" fill="#17602f"/>
<rect x="581.33" y="351.50" width="3.98" height="3.70" fill="#17602f"/>
<rect x="585.52" y="351.50" width="3.98" height="3.70" fill="#17602f"/>
<rect x="589.70" y="351.50" width="3.98" height="3.70" fill="#17602f"/>
<rect x="593.88" y="351.50" width="3.98" height="3.70" fill="#17602f"/>
<rect x="598.06" y="351.50" width="3.98" height="3.70" fill="#17602f"/>
<rect x="602.24" y="351.50" width="3.98" height="3.70" fill="#17602f"/>
<rect x="606.42" y="351.50" width="3.98" height="3.70" fill="#17602f"/>
<rect x="610.60" y="351.50" width="3.98" height="3.70" fill="#17602f"/>
<rect x="614.78" y="351.50" width="3.98" height="3.70" fill="#17602f"/>
<rect x="618.96" y="351.50" width="3.98" height="3.70" fill="#17602f"/>
<rect x="623.14" y="351.50" width="3.98" height="3.70" fill="#17602f"/>
<rect x="627.32" y="351.50" width="3.98" height="3.70" fill="#17602f"/>
<rect x="79.78" y="361.35" width="3.93" height="3.50" fill="#b5dc8c"/>
<rect x="83.96" y="361.35" width="3.93" height="3.50" fill="#b5dc8c"/>
<rect x="88.14" y="361.35" width="3.93" height="3.50" fill="#b5dc8c"/>
<rect x="92.32" y="361.35" width="3.93" height="3.50" fill="#b5dc8c"/>
<rect x="96.50" y="361.35" width="3.93" height="3.50" fill="#b5dc8c"/>
<rect x="100.68" y="361.35" width="3.93" height="3.50" fill="#b5dc8c"/>
<rect x="104.86" y="361.35" width="3.93" height="3.50" fill="#b5dc8c"/>
<rect x="109.04" y="361.35" width="3.93" height="3.50" fill="#b5dc8c"/>
<rect x="113.22" y="361.35" width="3.93" height="3.50" fill="#b5dc8c"/>
<rect x="117.40" y="361.35" width="3.93" height="3.50" fill="#b5dc8c"/>
<rect x="121.58" y="361.35" width="3.93" height="3.50" fill="#b5dc8c"/>
<rect x="125.77" y="361.35" width="3.93" height="3.50" fill="#b5dc8c"/>
<rect x="129.95" y="361.35" width="3.93" height="3.50" fill="#b5dc8c"/>
<rect x="134.13" y="361.35" width="3.93" height="3.50" fill="#b5dc8c"/>
<rect x="138.31" y="361.35" width="3.93" height="3.50" fill="#e41a23"/>
<rect x="142.49" y="361.35" width="3.93" height="3.50" fill="#e41a23"/>
<rect x="146.67" y="361.35" width="3.93" height="3.50" fill="#e41a23"/>
<rect x="150.85" y="361.35" width="3.93" height="3.50" fill="#e41a23"/>
<rect x="155.03" y="361.35" width="3.93" height="3.50" fill="#e41a23"/>
<rect x="159.21" y="361.35" width="3.93" height="3.50" fill="#e41a23"/>
<rect x="163.39" y="361.35" width="3.93" height="3.50" fill="#e41a23"/>
<rect x="180.11" y="361.35" width="3.93" height="3.50" fill="#fdf08f"/>
<rect x="184.29" y="361.35" width="3.93" height="3.50" fill="#fdf08f"/>
<rect x="188.47" y="361.35" width="3.93" height="3.50" fill="#fdf08f"/>
<rect x="192.65" y="361.35" width="3.93" height="3.50" fill="#fdf08f"/>
<rect x="221.92" y="361.35" width="3.93" height="3.50" fill="#a9d0e6"/>
<rect x="226.10" y="361.35" width="3.93" height="3.50" fill="#a9d0e6"/>
<rect x="230.28" y="361.35" width="3.93" height="3.50" fill="#a9d0e6"/>
<rect x="234.46" y="361.35" width="3.93" height="3.50" fill="#a9d0e6"/>
<rect x="238.64" y="361.35" width="3.93" height="3.50" fill="#a9d0e6"/>
<rect x="242.82" y="361.35" width="3.93" height="3.50" fill="#a9d0e6"/>
<rect x="247.00" y="361.35" width="3.93" height="3.50" fill="#2278b8"/>
<rect x="251.18" y="361.35" width="3.93" height="3.50" fill="#2278b8"/>
<rect x="255.36" y="361.35" width="3.93" height="3.50" fill="#2278b8"/>
<rect x="309.71" y="361.35" width="3.93" height="3.50" fill="#35a345"/>
<rect x="313.89" y="361.35" width="3.93" height="3.50" fill="#35a345"/>
<rect x="318.07" y="361.35" width="3.93" height="3.50" fill="#35a345"/>
<rect x="322.25" y="361.35" width="3.93" height="3.50" fill="#35a345"/>
<rect x="326.43" y="361.35" width="3.93" height="3.50" fill="#35a345"/>
<rect x="330.61" y="361.35" width="3.93" height="3.50" fill="#35a345"/>
<rect x="334.79" y="361.35" width="3.93" height="3.50" fill="#35a345"/>
<rect x="338.97" y="361.35" width="3.93" height="3.50" fill="#35a345"/>
<rect x="343.15" y="361.35" width="3.93" height="3.50" fill="#35a345"/>
<rect x="347.33" y="361.35" width="3.93" height="3.50" fill="#35a345"/>
<rect x="351.51" y="361.35" width="3.93" height="3.50" fill="#35a345"/>
<rect x="355.69" y="361.35" width="3.93" height="3.50" fill="#35a345"/>
<rect x="359.87" y="361.35" width="3.93" height="3.50" fill="#f7a1a4"/>
<rect x="364.05" y="361.35" width="3.93" height="3.50" fill="#f7a1a4"/>
<rect x="368.23" y="361.35" width="3.93" height="3.50" fill="#f7a1a4"/>
<rect x="372.41" y="361.35" width="3.93" height="3.50" fill="#f7a1a4"/>
<rect x="376.59" y="361.35" width="3.93" height="3.50" fill="#f7a1a4"/>
<rect x="380.77" y="361.35" width="3.93" height="3.50" fill="#f7a1a4"/>
<rect x="384.95" y="361.35" width="3.93" height="3.50" fill="#f7a1a4"/>
<rect x="389.13" y="361.35" width="3.93" height="3.50" fill="#f7a1a4"/>
<rect x="393.31" y="361.35" width="3.93" height="3.50" fill="#f7a1a4"/>
<rect x="397.49" y="361.35" width="3.93" height="3.50" fill="#f7a1a4"/>
<rect x="401.68" y="361.35" width="3.93" height="3.50" fill="#f7a1a4"/>
<rect x="405.86" y="361.35" width="3.93" height="3.50" fill="#f7a1a4"/>
<rect x="410.04" y="361.35" width="3.93" height="3.50" fill="#f7a1a4"/>
<rect x="506.19" y="361.35" width="3.93" height="3.50" fill="#fdbf70"/>
<rect x="510.37" y="361.35" width="3.93" height="3.50" fill="#fdbf70"/>
<rect x="514.55" y="361.35" width="3.93" height="3.50" fill="#fdbf70"/>
<rect x="518.73" y="361.35" width="3.93" height="3.50" fill="#ee7f1c"/>
<rect x="522.91" y="361.35" width="3.93" height="3.50" fill="#ee7f1c"/>
<rect x="527.09" y="361.35" width="3.93" height="3.50" fill="#ee7f1c"/>
<rect x="531.27" y="361.35" width="3.93" height="3.50" fill="#ee7f1c"/>
<rect x="560.53" y="361.35" width="3.93" height="3.50" fill="#cdb5dc"/>
<rect x="564.71" y="361.35" width="3.93" height="3.50" fill="#cdb5dc"/>
<rect x="568.89" y="361.35" width="3.93" height="3.50" fill="#cdb5dc"/>
<rect x="573.07" y="361.35" width="3.93" height="3.50" fill="#cdb5dc"/>
<rect x="602.34" y="361.35" width="3.93" height="3.50" fill="#6a3f9e"/>
<rect x="606.52" y="361.35" width="3.93" height="3.50" fill="#6a3f9e"/>
<rect x="610.70" y="361.35" width="3.93" height="3.50" fill="#6a3f9e"/>
<rect x="614.88" y="361.35" width="3.93" height="3.50" fill="#6a3f9e"/>
<text x="108.00" y="375.98" font-size="8.60" text-anchor="middle" fill="#1a1a1a">1</text>
<text x="151.80" y="375.98" font-size="8.60" text-anchor="middle" fill="#1a1a1a">2</text>
<text x="188.70" y="375.98" font-size="8.60" text-anchor="middle" fill="#1a1a1a">3</text>
<text x="237.00" y="375.98" font-size="8.60" text-anchor="middle" fill="#1a1a1a">4</text>
<text x="253.80" y="375.98" font-size="8.60" text-anchor="middle" fill="#1a1a1a">5</text>
<text x="335.30" y="375.98" font-size="8.60" text-anchor="middle" fill="#1a1a1a">6</text>
<text x="384.90" y="375.98" font-size="8.60" text-anchor="middle" fill="#1a1a1a">7</text>
<text x="514.90" y="375.98" font-size="8.60" text-anchor="middle" fill="#1a1a1a">8</text>
<text x="528.40" y="375.98" font-size="8.60" text-anchor="middle" fill="#1a1a1a">9</text>
<text x="569.10" y="375.98" font-size="8.60" text-anchor="middle" fill="#1a1a1a">10</text>
<text x="611.00" y="375.98" font-size="8.60" text-anchor="middle" fill="#1a1a1a">11</text>
<text x="638.00" y="248.44" font-size="8.50" text-anchor="start" fill="#1a1a1a" textLength="44.50" lengthAdjust="spacingAndGlyphs">Allelic ratio</text>
<rect x="648.00" y="257.00" width="5.10" height="24.20" fill="url(#cbar)" rx="0.8"/>
<text x="656.00" y="260.11" font-size="7.00" text-anchor="start" fill="#1a1a1a">1.00</text>
<text x="656.00" y="271.81" font-size="7.00" text-anchor="start" fill="#1a1a1a">0.50</text>
<text x="656.00" y="283.31" font-size="7.00" text-anchor="start" fill="#1a1a1a">0</text>
<rect x="635.20" y="342.30" width="3.80" height="3.80" fill="#17602f"/>
<text x="641.80" y="346.88" font-size="7.50" text-anchor="start" fill="#1a1a1a" textLength="36.90" lengthAdjust="spacingAndGlyphs">Facultative</text>
<rect x="635.20" y="351.10" width="3.80" height="3.80" fill="#f7a51d"/>
<text x="641.80" y="355.69" font-size="7.50" text-anchor="start" fill="#1a1a1a" textLength="40.90" lengthAdjust="spacingAndGlyphs">Constitutive</text>
<rect x="635.20" y="359.60" width="3.80" height="3.80" fill="#c6c6c6"/>
<text x="641.80" y="364.19" font-size="7.50" text-anchor="start" fill="#1a1a1a" textLength="44.20" lengthAdjust="spacingAndGlyphs">NPC-specific</text>
<rect x="51.60" y="415.50" width="164.80" height="158.70" fill="#fff" stroke="#7a7a7a" stroke-width="0.85"/>
<line x1="69.70" y1="472.30" x2="69.70" y2="477.30" stroke="#666" stroke-width="0.65"/>
<line x1="69.70" y1="494.30" x2="69.70" y2="506.70" stroke="#666" stroke-width="0.65"/>
<rect x="64.00" y="477.30" width="11.40" height="17.00" fill="#f5a21b" stroke="#b57a14" stroke-width="0.5"/>
<line x1="64.00" y1="479.80" x2="75.40" y2="479.80" stroke="#7a5410" stroke-width="0.9"/>
<line x1="82.70" y1="422.70" x2="82.70" y2="473.00" stroke="#666" stroke-width="0.65"/>
<line x1="82.70" y1="513.00" x2="82.70" y2="565.00" stroke="#666" stroke-width="0.65"/>
<rect x="77.00" y="473.00" width="11.40" height="40.00" fill="#17602f" stroke="#114a24" stroke-width="0.5"/>
<line x1="77.00" y1="482.30" x2="88.40" y2="482.30" stroke="#0c2e17" stroke-width="0.9"/>
<line x1="95.70" y1="455.00" x2="95.70" y2="498.70" stroke="#666" stroke-width="0.65"/>
<line x1="95.70" y1="546.30" x2="95.70" y2="564.00" stroke="#666" stroke-width="0.65"/>
<rect x="90.00" y="498.70" width="11.40" height="47.60" fill="#bfbfbf" stroke="#8c8c8c" stroke-width="0.5"/>
<line x1="90.00" y1="522.00" x2="101.40" y2="522.00" stroke="#555" stroke-width="0.9"/>
<line x1="121.30" y1="445.00" x2="121.30" y2="476.70" stroke="#666" stroke-width="0.65"/>
<line x1="121.30" y1="516.30" x2="121.30" y2="562.70" stroke="#666" stroke-width="0.65"/>
<rect x="115.60" y="476.70" width="11.40" height="39.60" fill="#f5a21b" stroke="#b57a14" stroke-width="0.5"/>
<line x1="115.60" y1="492.00" x2="127.00" y2="492.00" stroke="#7a5410" stroke-width="0.9"/>
<line x1="134.25" y1="455.00" x2="134.25" y2="487.70" stroke="#666" stroke-width="0.65"/>
<line x1="134.25" y1="558.30" x2="134.25" y2="566.70" stroke="#666" stroke-width="0.65"/>
<rect x="128.60" y="487.70" width="11.30" height="70.60" fill="#17602f" stroke="#114a24" stroke-width="0.5"/>
<line x1="128.60" y1="515.00" x2="139.90" y2="515.00" stroke="#0c2e17" stroke-width="0.9"/>
<line x1="147.20" y1="487.70" x2="147.20" y2="529.30" stroke="#666" stroke-width="0.65"/>
<line x1="147.20" y1="562.70" x2="147.20" y2="566.70" stroke="#666" stroke-width="0.65"/>
<rect x="141.50" y="529.30" width="11.40" height="33.40" fill="#bfbfbf" stroke="#8c8c8c" stroke-width="0.5"/>
<line x1="141.50" y1="558.30" x2="152.90" y2="558.30" stroke="#555" stroke-width="0.9"/>
<line x1="172.70" y1="461.00" x2="172.70" y2="470.30" stroke="#666" stroke-width="0.65"/>
<line x1="172.70" y1="509.30" x2="172.70" y2="558.70" stroke="#666" stroke-width="0.65"/>
<rect x="167.00" y="470.30" width="11.40" height="39.00" fill="#f5a21b" stroke="#b57a14" stroke-width="0.5"/>
<line x1="167.00" y1="482.00" x2="178.40" y2="482.00" stroke="#7a5410" stroke-width="0.9"/>
<line x1="185.70" y1="478.30" x2="185.70" y2="508.00" stroke="#666" stroke-width="0.65"/>
<line x1="185.70" y1="558.30" x2="185.70" y2="566.30" stroke="#666" stroke-width="0.65"/>
<rect x="180.00" y="508.00" width="11.40" height="50.30" fill="#17602f" stroke="#114a24" stroke-width="0.5"/>
<line x1="180.00" y1="530.30" x2="191.40" y2="530.30" stroke="#0c2e17" stroke-width="0.9"/>
<line x1="198.70" y1="513.30" x2="198.70" y2="540.30" stroke="#666" stroke-width="0.65"/>
<line x1="198.70" y1="562.30" x2="198.70" y2="566.30" stroke="#666" stroke-width="0.65"/>
<rect x="193.00" y="540.30" width="11.40" height="22.00" fill="#bfbfbf" stroke="#8c8c8c" stroke-width="0.5"/>
<line x1="193.00" y1="557.30" x2="204.40" y2="557.30" stroke="#555" stroke-width="0.9"/>
<circle cx="147.20" cy="450.70" r="0.60" fill="#333"/>
<circle cx="147.20" cy="453.70" r="0.60" fill="#333"/>
<circle cx="147.20" cy="456.70" r="0.60" fill="#333"/>
<circle cx="147.20" cy="459.70" r="0.60" fill="#333"/>
<circle cx="147.20" cy="468.30" r="0.60" fill="#333"/>
<circle cx="198.70" cy="459.70" r="0.85" fill="#111"/>
<circle cx="198.70" cy="481.70" r="0.62" fill="#222"/>
<circle cx="198.70" cy="490.30" r="0.62" fill="#222"/>
<circle cx="198.70" cy="497.70" r="0.62" fill="#222"/>
<line x1="48.10" y1="416.30" x2="51.60" y2="416.30" stroke="#6a6a6a" stroke-width="0.6"/>
<text x="44.50" y="418.88" font-size="7.20" text-anchor="end" fill="#333">1.5</text>
<line x1="48.10" y1="466.50" x2="51.60" y2="466.50" stroke="#6a6a6a" stroke-width="0.6"/>
<text x="44.50" y="469.08" font-size="7.20" text-anchor="end" fill="#333">1.0</text>
<line x1="48.10" y1="516.70" x2="51.60" y2="516.70" stroke="#6a6a6a" stroke-width="0.6"/>
<text x="44.50" y="519.28" font-size="7.20" text-anchor="end" fill="#333">0.5</text>
<line x1="48.10" y1="567.00" x2="51.60" y2="567.00" stroke="#6a6a6a" stroke-width="0.6"/>
<text x="44.50" y="569.58" font-size="7.20" text-anchor="end" fill="#333">0</text>
<line x1="82.20" y1="574.20" x2="82.20" y2="577.70" stroke="#6a6a6a" stroke-width="0.6"/>
<text x="78.70" y="587.71" font-size="8.40" text-anchor="middle" fill="#1a1a1a">Dox (7 d)</text>
<line x1="134.30" y1="574.20" x2="134.30" y2="577.70" stroke="#6a6a6a" stroke-width="0.6"/>
<text x="131.40" y="587.71" font-size="8.40" text-anchor="middle" fill="#1a1a1a">Dox (14 d)</text>
<line x1="185.60" y1="574.20" x2="185.60" y2="577.70" stroke="#6a6a6a" stroke-width="0.6"/>
<text x="185.60" y="587.71" font-size="8.40" text-anchor="middle" fill="#1a1a1a">Dox (21 d)</text>
<text transform="translate(13.90,495.00) rotate(-90)" x="0" y="2.97" font-size="8.30" text-anchor="middle" fill="#222" textLength="47.50" lengthAdjust="spacingAndGlyphs">Reversibility</text>
<text transform="translate(24.30,495.20) rotate(-90)" x="0" y="2.97" font-size="8.30" text-anchor="middle" fill="#222" textLength="119.50" lengthAdjust="spacingAndGlyphs">(allelic ratio washout/control)</text>
<rect x="50.30" y="405.40" width="5.20" height="5.20" fill="#17602f" stroke="#0c2e17" stroke-width="0.5"/>
<text x="61.30" y="410.69" font-size="7.50" text-anchor="start" fill="#1a1a1a" textLength="36.50" lengthAdjust="spacingAndGlyphs">Facultative</text>
<rect x="107.80" y="405.40" width="5.20" height="5.20" fill="#f5a21b" stroke="#8a5d10" stroke-width="0.5"/>
<text x="118.80" y="410.69" font-size="7.50" text-anchor="start" fill="#1a1a1a" textLength="40.90" lengthAdjust="spacingAndGlyphs">Constitutive</text>
<rect x="167.70" y="405.40" width="5.20" height="5.20" fill="#bfbfbf" stroke="#777" stroke-width="0.5"/>
<text x="178.70" y="410.69" font-size="7.50" text-anchor="start" fill="#1a1a1a" textLength="43.80" lengthAdjust="spacingAndGlyphs">NPC-specific</text>
<rect x="299.10" y="396.10" width="5.40" height="5.40" fill="#a9d45c" stroke="#555" stroke-width="0.5"/>
<text x="309.75" y="401.44" font-size="7.50" text-anchor="start" fill="#1a1a1a" textLength="37.70" lengthAdjust="spacingAndGlyphs">Irreversible</text>
<rect x="299.10" y="407.10" width="5.40" height="5.40" fill="#b35c92" stroke="#555" stroke-width="0.5"/>
<text x="309.75" y="412.44" font-size="7.50" text-anchor="start" fill="#1a1a1a" textLength="67.00" lengthAdjust="spacingAndGlyphs">Partially irreversible</text>
<rect x="299.10" y="418.20" width="5.40" height="5.40" fill="#fbcdd0" stroke="#555" stroke-width="0.5"/>
<text x="309.75" y="423.54" font-size="7.50" text-anchor="start" fill="#1a1a1a" textLength="35.30" lengthAdjust="spacingAndGlyphs">Reversible</text>
<rect x="291.00" y="427.40" width="105.70" height="34.15" fill="#fff" stroke="#8a8a8a" stroke-width="0.85"/>
<rect x="295.30" y="430.80" width="97.68" height="7.60" fill="#a9d45c"/>
<rect x="295.30" y="430.80" width="89.54" height="7.60" fill="#b35c92"/>
<rect x="295.30" y="430.80" width="89.54" height="7.60" fill="#fbcdd0"/>
<rect x="295.30" y="430.80" width="97.68" height="7.60" fill="none" stroke="#5a4a4a" stroke-width="0.55"/>
<line x1="384.84" y1="430.80" x2="384.84" y2="438.40" stroke="#5a4a4a" stroke-width="0.5"/>
<line x1="287.40" y1="434.60" x2="291.00" y2="434.60" stroke="#6a6a6a" stroke-width="0.6"/>
<text x="283.40" y="437.66" font-size="8.55" text-anchor="end" fill="#1a1a1a">Dox (7 d)</text>
<rect x="295.30" y="440.70" width="97.68" height="7.60" fill="#a9d45c"/>
<rect x="295.30" y="440.70" width="81.40" height="7.60" fill="#b35c92"/>
<rect x="295.30" y="440.70" width="73.26" height="7.60" fill="#fbcdd0"/>
<rect x="295.30" y="440.70" width="97.68" height="7.60" fill="none" stroke="#5a4a4a" stroke-width="0.55"/>
<line x1="368.56" y1="440.70" x2="368.56" y2="448.30" stroke="#5a4a4a" stroke-width="0.5"/>
<line x1="376.70" y1="440.70" x2="376.70" y2="448.30" stroke="#5a4a4a" stroke-width="0.5"/>
<line x1="287.40" y1="444.50" x2="291.00" y2="444.50" stroke="#6a6a6a" stroke-width="0.6"/>
<text x="283.40" y="447.56" font-size="8.55" text-anchor="end" fill="#1a1a1a">Dox (14 d)</text>
<rect x="295.30" y="450.60" width="97.68" height="7.60" fill="#a9d45c"/>
<rect x="295.30" y="450.60" width="81.40" height="7.60" fill="#b35c92"/>
<rect x="295.30" y="450.60" width="65.12" height="7.60" fill="#fbcdd0"/>
<rect x="295.30" y="450.60" width="97.68" height="7.60" fill="none" stroke="#5a4a4a" stroke-width="0.55"/>
<line x1="360.42" y1="450.60" x2="360.42" y2="458.20" stroke="#5a4a4a" stroke-width="0.5"/>
<line x1="376.70" y1="450.60" x2="376.70" y2="458.20" stroke="#5a4a4a" stroke-width="0.5"/>
<line x1="287.40" y1="454.40" x2="291.00" y2="454.40" stroke="#6a6a6a" stroke-width="0.6"/>
<text x="283.40" y="457.46" font-size="8.55" text-anchor="end" fill="#1a1a1a">Dox (21 d)</text>
<line x1="295.40" y1="461.55" x2="295.40" y2="465.15" stroke="#6a6a6a" stroke-width="0.6"/>
<text x="295.40" y="474.83" font-size="7.20" text-anchor="middle" fill="#333">0</text>
<line x1="336.10" y1="461.55" x2="336.10" y2="465.15" stroke="#6a6a6a" stroke-width="0.6"/>
<text x="336.10" y="474.83" font-size="7.20" text-anchor="middle" fill="#333">5.0</text>
<line x1="376.80" y1="461.55" x2="376.80" y2="465.15" stroke="#6a6a6a" stroke-width="0.6"/>
<text x="376.80" y="474.83" font-size="7.20" text-anchor="middle" fill="#333">10.0</text>
<text transform="translate(403.80,444.48) rotate(90)" x="0" y="2.76" font-size="7.70" text-anchor="middle" fill="#222">Constitutive</text>
<rect x="291.00" y="480.40" width="105.70" height="34.15" fill="#fff" stroke="#8a8a8a" stroke-width="0.85"/>
<rect x="295.30" y="483.80" width="97.28" height="7.60" fill="#a9d45c"/>
<rect x="295.30" y="483.80" width="83.30" height="7.60" fill="#b35c92"/>
<rect x="295.30" y="483.80" width="71.88" height="7.60" fill="#fbcdd0"/>
<rect x="295.30" y="483.80" width="97.28" height="7.60" fill="none" stroke="#5a4a4a" stroke-width="0.55"/>
<line x1="367.18" y1="483.80" x2="367.18" y2="491.40" stroke="#5a4a4a" stroke-width="0.5"/>
<line x1="378.60" y1="483.80" x2="378.60" y2="491.40" stroke="#5a4a4a" stroke-width="0.5"/>
<line x1="287.40" y1="487.60" x2="291.00" y2="487.60" stroke="#6a6a6a" stroke-width="0.6"/>
<text x="283.40" y="490.66" font-size="8.55" text-anchor="end" fill="#1a1a1a">Dox (7 d)</text>
<rect x="295.30" y="493.70" width="97.28" height="7.60" fill="#a9d45c"/>
<rect x="295.30" y="493.70" width="62.33" height="7.60" fill="#b35c92"/>
<rect x="295.30" y="493.70" width="48.93" height="7.60" fill="#fbcdd0"/>
<rect x="295.30" y="493.70" width="97.28" height="7.60" fill="none" stroke="#5a4a4a" stroke-width="0.55"/>
<line x1="344.23" y1="493.70" x2="344.23" y2="501.30" stroke="#5a4a4a" stroke-width="0.5"/>
<line x1="357.63" y1="493.70" x2="357.63" y2="501.30" stroke="#5a4a4a" stroke-width="0.5"/>
<line x1="287.40" y1="497.50" x2="291.00" y2="497.50" stroke="#6a6a6a" stroke-width="0.6"/>
<text x="283.40" y="500.56" font-size="8.55" text-anchor="end" fill="#1a1a1a">Dox (14 d)</text>
<rect x="295.30" y="503.60" width="97.28" height="7.60" fill="#a9d45c"/>
<rect x="295.30" y="503.60" width="61.16" height="7.60" fill="#b35c92"/>
<rect x="295.30" y="503.60" width="34.95" height="7.60" fill="#fbcdd0"/>
<rect x="295.30" y="503.60" width="97.28" height="7.60" fill="none" stroke="#5a4a4a" stroke-width="0.55"/>
<line x1="330.25" y1="503.60" x2="330.25" y2="511.20" stroke="#5a4a4a" stroke-width="0.5"/>
<line x1="356.46" y1="503.60" x2="356.46" y2="511.20" stroke="#5a4a4a" stroke-width="0.5"/>
<line x1="287.40" y1="507.40" x2="291.00" y2="507.40" stroke="#6a6a6a" stroke-width="0.6"/>
<text x="283.40" y="510.46" font-size="8.55" text-anchor="end" fill="#1a1a1a">Dox (21 d)</text>
<line x1="295.40" y1="514.55" x2="295.40" y2="518.15" stroke="#6a6a6a" stroke-width="0.6"/>
<text x="295.40" y="527.83" font-size="7.20" text-anchor="middle" fill="#333">0</text>
<line x1="318.70" y1="514.55" x2="318.70" y2="518.15" stroke="#6a6a6a" stroke-width="0.6"/>
<text x="318.70" y="527.83" font-size="7.20" text-anchor="middle" fill="#333">20</text>
<line x1="342.00" y1="514.55" x2="342.00" y2="518.15" stroke="#6a6a6a" stroke-width="0.6"/>
<text x="342.00" y="527.83" font-size="7.20" text-anchor="middle" fill="#333">40</text>
<line x1="365.30" y1="514.55" x2="365.30" y2="518.15" stroke="#6a6a6a" stroke-width="0.6"/>
<text x="365.30" y="527.83" font-size="7.20" text-anchor="middle" fill="#333">60</text>
<line x1="388.60" y1="514.55" x2="388.60" y2="518.15" stroke="#6a6a6a" stroke-width="0.6"/>
<text x="388.60" y="527.83" font-size="7.20" text-anchor="middle" fill="#333">80</text>
<text transform="translate(403.80,497.47) rotate(90)" x="0" y="2.76" font-size="7.70" text-anchor="middle" fill="#222">Facultative</text>
<rect x="291.00" y="533.50" width="105.70" height="34.15" fill="#fff" stroke="#8a8a8a" stroke-width="0.85"/>
<rect x="295.30" y="536.90" width="97.12" height="7.60" fill="#a9d45c"/>
<rect x="295.30" y="536.90" width="52.50" height="7.60" fill="#b35c92"/>
<rect x="295.30" y="536.90" width="26.25" height="7.60" fill="#fbcdd0"/>
<rect x="295.30" y="536.90" width="97.12" height="7.60" fill="none" stroke="#5a4a4a" stroke-width="0.55"/>
<line x1="321.55" y1="536.90" x2="321.55" y2="544.50" stroke="#5a4a4a" stroke-width="0.5"/>
<line x1="347.80" y1="536.90" x2="347.80" y2="544.50" stroke="#5a4a4a" stroke-width="0.5"/>
<line x1="287.40" y1="540.70" x2="291.00" y2="540.70" stroke="#6a6a6a" stroke-width="0.6"/>
<text x="283.40" y="543.76" font-size="8.55" text-anchor="end" fill="#1a1a1a">Dox (7 d)</text>
<rect x="295.30" y="546.80" width="97.12" height="7.60" fill="#a9d45c"/>
<rect x="295.30" y="546.80" width="31.50" height="7.60" fill="#b35c92"/>
<rect x="295.30" y="546.80" width="18.38" height="7.60" fill="#fbcdd0"/>
<rect x="295.30" y="546.80" width="97.12" height="7.60" fill="none" stroke="#5a4a4a" stroke-width="0.55"/>
<line x1="313.68" y1="546.80" x2="313.68" y2="554.40" stroke="#5a4a4a" stroke-width="0.5"/>
<line x1="326.80" y1="546.80" x2="326.80" y2="554.40" stroke="#5a4a4a" stroke-width="0.5"/>
<line x1="287.40" y1="550.60" x2="291.00" y2="550.60" stroke="#6a6a6a" stroke-width="0.6"/>
<text x="283.40" y="553.66" font-size="8.55" text-anchor="end" fill="#1a1a1a">Dox (14 d)</text>
<rect x="295.30" y="556.70" width="97.12" height="7.60" fill="#a9d45c"/>
<rect x="295.30" y="556.70" width="23.62" height="7.60" fill="#b35c92"/>
<rect x="295.30" y="556.70" width="13.12" height="7.60" fill="#fbcdd0"/>
<rect x="295.30" y="556.70" width="97.12" height="7.60" fill="none" stroke="#5a4a4a" stroke-width="0.55"/>
<line x1="308.43" y1="556.70" x2="308.43" y2="564.30" stroke="#5a4a4a" stroke-width="0.5"/>
<line x1="318.93" y1="556.70" x2="318.93" y2="564.30" stroke="#5a4a4a" stroke-width="0.5"/>
<line x1="287.40" y1="560.50" x2="291.00" y2="560.50" stroke="#6a6a6a" stroke-width="0.6"/>
<text x="283.40" y="563.56" font-size="8.55" text-anchor="end" fill="#1a1a1a">Dox (21 d)</text>
<line x1="295.40" y1="567.65" x2="295.40" y2="571.25" stroke="#6a6a6a" stroke-width="0.6"/>
<text x="295.40" y="580.93" font-size="7.20" text-anchor="middle" fill="#333">0</text>
<line x1="321.65" y1="567.65" x2="321.65" y2="571.25" stroke="#6a6a6a" stroke-width="0.6"/>
<text x="321.65" y="580.93" font-size="7.20" text-anchor="middle" fill="#333">10</text>
<line x1="347.90" y1="567.65" x2="347.90" y2="571.25" stroke="#6a6a6a" stroke-width="0.6"/>
<text x="347.90" y="580.93" font-size="7.20" text-anchor="middle" fill="#333">20</text>
<line x1="374.15" y1="567.65" x2="374.15" y2="571.25" stroke="#6a6a6a" stroke-width="0.6"/>
<text x="374.15" y="580.93" font-size="7.20" text-anchor="middle" fill="#333">30</text>
<text transform="translate(403.80,550.58) rotate(90)" x="0" y="2.76" font-size="7.70" text-anchor="middle" fill="#222">NPC-specific</text>
<rect x="461.50" y="410.50" width="195.10" height="158.90" fill="#fff" stroke="#5a5a5a" stroke-width="0.8"/>
<line x1="461.50" y1="494.30" x2="652.80" y2="494.30" stroke="#8f8f8f" stroke-width="0.85" stroke-dasharray="5.6,3.16"/>
<line x1="461.50" y1="549.70" x2="652.80" y2="549.70" stroke="#8f8f8f" stroke-width="0.85" stroke-dasharray="5.6,3.16"/>
<text x="652.80" y="491.97" font-size="7.45" text-anchor="end" fill="#222">Reversible</text>
<text x="652.80" y="547.70" font-size="7.55" text-anchor="end" fill="#222">Partially reversible</text>
<text x="652.80" y="561.72" font-size="7.60" text-anchor="end" fill="#222">Irreversible</text>
<text x="647.8" y="419.7" font-size="6.95" text-anchor="end" fill="#222"><tspan font-style="italic">R</tspan> = 0.5, <tspan font-style="italic">P</tspan> = 5.8 × 10</text>
<text x="648.3" y="416.4" font-size="4.6" fill="#222">−6</text>
<circle cx="513.60" cy="417.50" r="1.75" fill="#c9c9c9" stroke="#333" stroke-width="0.45"/>
<circle cx="519.30" cy="438.70" r="1.75" fill="#c9c9c9" stroke="#333" stroke-width="0.45"/>
<circle cx="519.60" cy="441.50" r="1.75" fill="#c9c9c9" stroke="#333" stroke-width="0.45"/>
<circle cx="553.60" cy="438.40" r="1.75" fill="#c9c9c9" stroke="#333" stroke-width="0.45"/>
<circle cx="563.60" cy="440.10" r="1.75" fill="#c9c9c9" stroke="#333" stroke-width="0.45"/>
<circle cx="545.70" cy="446.10" r="1.75" fill="#c9c9c9" stroke="#333" stroke-width="0.45"/>
<circle cx="498.90" cy="461.10" r="1.75" fill="#c9c9c9" stroke="#333" stroke-width="0.45"/>
<circle cx="504.30" cy="462.50" r="1.75" fill="#c9c9c9" stroke="#333" stroke-width="0.45"/>
<circle cx="545.90" cy="477.20" r="1.75" fill="#c9c9c9" stroke="#333" stroke-width="0.45"/>
<circle cx="479.40" cy="480.60" r="1.75" fill="#c9c9c9" stroke="#333" stroke-width="0.45"/>
<circle cx="490.10" cy="484.90" r="1.75" fill="#c9c9c9" stroke="#333" stroke-width="0.45"/>
<circle cx="480.20" cy="503.90" r="1.75" fill="#c9c9c9" stroke="#333" stroke-width="0.45"/>
<circle cx="530.60" cy="503.00" r="1.75" fill="#c9c9c9" stroke="#333" stroke-width="0.45"/>
<circle cx="547.90" cy="511.80" r="1.75" fill="#c9c9c9" stroke="#333" stroke-width="0.45"/>
<circle cx="480.80" cy="520.30" r="1.75" fill="#c9c9c9" stroke="#333" stroke-width="0.45"/>
<circle cx="480.80" cy="526.00" r="1.75" fill="#c9c9c9" stroke="#333" stroke-width="0.45"/>
<circle cx="482.80" cy="529.40" r="1.75" fill="#c9c9c9" stroke="#333" stroke-width="0.45"/>
<circle cx="537.70" cy="536.20" r="1.75" fill="#c9c9c9" stroke="#333" stroke-width="0.45"/>
<circle cx="500.90" cy="545.20" r="1.75" fill="#c9c9c9" stroke="#333" stroke-width="0.45"/>
<circle cx="470.30" cy="550.90" r="1.75" fill="#c9c9c9" stroke="#333" stroke-width="0.45"/>
<circle cx="474.00" cy="550.90" r="1.75" fill="#c9c9c9" stroke="#333" stroke-width="0.45"/>
<circle cx="472.60" cy="553.70" r="1.75" fill="#c9c9c9" stroke="#333" stroke-width="0.45"/>
<circle cx="469.70" cy="556.60" r="1.75" fill="#c9c9c9" stroke="#333" stroke-width="0.45"/>
<circle cx="472.60" cy="558.30" r="1.75" fill="#c9c9c9" stroke="#333" stroke-width="0.45"/>
<circle cx="481.90" cy="556.60" r="1.75" fill="#c9c9c9" stroke="#333" stroke-width="0.45"/>
<circle cx="484.50" cy="557.40" r="1.75" fill="#c9c9c9" stroke="#333" stroke-width="0.45"/>
<circle cx="487.00" cy="559.70" r="1.75" fill="#c9c9c9" stroke="#333" stroke-width="0.45"/>
<circle cx="507.70" cy="561.10" r="1.75" fill="#c9c9c9" stroke="#333" stroke-width="0.45"/>
<circle cx="528.70" cy="558.80" r="1.75" fill="#c9c9c9" stroke="#333" stroke-width="0.45"/>
<circle cx="569.50" cy="558.30" r="1.75" fill="#c9c9c9" stroke="#333" stroke-width="0.45"/>
<circle cx="487.90" cy="522.80" r="1.75" fill="#b5dc8c" stroke="#333" stroke-width="0.45"/>
<circle cx="470.60" cy="543.20" r="1.75" fill="#b5dc8c" stroke="#333" stroke-width="0.45"/>
<circle cx="481.30" cy="544.70" r="1.75" fill="#b5dc8c" stroke="#333" stroke-width="0.45"/>
<circle cx="536.90" cy="549.20" r="1.75" fill="#b5dc8c" stroke="#333" stroke-width="0.45"/>
<circle cx="479.10" cy="553.70" r="1.75" fill="#b5dc8c" stroke="#333" stroke-width="0.45"/>
<circle cx="478.20" cy="558.00" r="1.75" fill="#b5dc8c" stroke="#333" stroke-width="0.45"/>
<circle cx="480.50" cy="558.80" r="1.75" fill="#b5dc8c" stroke="#333" stroke-width="0.45"/>
<circle cx="482.50" cy="558.30" r="1.75" fill="#b5dc8c" stroke="#333" stroke-width="0.45"/>
<circle cx="506.00" cy="557.10" r="1.75" fill="#b5dc8c" stroke="#333" stroke-width="0.45"/>
<circle cx="515.30" cy="556.80" r="1.75" fill="#b5dc8c" stroke="#333" stroke-width="0.45"/>
<circle cx="517.60" cy="558.00" r="1.75" fill="#b5dc8c" stroke="#333" stroke-width="0.45"/>
<circle cx="521.90" cy="555.40" r="1.75" fill="#b5dc8c" stroke="#333" stroke-width="0.45"/>
<circle cx="494.90" cy="491.70" r="1.75" fill="#219a45" stroke="#333" stroke-width="0.45"/>
<circle cx="506.00" cy="496.80" r="1.75" fill="#219a45" stroke="#333" stroke-width="0.45"/>
<circle cx="506.30" cy="528.80" r="1.75" fill="#219a45" stroke="#333" stroke-width="0.45"/>
<circle cx="513.10" cy="528.20" r="1.75" fill="#219a45" stroke="#333" stroke-width="0.45"/>
<circle cx="564.60" cy="518.60" r="1.75" fill="#219a45" stroke="#333" stroke-width="0.45"/>
<circle cx="557.50" cy="551.50" r="1.75" fill="#219a45" stroke="#333" stroke-width="0.45"/>
<circle cx="471.10" cy="562.20" r="1.75" fill="#219a45" stroke="#333" stroke-width="0.45"/>
<circle cx="496.10" cy="560.50" r="1.75" fill="#219a45" stroke="#333" stroke-width="0.45"/>
<circle cx="496.90" cy="560.80" r="1.75" fill="#219a45" stroke="#333" stroke-width="0.45"/>
<circle cx="508.80" cy="554.90" r="1.75" fill="#219a45" stroke="#333" stroke-width="0.45"/>
<circle cx="493.00" cy="486.30" r="1.75" fill="#f7a1a4" stroke="#333" stroke-width="0.45"/>
<circle cx="493.20" cy="489.40" r="1.75" fill="#f7a1a4" stroke="#333" stroke-width="0.45"/>
<circle cx="510.80" cy="498.50" r="1.75" fill="#f7a1a4" stroke="#333" stroke-width="0.45"/>
<circle cx="515.60" cy="509.00" r="1.75" fill="#f7a1a4" stroke="#333" stroke-width="0.45"/>
<circle cx="560.90" cy="507.00" r="1.75" fill="#f7a1a4" stroke="#333" stroke-width="0.45"/>
<circle cx="554.20" cy="518.60" r="1.75" fill="#f7a1a4" stroke="#333" stroke-width="0.45"/>
<circle cx="570.50" cy="496.40" r="1.75" fill="#f7a1a4" stroke="#333" stroke-width="0.45"/>
<circle cx="648.10" cy="458.80" r="1.75" fill="#f7a1a4" stroke="#333" stroke-width="0.45"/>
<circle cx="582.70" cy="490.60" r="1.75" fill="#f7a1a4" stroke="#333" stroke-width="0.45"/>
<circle cx="589.50" cy="488.90" r="1.75" fill="#f7a1a4" stroke="#333" stroke-width="0.45"/>
<circle cx="585.80" cy="497.60" r="1.75" fill="#f7a1a4" stroke="#333" stroke-width="0.45"/>
<circle cx="594.30" cy="493.70" r="1.75" fill="#f7a1a4" stroke="#333" stroke-width="0.45"/>
<circle cx="606.70" cy="541.00" r="1.75" fill="#f7a1a4" stroke="#333" stroke-width="0.45"/>
<circle cx="591.20" cy="476.10" r="1.75" fill="#5a2d9c" stroke="#333" stroke-width="0.45"/>
<circle cx="616.70" cy="462.80" r="1.75" fill="#5a2d9c" stroke="#333" stroke-width="0.45"/>
<circle cx="618.40" cy="463.90" r="1.75" fill="#5a2d9c" stroke="#333" stroke-width="0.45"/>
<circle cx="627.70" cy="455.70" r="1.75" fill="#5a2d9c" stroke="#333" stroke-width="0.45"/>
<line x1="463.10" y1="569.40" x2="463.10" y2="573.40" stroke="#5a5a5a" stroke-width="0.6"/>
<text x="463.10" y="583.11" font-size="7.30" text-anchor="middle" fill="#333">0</text>
<line x1="509.20" y1="569.40" x2="509.20" y2="573.40" stroke="#5a5a5a" stroke-width="0.6"/>
<text x="509.20" y="583.11" font-size="7.30" text-anchor="middle" fill="#333">2.5</text>
<line x1="555.30" y1="569.40" x2="555.30" y2="573.40" stroke="#5a5a5a" stroke-width="0.6"/>
<text x="555.30" y="583.11" font-size="7.30" text-anchor="middle" fill="#333">5.0</text>
<line x1="601.80" y1="569.40" x2="601.80" y2="573.40" stroke="#5a5a5a" stroke-width="0.6"/>
<text x="601.80" y="583.11" font-size="7.30" text-anchor="middle" fill="#333">7.5</text>
<line x1="648.50" y1="569.40" x2="648.50" y2="573.40" stroke="#5a5a5a" stroke-width="0.6"/>
<text x="648.50" y="583.11" font-size="7.30" text-anchor="middle" fill="#333">10.0</text>
<line x1="457.50" y1="564.10" x2="461.50" y2="564.10" stroke="#5a5a5a" stroke-width="0.6"/>
<text x="453.50" y="566.71" font-size="7.30" text-anchor="end" fill="#333">0</text>
<line x1="457.50" y1="523.10" x2="461.50" y2="523.10" stroke="#5a5a5a" stroke-width="0.6"/>
<text x="453.50" y="525.71" font-size="7.30" text-anchor="end" fill="#333">0.3</text>
<line x1="457.50" y1="482.10" x2="461.50" y2="482.10" stroke="#5a5a5a" stroke-width="0.6"/>
<text x="453.50" y="484.71" font-size="7.30" text-anchor="end" fill="#333">0.6</text>
<line x1="457.50" y1="441.50" x2="461.50" y2="441.50" stroke="#5a5a5a" stroke-width="0.6"/>
<text x="453.50" y="444.11" font-size="7.30" text-anchor="end" fill="#333">0.9</text>
<text x="559.20" y="597.71" font-size="8.70" text-anchor="middle" fill="#1a1a1a" textLength="80.80" lengthAdjust="spacingAndGlyphs">Half-life of silencing</text>
<text transform="translate(432.00,489.70) rotate(-90)" x="0" y="3.11" font-size="8.70" text-anchor="middle" fill="#222" textLength="110.70" lengthAdjust="spacingAndGlyphs">Fold recovery after washout</text>
<text x="469.80" y="403.00" font-size="7.55" text-anchor="start" fill="#1a1a1a">Gene group</text>
<circle cx="531.60" cy="400.60" r="1.75" fill="#b5dc8c" stroke="#333" stroke-width="0.45"/>
<text x="539.60" y="403.02" font-size="7.60" text-anchor="start" fill="#1a1a1a">1</text>
<circle cx="550.00" cy="400.60" r="1.75" fill="#219a45" stroke="#333" stroke-width="0.45"/>
<text x="558.00" y="403.02" font-size="7.60" text-anchor="start" fill="#1a1a1a">6</text>
<circle cx="569.80" cy="400.60" r="1.75" fill="#f7a1a4" stroke="#333" stroke-width="0.45"/>
<text x="577.80" y="403.02" font-size="7.60" text-anchor="start" fill="#1a1a1a">7</text>
<circle cx="589.70" cy="400.60" r="1.75" fill="#5a2d9c" stroke="#333" stroke-width="0.45"/>
<text x="597.70" y="403.02" font-size="7.60" text-anchor="start" fill="#1a1a1a">11</text>
<circle cx="614.50" cy="400.60" r="1.75" fill="#c9c9c9" stroke="#333" stroke-width="0.45"/>
<text x="622.50" y="403.02" font-size="7.60" text-anchor="start" fill="#1a1a1a">Others</text>
</svg>
</body></html>
